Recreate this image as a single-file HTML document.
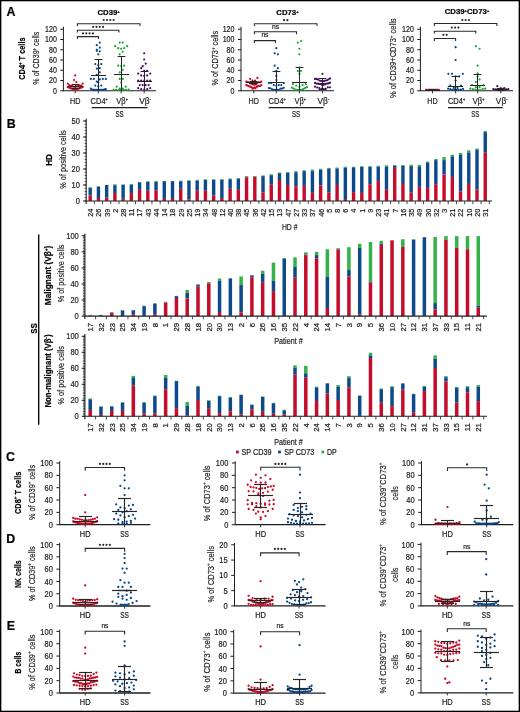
<!DOCTYPE html><html><head><meta charset="utf-8"><style>html,body{margin:0;padding:0;background:#fff;overflow:hidden;width:520px;height:712px;}svg{display:block;font-family:"Liberation Sans",sans-serif;will-change:transform;}</style></head><body><svg width="520" height="712" viewBox="0 0 520 712" font-family="Liberation Sans, sans-serif"><rect x="0" y="0" width="520" height="1.3" fill="#000"/>
<rect x="0" y="710.7" width="520" height="1.3" fill="#000"/>
<rect x="0" y="0" width="1.35" height="712" fill="#000"/>
<rect x="518.65" y="0" width="1.35" height="712" fill="#000"/>
<text transform="translate(6.6,15.5)" font-size="12.4" text-anchor="start" font-weight="bold" fill="#000" stroke="#000" stroke-width="0.2">A</text>
<text transform="translate(6.7,127.5)" font-size="12.4" text-anchor="start" font-weight="bold" fill="#000" stroke="#000" stroke-width="0.2">B</text>
<text transform="translate(6,460.9)" font-size="12.4" text-anchor="start" font-weight="bold" fill="#000" stroke="#000" stroke-width="0.2">C</text>
<text transform="translate(6.3,542.6)" font-size="12.4" text-anchor="start" font-weight="bold" fill="#000" stroke="#000" stroke-width="0.2">D</text>
<text transform="translate(6.8,629.5)" font-size="12.4" text-anchor="start" font-weight="bold" fill="#000" stroke="#000" stroke-width="0.2">E</text>
<text transform="translate(108.6,15) scale(0.970,1)" font-size="8" text-anchor="middle" font-weight="bold" fill="#000" stroke="#000" stroke-width="0.2">CD39<tspan font-size="4.4" baseline-shift="2.24">+</tspan></text>
<line x1="63.4" y1="26.65" x2="63.4" y2="91.25" stroke="#1e1e1e" stroke-width="1"/>
<line x1="60.3" y1="90.75" x2="63.4" y2="90.75" stroke="#1e1e1e" stroke-width="1"/>
<text transform="translate(56.8,93.7) scale(0.860,1)" font-size="8.2" text-anchor="end" fill="#1e1e1e" stroke="#1e1e1e" stroke-width="0.22">0</text>
<line x1="60.3" y1="80.5" x2="63.4" y2="80.5" stroke="#1e1e1e" stroke-width="1"/>
<text transform="translate(56.8,83.45) scale(0.860,1)" font-size="8.2" text-anchor="end" fill="#1e1e1e" stroke="#1e1e1e" stroke-width="0.22">20</text>
<line x1="60.3" y1="70.25" x2="63.4" y2="70.25" stroke="#1e1e1e" stroke-width="1"/>
<text transform="translate(56.8,73.2) scale(0.860,1)" font-size="8.2" text-anchor="end" fill="#1e1e1e" stroke="#1e1e1e" stroke-width="0.22">40</text>
<line x1="60.3" y1="60" x2="63.4" y2="60" stroke="#1e1e1e" stroke-width="1"/>
<text transform="translate(56.8,62.95) scale(0.860,1)" font-size="8.2" text-anchor="end" fill="#1e1e1e" stroke="#1e1e1e" stroke-width="0.22">60</text>
<line x1="60.3" y1="49.75" x2="63.4" y2="49.75" stroke="#1e1e1e" stroke-width="1"/>
<text transform="translate(56.8,52.7) scale(0.860,1)" font-size="8.2" text-anchor="end" fill="#1e1e1e" stroke="#1e1e1e" stroke-width="0.22">80</text>
<line x1="60.3" y1="39.5" x2="63.4" y2="39.5" stroke="#1e1e1e" stroke-width="1"/>
<text transform="translate(56.8,42.45) scale(0.860,1)" font-size="8.2" text-anchor="end" fill="#1e1e1e" stroke="#1e1e1e" stroke-width="0.22">100</text>
<line x1="60.3" y1="29.25" x2="63.4" y2="29.25" stroke="#1e1e1e" stroke-width="1"/>
<text transform="translate(56.8,32.2) scale(0.860,1)" font-size="8.2" text-anchor="end" fill="#1e1e1e" stroke="#1e1e1e" stroke-width="0.22">120</text>
<line x1="63.4" y1="90.75" x2="156" y2="90.75" stroke="#1e1e1e" stroke-width="1.1"/>
<line x1="75.2" y1="90.75" x2="75.2" y2="93.35" stroke="#1e1e1e" stroke-width="0.9"/>
<line x1="98.3" y1="90.75" x2="98.3" y2="93.35" stroke="#1e1e1e" stroke-width="0.9"/>
<line x1="121.2" y1="90.75" x2="121.2" y2="93.35" stroke="#1e1e1e" stroke-width="0.9"/>
<line x1="144.2" y1="90.75" x2="144.2" y2="93.35" stroke="#1e1e1e" stroke-width="0.9"/>
<path d="M75.2 75.38m-1.1 0a1.1 1.1 0 1 0 2.2 0a1.1 1.1 0 1 0 -2.2 0M76.3 82.04m-1.1 0a1.1 1.1 0 1 0 2.2 0a1.1 1.1 0 1 0 -2.2 0M74.1 79.99m-1.1 0a1.1 1.1 0 1 0 2.2 0a1.1 1.1 0 1 0 -2.2 0M75.2 86.65m-1.1 0a1.1 1.1 0 1 0 2.2 0a1.1 1.1 0 1 0 -2.2 0M73.7 86.65m-1.1 0a1.1 1.1 0 1 0 2.2 0a1.1 1.1 0 1 0 -2.2 0M76.7 86.39m-1.1 0a1.1 1.1 0 1 0 2.2 0a1.1 1.1 0 1 0 -2.2 0M72.2 86.14m-1.1 0a1.1 1.1 0 1 0 2.2 0a1.1 1.1 0 1 0 -2.2 0M78.2 86.14m-1.1 0a1.1 1.1 0 1 0 2.2 0a1.1 1.1 0 1 0 -2.2 0M70.7 85.88m-1.1 0a1.1 1.1 0 1 0 2.2 0a1.1 1.1 0 1 0 -2.2 0M79.7 85.62m-1.1 0a1.1 1.1 0 1 0 2.2 0a1.1 1.1 0 1 0 -2.2 0M81.2 85.62m-1.1 0a1.1 1.1 0 1 0 2.2 0a1.1 1.1 0 1 0 -2.2 0M69.2 85.11m-1.1 0a1.1 1.1 0 1 0 2.2 0a1.1 1.1 0 1 0 -2.2 0M67.7 83.58m-1.1 0a1.1 1.1 0 1 0 2.2 0a1.1 1.1 0 1 0 -2.2 0M82.7 83.58m-1.1 0a1.1 1.1 0 1 0 2.2 0a1.1 1.1 0 1 0 -2.2 0M75.2 89.75m-1.1 0a1.1 1.1 0 1 0 2.2 0a1.1 1.1 0 1 0 -2.2 0M76.03 89.75m-1.1 0a1.1 1.1 0 1 0 2.2 0a1.1 1.1 0 1 0 -2.2 0M74.37 89.72m-1.1 0a1.1 1.1 0 1 0 2.2 0a1.1 1.1 0 1 0 -2.2 0M73.53 89.47m-1.1 0a1.1 1.1 0 1 0 2.2 0a1.1 1.1 0 1 0 -2.2 0M76.87 89.21m-1.1 0a1.1 1.1 0 1 0 2.2 0a1.1 1.1 0 1 0 -2.2 0M72.7 89.21m-1.1 0a1.1 1.1 0 1 0 2.2 0a1.1 1.1 0 1 0 -2.2 0M77.7 88.96m-1.1 0a1.1 1.1 0 1 0 2.2 0a1.1 1.1 0 1 0 -2.2 0M71.87 88.7m-1.1 0a1.1 1.1 0 1 0 2.2 0a1.1 1.1 0 1 0 -2.2 0M78.53 88.7m-1.1 0a1.1 1.1 0 1 0 2.2 0a1.1 1.1 0 1 0 -2.2 0M71.03 88.44m-1.1 0a1.1 1.1 0 1 0 2.2 0a1.1 1.1 0 1 0 -2.2 0M79.37 88.19m-1.1 0a1.1 1.1 0 1 0 2.2 0a1.1 1.1 0 1 0 -2.2 0M70.2 88.19m-1.1 0a1.1 1.1 0 1 0 2.2 0a1.1 1.1 0 1 0 -2.2 0M80.2 87.93m-1.1 0a1.1 1.1 0 1 0 2.2 0a1.1 1.1 0 1 0 -2.2 0M81.03 87.67m-1.1 0a1.1 1.1 0 1 0 2.2 0a1.1 1.1 0 1 0 -2.2 0M69.37 87.67m-1.1 0a1.1 1.1 0 1 0 2.2 0a1.1 1.1 0 1 0 -2.2 0M81.87 87.42m-1.1 0a1.1 1.1 0 1 0 2.2 0a1.1 1.1 0 1 0 -2.2 0M68.53 87.16m-1.1 0a1.1 1.1 0 1 0 2.2 0a1.1 1.1 0 1 0 -2.2 0M67.7 87.16m-1.1 0a1.1 1.1 0 1 0 2.2 0a1.1 1.1 0 1 0 -2.2 0M82.7 86.91m-1.1 0a1.1 1.1 0 1 0 2.2 0a1.1 1.1 0 1 0 -2.2 0" fill="#cc0a26"/>
<path d="M96.8 45.14m-1.1 0a1.1 1.1 0 1 0 2.2 0a1.1 1.1 0 1 0 -2.2 0M99.8 42.58m-1.1 0a1.1 1.1 0 1 0 2.2 0a1.1 1.1 0 1 0 -2.2 0M96.8 49.75m-1.1 0a1.1 1.1 0 1 0 2.2 0a1.1 1.1 0 1 0 -2.2 0M99.8 47.7m-1.1 0a1.1 1.1 0 1 0 2.2 0a1.1 1.1 0 1 0 -2.2 0M99.8 51.29m-1.1 0a1.1 1.1 0 1 0 2.2 0a1.1 1.1 0 1 0 -2.2 0M96.8 50.78m-1.1 0a1.1 1.1 0 1 0 2.2 0a1.1 1.1 0 1 0 -2.2 0M98.3 54.36m-1.1 0a1.1 1.1 0 1 0 2.2 0a1.1 1.1 0 1 0 -2.2 0M98.3 65.12m-1.1 0a1.1 1.1 0 1 0 2.2 0a1.1 1.1 0 1 0 -2.2 0M101.3 64.1m-1.1 0a1.1 1.1 0 1 0 2.2 0a1.1 1.1 0 1 0 -2.2 0M95.3 64.1m-1.1 0a1.1 1.1 0 1 0 2.2 0a1.1 1.1 0 1 0 -2.2 0M96.8 68.71m-1.1 0a1.1 1.1 0 1 0 2.2 0a1.1 1.1 0 1 0 -2.2 0M99.8 68.2m-1.1 0a1.1 1.1 0 1 0 2.2 0a1.1 1.1 0 1 0 -2.2 0M96.8 74.86m-1.1 0a1.1 1.1 0 1 0 2.2 0a1.1 1.1 0 1 0 -2.2 0M99.8 72.3m-1.1 0a1.1 1.1 0 1 0 2.2 0a1.1 1.1 0 1 0 -2.2 0M96.8 81.53m-1.1 0a1.1 1.1 0 1 0 2.2 0a1.1 1.1 0 1 0 -2.2 0M99.8 79.47m-1.1 0a1.1 1.1 0 1 0 2.2 0a1.1 1.1 0 1 0 -2.2 0M93.8 78.96m-1.1 0a1.1 1.1 0 1 0 2.2 0a1.1 1.1 0 1 0 -2.2 0M102.8 78.96m-1.1 0a1.1 1.1 0 1 0 2.2 0a1.1 1.1 0 1 0 -2.2 0M105.8 78.96m-1.1 0a1.1 1.1 0 1 0 2.2 0a1.1 1.1 0 1 0 -2.2 0M90.8 78.96m-1.1 0a1.1 1.1 0 1 0 2.2 0a1.1 1.1 0 1 0 -2.2 0M98.3 82.55m-1.1 0a1.1 1.1 0 1 0 2.2 0a1.1 1.1 0 1 0 -2.2 0M98.3 86.39m-1.1 0a1.1 1.1 0 1 0 2.2 0a1.1 1.1 0 1 0 -2.2 0M95.3 85.62m-1.1 0a1.1 1.1 0 1 0 2.2 0a1.1 1.1 0 1 0 -2.2 0M101.3 85.62m-1.1 0a1.1 1.1 0 1 0 2.2 0a1.1 1.1 0 1 0 -2.2 0M98.98 89.75m-1.1 0a1.1 1.1 0 1 0 2.2 0a1.1 1.1 0 1 0 -2.2 0M97.62 89.75m-1.1 0a1.1 1.1 0 1 0 2.2 0a1.1 1.1 0 1 0 -2.2 0M100.35 89.75m-1.1 0a1.1 1.1 0 1 0 2.2 0a1.1 1.1 0 1 0 -2.2 0M96.25 89.75m-1.1 0a1.1 1.1 0 1 0 2.2 0a1.1 1.1 0 1 0 -2.2 0M101.71 89.75m-1.1 0a1.1 1.1 0 1 0 2.2 0a1.1 1.1 0 1 0 -2.2 0M94.89 89.75m-1.1 0a1.1 1.1 0 1 0 2.2 0a1.1 1.1 0 1 0 -2.2 0M103.07 89.75m-1.1 0a1.1 1.1 0 1 0 2.2 0a1.1 1.1 0 1 0 -2.2 0M93.53 89.75m-1.1 0a1.1 1.1 0 1 0 2.2 0a1.1 1.1 0 1 0 -2.2 0M92.16 89.72m-1.1 0a1.1 1.1 0 1 0 2.2 0a1.1 1.1 0 1 0 -2.2 0M104.44 89.47m-1.1 0a1.1 1.1 0 1 0 2.2 0a1.1 1.1 0 1 0 -2.2 0M105.8 89.21m-1.1 0a1.1 1.1 0 1 0 2.2 0a1.1 1.1 0 1 0 -2.2 0M90.8 88.7m-1.1 0a1.1 1.1 0 1 0 2.2 0a1.1 1.1 0 1 0 -2.2 0" fill="#08478a"/>
<path d="M119.7 42.58m-1.1 0a1.1 1.1 0 1 0 2.2 0a1.1 1.1 0 1 0 -2.2 0M122.7 42.58m-1.1 0a1.1 1.1 0 1 0 2.2 0a1.1 1.1 0 1 0 -2.2 0M121.2 48.73m-1.1 0a1.1 1.1 0 1 0 2.2 0a1.1 1.1 0 1 0 -2.2 0M124.2 48.21m-1.1 0a1.1 1.1 0 1 0 2.2 0a1.1 1.1 0 1 0 -2.2 0M118.2 48.21m-1.1 0a1.1 1.1 0 1 0 2.2 0a1.1 1.1 0 1 0 -2.2 0M127.2 46.16m-1.1 0a1.1 1.1 0 1 0 2.2 0a1.1 1.1 0 1 0 -2.2 0M115.2 46.16m-1.1 0a1.1 1.1 0 1 0 2.2 0a1.1 1.1 0 1 0 -2.2 0M119.7 54.36m-1.1 0a1.1 1.1 0 1 0 2.2 0a1.1 1.1 0 1 0 -2.2 0M122.7 51.8m-1.1 0a1.1 1.1 0 1 0 2.2 0a1.1 1.1 0 1 0 -2.2 0M121.2 66.15m-1.1 0a1.1 1.1 0 1 0 2.2 0a1.1 1.1 0 1 0 -2.2 0M124.2 65.64m-1.1 0a1.1 1.1 0 1 0 2.2 0a1.1 1.1 0 1 0 -2.2 0M118.2 65.64m-1.1 0a1.1 1.1 0 1 0 2.2 0a1.1 1.1 0 1 0 -2.2 0M119.7 72.3m-1.1 0a1.1 1.1 0 1 0 2.2 0a1.1 1.1 0 1 0 -2.2 0M122.7 69.74m-1.1 0a1.1 1.1 0 1 0 2.2 0a1.1 1.1 0 1 0 -2.2 0M119.7 78.96m-1.1 0a1.1 1.1 0 1 0 2.2 0a1.1 1.1 0 1 0 -2.2 0M122.7 78.96m-1.1 0a1.1 1.1 0 1 0 2.2 0a1.1 1.1 0 1 0 -2.2 0M121.2 82.55m-1.1 0a1.1 1.1 0 1 0 2.2 0a1.1 1.1 0 1 0 -2.2 0M119.7 88.7m-1.1 0a1.1 1.1 0 1 0 2.2 0a1.1 1.1 0 1 0 -2.2 0M122.7 88.7m-1.1 0a1.1 1.1 0 1 0 2.2 0a1.1 1.1 0 1 0 -2.2 0M125.7 86.65m-1.1 0a1.1 1.1 0 1 0 2.2 0a1.1 1.1 0 1 0 -2.2 0M116.7 86.65m-1.1 0a1.1 1.1 0 1 0 2.2 0a1.1 1.1 0 1 0 -2.2 0M121.2 89.75m-1.1 0a1.1 1.1 0 1 0 2.2 0a1.1 1.1 0 1 0 -2.2 0M118.7 89.75m-1.1 0a1.1 1.1 0 1 0 2.2 0a1.1 1.1 0 1 0 -2.2 0M123.7 89.75m-1.1 0a1.1 1.1 0 1 0 2.2 0a1.1 1.1 0 1 0 -2.2 0M116.2 89.75m-1.1 0a1.1 1.1 0 1 0 2.2 0a1.1 1.1 0 1 0 -2.2 0M126.2 89.75m-1.1 0a1.1 1.1 0 1 0 2.2 0a1.1 1.1 0 1 0 -2.2 0M113.7 89.75m-1.1 0a1.1 1.1 0 1 0 2.2 0a1.1 1.1 0 1 0 -2.2 0M128.7 89.72m-1.1 0a1.1 1.1 0 1 0 2.2 0a1.1 1.1 0 1 0 -2.2 0" fill="#17a636"/>
<path d="M144.2 53.34m-1.1 0a1.1 1.1 0 1 0 2.2 0a1.1 1.1 0 1 0 -2.2 0M144.2 59.49m-1.1 0a1.1 1.1 0 1 0 2.2 0a1.1 1.1 0 1 0 -2.2 0M142.7 66.15m-1.1 0a1.1 1.1 0 1 0 2.2 0a1.1 1.1 0 1 0 -2.2 0M145.7 63.59m-1.1 0a1.1 1.1 0 1 0 2.2 0a1.1 1.1 0 1 0 -2.2 0M144.2 70.76m-1.1 0a1.1 1.1 0 1 0 2.2 0a1.1 1.1 0 1 0 -2.2 0M147.2 70.76m-1.1 0a1.1 1.1 0 1 0 2.2 0a1.1 1.1 0 1 0 -2.2 0M141.2 68.2m-1.1 0a1.1 1.1 0 1 0 2.2 0a1.1 1.1 0 1 0 -2.2 0M144.2 75.89m-1.1 0a1.1 1.1 0 1 0 2.2 0a1.1 1.1 0 1 0 -2.2 0M147.2 75.38m-1.1 0a1.1 1.1 0 1 0 2.2 0a1.1 1.1 0 1 0 -2.2 0M141.2 75.38m-1.1 0a1.1 1.1 0 1 0 2.2 0a1.1 1.1 0 1 0 -2.2 0M138.2 73.58m-1.1 0a1.1 1.1 0 1 0 2.2 0a1.1 1.1 0 1 0 -2.2 0M150.2 73.58m-1.1 0a1.1 1.1 0 1 0 2.2 0a1.1 1.1 0 1 0 -2.2 0M144.2 80.5m-1.1 0a1.1 1.1 0 1 0 2.2 0a1.1 1.1 0 1 0 -2.2 0M141.2 80.5m-1.1 0a1.1 1.1 0 1 0 2.2 0a1.1 1.1 0 1 0 -2.2 0M147.2 80.5m-1.1 0a1.1 1.1 0 1 0 2.2 0a1.1 1.1 0 1 0 -2.2 0M138.2 80.5m-1.1 0a1.1 1.1 0 1 0 2.2 0a1.1 1.1 0 1 0 -2.2 0M150.2 80.5m-1.1 0a1.1 1.1 0 1 0 2.2 0a1.1 1.1 0 1 0 -2.2 0M145.7 85.11m-1.1 0a1.1 1.1 0 1 0 2.2 0a1.1 1.1 0 1 0 -2.2 0M142.7 85.11m-1.1 0a1.1 1.1 0 1 0 2.2 0a1.1 1.1 0 1 0 -2.2 0M148.7 85.11m-1.1 0a1.1 1.1 0 1 0 2.2 0a1.1 1.1 0 1 0 -2.2 0M139.7 85.11m-1.1 0a1.1 1.1 0 1 0 2.2 0a1.1 1.1 0 1 0 -2.2 0M144.2 89.72m-1.1 0a1.1 1.1 0 1 0 2.2 0a1.1 1.1 0 1 0 -2.2 0M141.2 89.21m-1.1 0a1.1 1.1 0 1 0 2.2 0a1.1 1.1 0 1 0 -2.2 0M147.2 89.21m-1.1 0a1.1 1.1 0 1 0 2.2 0a1.1 1.1 0 1 0 -2.2 0M138.2 88.19m-1.1 0a1.1 1.1 0 1 0 2.2 0a1.1 1.1 0 1 0 -2.2 0M150.2 88.19m-1.1 0a1.1 1.1 0 1 0 2.2 0a1.1 1.1 0 1 0 -2.2 0" fill="#4b0b6b"/>
<line x1="68" y1="86.5" x2="83" y2="86.5" stroke="#262626" stroke-width="1.05"/>
<line x1="75.5" y1="84.5" x2="75.5" y2="88.5" stroke="#262626" stroke-width="1.05"/>
<line x1="71.6" y1="84.5" x2="79.4" y2="84.5" stroke="#262626" stroke-width="1.05"/>
<line x1="71.6" y1="88.5" x2="79.4" y2="88.5" stroke="#262626" stroke-width="1.05"/>
<line x1="91" y1="75.5" x2="106" y2="75.5" stroke="#262626" stroke-width="1.05"/>
<line x1="98.5" y1="59.5" x2="98.5" y2="90.75" stroke="#262626" stroke-width="1.05"/>
<line x1="94.6" y1="59.5" x2="102.4" y2="59.5" stroke="#262626" stroke-width="1.05"/>
<line x1="114" y1="74.5" x2="129" y2="74.5" stroke="#262626" stroke-width="1.05"/>
<line x1="121.5" y1="56.5" x2="121.5" y2="90.75" stroke="#262626" stroke-width="1.05"/>
<line x1="117.6" y1="56.5" x2="125.4" y2="56.5" stroke="#262626" stroke-width="1.05"/>
<line x1="137" y1="81.5" x2="152" y2="81.5" stroke="#262626" stroke-width="1.05"/>
<line x1="144.5" y1="71.5" x2="144.5" y2="90.75" stroke="#262626" stroke-width="1.05"/>
<line x1="140.6" y1="71.5" x2="148.4" y2="71.5" stroke="#262626" stroke-width="1.05"/>
<path d="M77.4 39V36.6H98.5V39" fill="none" stroke="#2a2a2a" stroke-width="1.1"/>
<path d="M83 33.3m-1.1 0a1.1 1.1 0 1 0 2.2 0a1.1 1.1 0 1 0 -2.2 0M86.3 33.3m-1.1 0a1.1 1.1 0 1 0 2.2 0a1.1 1.1 0 1 0 -2.2 0M89.6 33.3m-1.1 0a1.1 1.1 0 1 0 2.2 0a1.1 1.1 0 1 0 -2.2 0M92.9 33.3m-1.1 0a1.1 1.1 0 1 0 2.2 0a1.1 1.1 0 1 0 -2.2 0" fill="#2a2a2a"/>
<path d="M77.4 32.6V30.2H118.9V32.6" fill="none" stroke="#2a2a2a" stroke-width="1.1"/>
<path d="M93.2 26.8m-1.1 0a1.1 1.1 0 1 0 2.2 0a1.1 1.1 0 1 0 -2.2 0M96.5 26.8m-1.1 0a1.1 1.1 0 1 0 2.2 0a1.1 1.1 0 1 0 -2.2 0M99.8 26.8m-1.1 0a1.1 1.1 0 1 0 2.2 0a1.1 1.1 0 1 0 -2.2 0M103.1 26.8m-1.1 0a1.1 1.1 0 1 0 2.2 0a1.1 1.1 0 1 0 -2.2 0" fill="#2a2a2a"/>
<path d="M77.4 26.1V23.7H140V26.1" fill="none" stroke="#2a2a2a" stroke-width="1.1"/>
<path d="M103.75 20m-1.1 0a1.1 1.1 0 1 0 2.2 0a1.1 1.1 0 1 0 -2.2 0M107.05 20m-1.1 0a1.1 1.1 0 1 0 2.2 0a1.1 1.1 0 1 0 -2.2 0M110.35 20m-1.1 0a1.1 1.1 0 1 0 2.2 0a1.1 1.1 0 1 0 -2.2 0M113.65 20m-1.1 0a1.1 1.1 0 1 0 2.2 0a1.1 1.1 0 1 0 -2.2 0" fill="#2a2a2a"/>
<text transform="translate(75.2,103.5) scale(0.800,1)" font-size="9" text-anchor="middle" fill="#1e1e1e" stroke="#1e1e1e" stroke-width="0.22">HD</text>
<text transform="translate(99.2,103.5) scale(0.832,1)" font-size="9" text-anchor="middle" fill="#1e1e1e" stroke="#1e1e1e" stroke-width="0.22">CD4<tspan font-size="4.5" baseline-shift="1.98">+</tspan></text>
<text transform="translate(122.1,103.5) scale(0.837,1)" font-size="9" text-anchor="middle" fill="#1e1e1e" stroke="#1e1e1e" stroke-width="0.22">V&#946;<tspan font-size="4.5" baseline-shift="1.98">+</tspan></text>
<text transform="translate(145.1,103.5) scale(0.925,1)" font-size="9" text-anchor="middle" fill="#1e1e1e" stroke="#1e1e1e" stroke-width="0.22">V&#946;<tspan font-size="4.5" baseline-shift="1.98">-</tspan></text>
<line x1="91.7" y1="107.6" x2="147.5" y2="107.6" stroke="#1e1e1e" stroke-width="1.2"/>
<text transform="translate(119.6,117.4) scale(0.640,1)" font-size="9.6" text-anchor="middle" fill="#1e1e1e" stroke="#1e1e1e" stroke-width="0.22">SS</text>
<text transform="translate(39.2,58.2) rotate(-90) scale(0.723,1)" font-size="9.8" text-anchor="middle" fill="#1e1e1e" stroke="#1e1e1e" stroke-width="0.17">% of CD39<tspan font-size="5.88" baseline-shift="3.53">+</tspan> cells</text>
<text transform="translate(25.3,58.6) rotate(-90) scale(0.819,1)" font-size="9" text-anchor="middle" font-weight="bold" fill="#000" stroke="#000" stroke-width="0.2">CD4<tspan font-size="5.4" baseline-shift="3.24">+</tspan> T cells</text>
<text transform="translate(287.5,15) scale(0.970,1)" font-size="8" text-anchor="middle" font-weight="bold" fill="#000" stroke="#000" stroke-width="0.2">CD73<tspan font-size="4.4" baseline-shift="2.24">+</tspan></text>
<line x1="241" y1="26.65" x2="241" y2="91.25" stroke="#1e1e1e" stroke-width="1"/>
<line x1="237.9" y1="90.75" x2="241" y2="90.75" stroke="#1e1e1e" stroke-width="1"/>
<text transform="translate(234.4,93.7) scale(0.860,1)" font-size="8.2" text-anchor="end" fill="#1e1e1e" stroke="#1e1e1e" stroke-width="0.22">0</text>
<line x1="237.9" y1="80.5" x2="241" y2="80.5" stroke="#1e1e1e" stroke-width="1"/>
<text transform="translate(234.4,83.45) scale(0.860,1)" font-size="8.2" text-anchor="end" fill="#1e1e1e" stroke="#1e1e1e" stroke-width="0.22">20</text>
<line x1="237.9" y1="70.25" x2="241" y2="70.25" stroke="#1e1e1e" stroke-width="1"/>
<text transform="translate(234.4,73.2) scale(0.860,1)" font-size="8.2" text-anchor="end" fill="#1e1e1e" stroke="#1e1e1e" stroke-width="0.22">40</text>
<line x1="237.9" y1="60" x2="241" y2="60" stroke="#1e1e1e" stroke-width="1"/>
<text transform="translate(234.4,62.95) scale(0.860,1)" font-size="8.2" text-anchor="end" fill="#1e1e1e" stroke="#1e1e1e" stroke-width="0.22">60</text>
<line x1="237.9" y1="49.75" x2="241" y2="49.75" stroke="#1e1e1e" stroke-width="1"/>
<text transform="translate(234.4,52.7) scale(0.860,1)" font-size="8.2" text-anchor="end" fill="#1e1e1e" stroke="#1e1e1e" stroke-width="0.22">80</text>
<line x1="237.9" y1="39.5" x2="241" y2="39.5" stroke="#1e1e1e" stroke-width="1"/>
<text transform="translate(234.4,42.45) scale(0.860,1)" font-size="8.2" text-anchor="end" fill="#1e1e1e" stroke="#1e1e1e" stroke-width="0.22">100</text>
<line x1="237.9" y1="29.25" x2="241" y2="29.25" stroke="#1e1e1e" stroke-width="1"/>
<text transform="translate(234.4,32.2) scale(0.860,1)" font-size="8.2" text-anchor="end" fill="#1e1e1e" stroke="#1e1e1e" stroke-width="0.22">120</text>
<line x1="241" y1="90.75" x2="334" y2="90.75" stroke="#1e1e1e" stroke-width="1.1"/>
<line x1="253.8" y1="90.75" x2="253.8" y2="93.35" stroke="#1e1e1e" stroke-width="0.9"/>
<line x1="276.3" y1="90.75" x2="276.3" y2="93.35" stroke="#1e1e1e" stroke-width="0.9"/>
<line x1="299.4" y1="90.75" x2="299.4" y2="93.35" stroke="#1e1e1e" stroke-width="0.9"/>
<line x1="322.5" y1="90.75" x2="322.5" y2="93.35" stroke="#1e1e1e" stroke-width="0.9"/>
<path d="M252.6 80.5m-1.1 0a1.1 1.1 0 1 0 2.2 0a1.1 1.1 0 1 0 -2.2 0M255 80.5m-1.1 0a1.1 1.1 0 1 0 2.2 0a1.1 1.1 0 1 0 -2.2 0M250.2 78.96m-1.1 0a1.1 1.1 0 1 0 2.2 0a1.1 1.1 0 1 0 -2.2 0M257.4 77.94m-1.1 0a1.1 1.1 0 1 0 2.2 0a1.1 1.1 0 1 0 -2.2 0M253.8 84.76m-1.1 0a1.1 1.1 0 1 0 2.2 0a1.1 1.1 0 1 0 -2.2 0M255.05 84.74m-1.1 0a1.1 1.1 0 1 0 2.2 0a1.1 1.1 0 1 0 -2.2 0M252.55 84.21m-1.1 0a1.1 1.1 0 1 0 2.2 0a1.1 1.1 0 1 0 -2.2 0M256.3 84.14m-1.1 0a1.1 1.1 0 1 0 2.2 0a1.1 1.1 0 1 0 -2.2 0M251.3 83.63m-1.1 0a1.1 1.1 0 1 0 2.2 0a1.1 1.1 0 1 0 -2.2 0M250.05 83.47m-1.1 0a1.1 1.1 0 1 0 2.2 0a1.1 1.1 0 1 0 -2.2 0M257.55 82.42m-1.1 0a1.1 1.1 0 1 0 2.2 0a1.1 1.1 0 1 0 -2.2 0M258.8 82.29m-1.1 0a1.1 1.1 0 1 0 2.2 0a1.1 1.1 0 1 0 -2.2 0M248.8 82.26m-1.1 0a1.1 1.1 0 1 0 2.2 0a1.1 1.1 0 1 0 -2.2 0M260.05 82.24m-1.1 0a1.1 1.1 0 1 0 2.2 0a1.1 1.1 0 1 0 -2.2 0M247.55 82.17m-1.1 0a1.1 1.1 0 1 0 2.2 0a1.1 1.1 0 1 0 -2.2 0M261.3 81.67m-1.1 0a1.1 1.1 0 1 0 2.2 0a1.1 1.1 0 1 0 -2.2 0M246.3 81.65m-1.1 0a1.1 1.1 0 1 0 2.2 0a1.1 1.1 0 1 0 -2.2 0M253.8 88.17m-1.1 0a1.1 1.1 0 1 0 2.2 0a1.1 1.1 0 1 0 -2.2 0M252.73 88.06m-1.1 0a1.1 1.1 0 1 0 2.2 0a1.1 1.1 0 1 0 -2.2 0M254.87 87.65m-1.1 0a1.1 1.1 0 1 0 2.2 0a1.1 1.1 0 1 0 -2.2 0M255.94 87.63m-1.1 0a1.1 1.1 0 1 0 2.2 0a1.1 1.1 0 1 0 -2.2 0M251.66 87.34m-1.1 0a1.1 1.1 0 1 0 2.2 0a1.1 1.1 0 1 0 -2.2 0M250.59 86.94m-1.1 0a1.1 1.1 0 1 0 2.2 0a1.1 1.1 0 1 0 -2.2 0M257.01 86.65m-1.1 0a1.1 1.1 0 1 0 2.2 0a1.1 1.1 0 1 0 -2.2 0M249.51 86.49m-1.1 0a1.1 1.1 0 1 0 2.2 0a1.1 1.1 0 1 0 -2.2 0M258.09 86.1m-1.1 0a1.1 1.1 0 1 0 2.2 0a1.1 1.1 0 1 0 -2.2 0M259.16 86.02m-1.1 0a1.1 1.1 0 1 0 2.2 0a1.1 1.1 0 1 0 -2.2 0M248.44 86.02m-1.1 0a1.1 1.1 0 1 0 2.2 0a1.1 1.1 0 1 0 -2.2 0M260.23 86.01m-1.1 0a1.1 1.1 0 1 0 2.2 0a1.1 1.1 0 1 0 -2.2 0M247.37 85.55m-1.1 0a1.1 1.1 0 1 0 2.2 0a1.1 1.1 0 1 0 -2.2 0M261.3 85.1m-1.1 0a1.1 1.1 0 1 0 2.2 0a1.1 1.1 0 1 0 -2.2 0M246.3 85.07m-1.1 0a1.1 1.1 0 1 0 2.2 0a1.1 1.1 0 1 0 -2.2 0M252.6 88.64m-1.1 0a1.1 1.1 0 1 0 2.2 0a1.1 1.1 0 1 0 -2.2 0M255 88.3m-1.1 0a1.1 1.1 0 1 0 2.2 0a1.1 1.1 0 1 0 -2.2 0" fill="#cc0a26"/>
<path d="M276.3 48.21m-1.1 0a1.1 1.1 0 1 0 2.2 0a1.1 1.1 0 1 0 -2.2 0M277.9 54.36m-1.1 0a1.1 1.1 0 1 0 2.2 0a1.1 1.1 0 1 0 -2.2 0M274.7 53.34m-1.1 0a1.1 1.1 0 1 0 2.2 0a1.1 1.1 0 1 0 -2.2 0M277.9 68.2m-1.1 0a1.1 1.1 0 1 0 2.2 0a1.1 1.1 0 1 0 -2.2 0M274.7 65.64m-1.1 0a1.1 1.1 0 1 0 2.2 0a1.1 1.1 0 1 0 -2.2 0M276.3 70.76m-1.1 0a1.1 1.1 0 1 0 2.2 0a1.1 1.1 0 1 0 -2.2 0M276.3 75.89m-1.1 0a1.1 1.1 0 1 0 2.2 0a1.1 1.1 0 1 0 -2.2 0M276.3 79.99m-1.1 0a1.1 1.1 0 1 0 2.2 0a1.1 1.1 0 1 0 -2.2 0M276.3 85.62m-1.1 0a1.1 1.1 0 1 0 2.2 0a1.1 1.1 0 1 0 -2.2 0M278.8 85.11m-1.1 0a1.1 1.1 0 1 0 2.2 0a1.1 1.1 0 1 0 -2.2 0M273.8 85.11m-1.1 0a1.1 1.1 0 1 0 2.2 0a1.1 1.1 0 1 0 -2.2 0M281.3 85.11m-1.1 0a1.1 1.1 0 1 0 2.2 0a1.1 1.1 0 1 0 -2.2 0M271.3 83.06m-1.1 0a1.1 1.1 0 1 0 2.2 0a1.1 1.1 0 1 0 -2.2 0M283.8 83.06m-1.1 0a1.1 1.1 0 1 0 2.2 0a1.1 1.1 0 1 0 -2.2 0M268.8 83.06m-1.1 0a1.1 1.1 0 1 0 2.2 0a1.1 1.1 0 1 0 -2.2 0M275.47 89.75m-1.1 0a1.1 1.1 0 1 0 2.2 0a1.1 1.1 0 1 0 -2.2 0M277.13 89.75m-1.1 0a1.1 1.1 0 1 0 2.2 0a1.1 1.1 0 1 0 -2.2 0M278.8 89.75m-1.1 0a1.1 1.1 0 1 0 2.2 0a1.1 1.1 0 1 0 -2.2 0M273.8 89.75m-1.1 0a1.1 1.1 0 1 0 2.2 0a1.1 1.1 0 1 0 -2.2 0M272.13 89.29m-1.1 0a1.1 1.1 0 1 0 2.2 0a1.1 1.1 0 1 0 -2.2 0M280.47 88.71m-1.1 0a1.1 1.1 0 1 0 2.2 0a1.1 1.1 0 1 0 -2.2 0M282.13 88.55m-1.1 0a1.1 1.1 0 1 0 2.2 0a1.1 1.1 0 1 0 -2.2 0M270.47 88.23m-1.1 0a1.1 1.1 0 1 0 2.2 0a1.1 1.1 0 1 0 -2.2 0M268.8 88.08m-1.1 0a1.1 1.1 0 1 0 2.2 0a1.1 1.1 0 1 0 -2.2 0M283.8 87.85m-1.1 0a1.1 1.1 0 1 0 2.2 0a1.1 1.1 0 1 0 -2.2 0" fill="#08478a"/>
<path d="M297.8 42.58m-1.1 0a1.1 1.1 0 1 0 2.2 0a1.1 1.1 0 1 0 -2.2 0M301 41.04m-1.1 0a1.1 1.1 0 1 0 2.2 0a1.1 1.1 0 1 0 -2.2 0M299.4 48.73m-1.1 0a1.1 1.1 0 1 0 2.2 0a1.1 1.1 0 1 0 -2.2 0M299.4 54.36m-1.1 0a1.1 1.1 0 1 0 2.2 0a1.1 1.1 0 1 0 -2.2 0M299.4 67.69m-1.1 0a1.1 1.1 0 1 0 2.2 0a1.1 1.1 0 1 0 -2.2 0M297.8 71.02m-1.1 0a1.1 1.1 0 1 0 2.2 0a1.1 1.1 0 1 0 -2.2 0M301 71.02m-1.1 0a1.1 1.1 0 1 0 2.2 0a1.1 1.1 0 1 0 -2.2 0M299.4 73.84m-1.1 0a1.1 1.1 0 1 0 2.2 0a1.1 1.1 0 1 0 -2.2 0M299.4 86.65m-1.1 0a1.1 1.1 0 1 0 2.2 0a1.1 1.1 0 1 0 -2.2 0M296.2 85.62m-1.1 0a1.1 1.1 0 1 0 2.2 0a1.1 1.1 0 1 0 -2.2 0M302.6 85.11m-1.1 0a1.1 1.1 0 1 0 2.2 0a1.1 1.1 0 1 0 -2.2 0M293 84.09m-1.1 0a1.1 1.1 0 1 0 2.2 0a1.1 1.1 0 1 0 -2.2 0M305.8 84.09m-1.1 0a1.1 1.1 0 1 0 2.2 0a1.1 1.1 0 1 0 -2.2 0M299.4 89.75m-1.1 0a1.1 1.1 0 1 0 2.2 0a1.1 1.1 0 1 0 -2.2 0M297.52 89.75m-1.1 0a1.1 1.1 0 1 0 2.2 0a1.1 1.1 0 1 0 -2.2 0M301.27 89.75m-1.1 0a1.1 1.1 0 1 0 2.2 0a1.1 1.1 0 1 0 -2.2 0M295.65 89.72m-1.1 0a1.1 1.1 0 1 0 2.2 0a1.1 1.1 0 1 0 -2.2 0M303.15 89.21m-1.1 0a1.1 1.1 0 1 0 2.2 0a1.1 1.1 0 1 0 -2.2 0M293.77 88.7m-1.1 0a1.1 1.1 0 1 0 2.2 0a1.1 1.1 0 1 0 -2.2 0M305.02 88.19m-1.1 0a1.1 1.1 0 1 0 2.2 0a1.1 1.1 0 1 0 -2.2 0M291.9 87.67m-1.1 0a1.1 1.1 0 1 0 2.2 0a1.1 1.1 0 1 0 -2.2 0M306.9 87.16m-1.1 0a1.1 1.1 0 1 0 2.2 0a1.1 1.1 0 1 0 -2.2 0" fill="#17a636"/>
<path d="M322.5 73.84m-1.1 0a1.1 1.1 0 1 0 2.2 0a1.1 1.1 0 1 0 -2.2 0M322.5 81.45m-1.1 0a1.1 1.1 0 1 0 2.2 0a1.1 1.1 0 1 0 -2.2 0M324 81.13m-1.1 0a1.1 1.1 0 1 0 2.2 0a1.1 1.1 0 1 0 -2.2 0M321 80.81m-1.1 0a1.1 1.1 0 1 0 2.2 0a1.1 1.1 0 1 0 -2.2 0M319.5 80.56m-1.1 0a1.1 1.1 0 1 0 2.2 0a1.1 1.1 0 1 0 -2.2 0M325.5 80.49m-1.1 0a1.1 1.1 0 1 0 2.2 0a1.1 1.1 0 1 0 -2.2 0M327 80.32m-1.1 0a1.1 1.1 0 1 0 2.2 0a1.1 1.1 0 1 0 -2.2 0M318 79.47m-1.1 0a1.1 1.1 0 1 0 2.2 0a1.1 1.1 0 1 0 -2.2 0M328.5 79.47m-1.1 0a1.1 1.1 0 1 0 2.2 0a1.1 1.1 0 1 0 -2.2 0M316.5 78.96m-1.1 0a1.1 1.1 0 1 0 2.2 0a1.1 1.1 0 1 0 -2.2 0M315 78.96m-1.1 0a1.1 1.1 0 1 0 2.2 0a1.1 1.1 0 1 0 -2.2 0M330 78.45m-1.1 0a1.1 1.1 0 1 0 2.2 0a1.1 1.1 0 1 0 -2.2 0M322.5 85.43m-1.1 0a1.1 1.1 0 1 0 2.2 0a1.1 1.1 0 1 0 -2.2 0M324 84.59m-1.1 0a1.1 1.1 0 1 0 2.2 0a1.1 1.1 0 1 0 -2.2 0M321 84.34m-1.1 0a1.1 1.1 0 1 0 2.2 0a1.1 1.1 0 1 0 -2.2 0M325.5 84.04m-1.1 0a1.1 1.1 0 1 0 2.2 0a1.1 1.1 0 1 0 -2.2 0M319.5 84.01m-1.1 0a1.1 1.1 0 1 0 2.2 0a1.1 1.1 0 1 0 -2.2 0M318 83.66m-1.1 0a1.1 1.1 0 1 0 2.2 0a1.1 1.1 0 1 0 -2.2 0M327 83.6m-1.1 0a1.1 1.1 0 1 0 2.2 0a1.1 1.1 0 1 0 -2.2 0M316.5 83.57m-1.1 0a1.1 1.1 0 1 0 2.2 0a1.1 1.1 0 1 0 -2.2 0M328.5 83.39m-1.1 0a1.1 1.1 0 1 0 2.2 0a1.1 1.1 0 1 0 -2.2 0M315 82.93m-1.1 0a1.1 1.1 0 1 0 2.2 0a1.1 1.1 0 1 0 -2.2 0M330 82.63m-1.1 0a1.1 1.1 0 1 0 2.2 0a1.1 1.1 0 1 0 -2.2 0M323.57 89.12m-1.1 0a1.1 1.1 0 1 0 2.2 0a1.1 1.1 0 1 0 -2.2 0M321.43 88.89m-1.1 0a1.1 1.1 0 1 0 2.2 0a1.1 1.1 0 1 0 -2.2 0M325.71 88.8m-1.1 0a1.1 1.1 0 1 0 2.2 0a1.1 1.1 0 1 0 -2.2 0M319.29 88.1m-1.1 0a1.1 1.1 0 1 0 2.2 0a1.1 1.1 0 1 0 -2.2 0M317.14 87.5m-1.1 0a1.1 1.1 0 1 0 2.2 0a1.1 1.1 0 1 0 -2.2 0M327.86 87.29m-1.1 0a1.1 1.1 0 1 0 2.2 0a1.1 1.1 0 1 0 -2.2 0M330 87.28m-1.1 0a1.1 1.1 0 1 0 2.2 0a1.1 1.1 0 1 0 -2.2 0M315 86.64m-1.1 0a1.1 1.1 0 1 0 2.2 0a1.1 1.1 0 1 0 -2.2 0" fill="#4b0b6b"/>
<line x1="246" y1="82.5" x2="261" y2="82.5" stroke="#262626" stroke-width="1.05"/>
<line x1="253.5" y1="81.5" x2="253.5" y2="83.5" stroke="#262626" stroke-width="1.05"/>
<line x1="249.6" y1="81.5" x2="257.4" y2="81.5" stroke="#262626" stroke-width="1.05"/>
<line x1="249.6" y1="83.5" x2="257.4" y2="83.5" stroke="#262626" stroke-width="1.05"/>
<line x1="269" y1="82.5" x2="284" y2="82.5" stroke="#262626" stroke-width="1.05"/>
<line x1="276.5" y1="71.5" x2="276.5" y2="90.75" stroke="#262626" stroke-width="1.05"/>
<line x1="272.6" y1="71.5" x2="280.4" y2="71.5" stroke="#262626" stroke-width="1.05"/>
<line x1="292" y1="82.5" x2="307" y2="82.5" stroke="#262626" stroke-width="1.05"/>
<line x1="299.5" y1="67.5" x2="299.5" y2="90.75" stroke="#262626" stroke-width="1.05"/>
<line x1="295.6" y1="67.5" x2="303.4" y2="67.5" stroke="#262626" stroke-width="1.05"/>
<line x1="315" y1="83.5" x2="330" y2="83.5" stroke="#262626" stroke-width="1.05"/>
<line x1="322.5" y1="78.5" x2="322.5" y2="89.5" stroke="#262626" stroke-width="1.05"/>
<line x1="318.6" y1="78.5" x2="326.4" y2="78.5" stroke="#262626" stroke-width="1.05"/>
<line x1="318.6" y1="89.5" x2="326.4" y2="89.5" stroke="#262626" stroke-width="1.05"/>
<path d="M254.4 43V40.6H275.4V43" fill="none" stroke="#2a2a2a" stroke-width="1.1"/>
<text transform="translate(264.9,37.1) scale(0.930,1)" font-size="7.2" text-anchor="middle" fill="#1e1e1e" stroke="#1e1e1e" stroke-width="0.22">ns</text>
<path d="M254.4 34.2V31.8H296.5V34.2" fill="none" stroke="#2a2a2a" stroke-width="1.1"/>
<text transform="translate(275.45,29) scale(0.930,1)" font-size="7.2" text-anchor="middle" fill="#1e1e1e" stroke="#1e1e1e" stroke-width="0.22">ns</text>
<path d="M254.4 26.1V23.7H317V26.1" fill="none" stroke="#2a2a2a" stroke-width="1.1"/>
<path d="M284.05 20.2m-1.1 0a1.1 1.1 0 1 0 2.2 0a1.1 1.1 0 1 0 -2.2 0M287.35 20.2m-1.1 0a1.1 1.1 0 1 0 2.2 0a1.1 1.1 0 1 0 -2.2 0" fill="#2a2a2a"/>
<text transform="translate(253.8,103.5) scale(0.800,1)" font-size="9" text-anchor="middle" fill="#1e1e1e" stroke="#1e1e1e" stroke-width="0.22">HD</text>
<text transform="translate(277.2,103.5) scale(0.832,1)" font-size="9" text-anchor="middle" fill="#1e1e1e" stroke="#1e1e1e" stroke-width="0.22">CD4<tspan font-size="4.5" baseline-shift="1.98">+</tspan></text>
<text transform="translate(300.3,103.5) scale(0.837,1)" font-size="9" text-anchor="middle" fill="#1e1e1e" stroke="#1e1e1e" stroke-width="0.22">V&#946;<tspan font-size="4.5" baseline-shift="1.98">+</tspan></text>
<text transform="translate(323.4,103.5) scale(0.925,1)" font-size="9" text-anchor="middle" fill="#1e1e1e" stroke="#1e1e1e" stroke-width="0.22">V&#946;<tspan font-size="4.5" baseline-shift="1.98">-</tspan></text>
<line x1="268.7" y1="107.6" x2="323.5" y2="107.6" stroke="#1e1e1e" stroke-width="1.2"/>
<text transform="translate(296.1,117.4) scale(0.640,1)" font-size="9.6" text-anchor="middle" fill="#1e1e1e" stroke="#1e1e1e" stroke-width="0.22">SS</text>
<text transform="translate(218,58.2) rotate(-90) scale(0.749,1)" font-size="9.8" text-anchor="middle" fill="#1e1e1e" stroke="#1e1e1e" stroke-width="0.17">% of CD73<tspan font-size="5.88" baseline-shift="3.53">+</tspan> cells</text>
<text transform="translate(467,13.9) scale(0.970,1)" font-size="8" text-anchor="middle" font-weight="bold" fill="#000" stroke="#000" stroke-width="0.2">CD39<tspan font-size="4.4" baseline-shift="2.24">+</tspan>CD73<tspan font-size="4.4" baseline-shift="2.24">+</tspan></text>
<line x1="420.4" y1="26.65" x2="420.4" y2="91.25" stroke="#1e1e1e" stroke-width="1"/>
<line x1="417.3" y1="90.75" x2="420.4" y2="90.75" stroke="#1e1e1e" stroke-width="1"/>
<text transform="translate(413.8,93.7) scale(0.860,1)" font-size="8.2" text-anchor="end" fill="#1e1e1e" stroke="#1e1e1e" stroke-width="0.22">0</text>
<line x1="417.3" y1="80.5" x2="420.4" y2="80.5" stroke="#1e1e1e" stroke-width="1"/>
<text transform="translate(413.8,83.45) scale(0.860,1)" font-size="8.2" text-anchor="end" fill="#1e1e1e" stroke="#1e1e1e" stroke-width="0.22">20</text>
<line x1="417.3" y1="70.25" x2="420.4" y2="70.25" stroke="#1e1e1e" stroke-width="1"/>
<text transform="translate(413.8,73.2) scale(0.860,1)" font-size="8.2" text-anchor="end" fill="#1e1e1e" stroke="#1e1e1e" stroke-width="0.22">40</text>
<line x1="417.3" y1="60" x2="420.4" y2="60" stroke="#1e1e1e" stroke-width="1"/>
<text transform="translate(413.8,62.95) scale(0.860,1)" font-size="8.2" text-anchor="end" fill="#1e1e1e" stroke="#1e1e1e" stroke-width="0.22">60</text>
<line x1="417.3" y1="49.75" x2="420.4" y2="49.75" stroke="#1e1e1e" stroke-width="1"/>
<text transform="translate(413.8,52.7) scale(0.860,1)" font-size="8.2" text-anchor="end" fill="#1e1e1e" stroke="#1e1e1e" stroke-width="0.22">80</text>
<line x1="417.3" y1="39.5" x2="420.4" y2="39.5" stroke="#1e1e1e" stroke-width="1"/>
<text transform="translate(413.8,42.45) scale(0.860,1)" font-size="8.2" text-anchor="end" fill="#1e1e1e" stroke="#1e1e1e" stroke-width="0.22">100</text>
<line x1="417.3" y1="29.25" x2="420.4" y2="29.25" stroke="#1e1e1e" stroke-width="1"/>
<text transform="translate(413.8,32.2) scale(0.860,1)" font-size="8.2" text-anchor="end" fill="#1e1e1e" stroke="#1e1e1e" stroke-width="0.22">120</text>
<line x1="420.4" y1="90.75" x2="513" y2="90.75" stroke="#1e1e1e" stroke-width="1.1"/>
<line x1="432.5" y1="90.75" x2="432.5" y2="93.35" stroke="#1e1e1e" stroke-width="0.9"/>
<line x1="455.6" y1="90.75" x2="455.6" y2="93.35" stroke="#1e1e1e" stroke-width="0.9"/>
<line x1="477.7" y1="90.75" x2="477.7" y2="93.35" stroke="#1e1e1e" stroke-width="0.9"/>
<line x1="500.8" y1="90.75" x2="500.8" y2="93.35" stroke="#1e1e1e" stroke-width="0.9"/>
<path d="M432.93 89.75m-1.1 0a1.1 1.1 0 1 0 2.2 0a1.1 1.1 0 1 0 -2.2 0M432.07 89.75m-1.1 0a1.1 1.1 0 1 0 2.2 0a1.1 1.1 0 1 0 -2.2 0M433.8 89.75m-1.1 0a1.1 1.1 0 1 0 2.2 0a1.1 1.1 0 1 0 -2.2 0M431.2 89.75m-1.1 0a1.1 1.1 0 1 0 2.2 0a1.1 1.1 0 1 0 -2.2 0M430.33 89.75m-1.1 0a1.1 1.1 0 1 0 2.2 0a1.1 1.1 0 1 0 -2.2 0M434.67 89.75m-1.1 0a1.1 1.1 0 1 0 2.2 0a1.1 1.1 0 1 0 -2.2 0M435.53 89.75m-1.1 0a1.1 1.1 0 1 0 2.2 0a1.1 1.1 0 1 0 -2.2 0M429.47 89.75m-1.1 0a1.1 1.1 0 1 0 2.2 0a1.1 1.1 0 1 0 -2.2 0M436.4 89.75m-1.1 0a1.1 1.1 0 1 0 2.2 0a1.1 1.1 0 1 0 -2.2 0M428.6 89.75m-1.1 0a1.1 1.1 0 1 0 2.2 0a1.1 1.1 0 1 0 -2.2 0M437.27 89.75m-1.1 0a1.1 1.1 0 1 0 2.2 0a1.1 1.1 0 1 0 -2.2 0M427.73 89.75m-1.1 0a1.1 1.1 0 1 0 2.2 0a1.1 1.1 0 1 0 -2.2 0M438.13 89.75m-1.1 0a1.1 1.1 0 1 0 2.2 0a1.1 1.1 0 1 0 -2.2 0M426.87 89.75m-1.1 0a1.1 1.1 0 1 0 2.2 0a1.1 1.1 0 1 0 -2.2 0M426 89.75m-1.1 0a1.1 1.1 0 1 0 2.2 0a1.1 1.1 0 1 0 -2.2 0M439 89.75m-1.1 0a1.1 1.1 0 1 0 2.2 0a1.1 1.1 0 1 0 -2.2 0" fill="#cc0a26"/>
<path d="M455.6 47.19m-1.1 0a1.1 1.1 0 1 0 2.2 0a1.1 1.1 0 1 0 -2.2 0M455.6 60m-1.1 0a1.1 1.1 0 1 0 2.2 0a1.1 1.1 0 1 0 -2.2 0M455.6 76.4m-1.1 0a1.1 1.1 0 1 0 2.2 0a1.1 1.1 0 1 0 -2.2 0M459.2 76.4m-1.1 0a1.1 1.1 0 1 0 2.2 0a1.1 1.1 0 1 0 -2.2 0M452 73.84m-1.1 0a1.1 1.1 0 1 0 2.2 0a1.1 1.1 0 1 0 -2.2 0M448.4 73.84m-1.1 0a1.1 1.1 0 1 0 2.2 0a1.1 1.1 0 1 0 -2.2 0M462.8 73.84m-1.1 0a1.1 1.1 0 1 0 2.2 0a1.1 1.1 0 1 0 -2.2 0M455.6 80.5m-1.1 0a1.1 1.1 0 1 0 2.2 0a1.1 1.1 0 1 0 -2.2 0M457.4 87.93m-1.1 0a1.1 1.1 0 1 0 2.2 0a1.1 1.1 0 1 0 -2.2 0M453.8 87.93m-1.1 0a1.1 1.1 0 1 0 2.2 0a1.1 1.1 0 1 0 -2.2 0M461 85.62m-1.1 0a1.1 1.1 0 1 0 2.2 0a1.1 1.1 0 1 0 -2.2 0M450.2 85.62m-1.1 0a1.1 1.1 0 1 0 2.2 0a1.1 1.1 0 1 0 -2.2 0M456.67 89.75m-1.1 0a1.1 1.1 0 1 0 2.2 0a1.1 1.1 0 1 0 -2.2 0M454.53 89.75m-1.1 0a1.1 1.1 0 1 0 2.2 0a1.1 1.1 0 1 0 -2.2 0M452.39 89.75m-1.1 0a1.1 1.1 0 1 0 2.2 0a1.1 1.1 0 1 0 -2.2 0M458.81 89.75m-1.1 0a1.1 1.1 0 1 0 2.2 0a1.1 1.1 0 1 0 -2.2 0M460.96 89.72m-1.1 0a1.1 1.1 0 1 0 2.2 0a1.1 1.1 0 1 0 -2.2 0M450.24 89.21m-1.1 0a1.1 1.1 0 1 0 2.2 0a1.1 1.1 0 1 0 -2.2 0M463.1 88.96m-1.1 0a1.1 1.1 0 1 0 2.2 0a1.1 1.1 0 1 0 -2.2 0M448.1 88.7m-1.1 0a1.1 1.1 0 1 0 2.2 0a1.1 1.1 0 1 0 -2.2 0" fill="#08478a"/>
<path d="M479.6 48.73m-1.1 0a1.1 1.1 0 1 0 2.2 0a1.1 1.1 0 1 0 -2.2 0M475.8 46.16m-1.1 0a1.1 1.1 0 1 0 2.2 0a1.1 1.1 0 1 0 -2.2 0M477.7 65.64m-1.1 0a1.1 1.1 0 1 0 2.2 0a1.1 1.1 0 1 0 -2.2 0M477.7 73.33m-1.1 0a1.1 1.1 0 1 0 2.2 0a1.1 1.1 0 1 0 -2.2 0M477.7 76.4m-1.1 0a1.1 1.1 0 1 0 2.2 0a1.1 1.1 0 1 0 -2.2 0M475.8 82.04m-1.1 0a1.1 1.1 0 1 0 2.2 0a1.1 1.1 0 1 0 -2.2 0M479.6 79.47m-1.1 0a1.1 1.1 0 1 0 2.2 0a1.1 1.1 0 1 0 -2.2 0M479.6 87.16m-1.1 0a1.1 1.1 0 1 0 2.2 0a1.1 1.1 0 1 0 -2.2 0M475.8 87.16m-1.1 0a1.1 1.1 0 1 0 2.2 0a1.1 1.1 0 1 0 -2.2 0M483.4 85.11m-1.1 0a1.1 1.1 0 1 0 2.2 0a1.1 1.1 0 1 0 -2.2 0M472 85.11m-1.1 0a1.1 1.1 0 1 0 2.2 0a1.1 1.1 0 1 0 -2.2 0M477.7 89.75m-1.1 0a1.1 1.1 0 1 0 2.2 0a1.1 1.1 0 1 0 -2.2 0M480.2 89.75m-1.1 0a1.1 1.1 0 1 0 2.2 0a1.1 1.1 0 1 0 -2.2 0M475.2 89.72m-1.1 0a1.1 1.1 0 1 0 2.2 0a1.1 1.1 0 1 0 -2.2 0M472.7 89.21m-1.1 0a1.1 1.1 0 1 0 2.2 0a1.1 1.1 0 1 0 -2.2 0M482.7 88.96m-1.1 0a1.1 1.1 0 1 0 2.2 0a1.1 1.1 0 1 0 -2.2 0M470.2 88.7m-1.1 0a1.1 1.1 0 1 0 2.2 0a1.1 1.1 0 1 0 -2.2 0M485.2 88.7m-1.1 0a1.1 1.1 0 1 0 2.2 0a1.1 1.1 0 1 0 -2.2 0" fill="#17a636"/>
<path d="M500.8 87.98m-1.1 0a1.1 1.1 0 1 0 2.2 0a1.1 1.1 0 1 0 -2.2 0M504.3 87.98m-1.1 0a1.1 1.1 0 1 0 2.2 0a1.1 1.1 0 1 0 -2.2 0M497.3 86.14m-1.1 0a1.1 1.1 0 1 0 2.2 0a1.1 1.1 0 1 0 -2.2 0M499.73 89.75m-1.1 0a1.1 1.1 0 1 0 2.2 0a1.1 1.1 0 1 0 -2.2 0M501.87 89.75m-1.1 0a1.1 1.1 0 1 0 2.2 0a1.1 1.1 0 1 0 -2.2 0M497.59 89.75m-1.1 0a1.1 1.1 0 1 0 2.2 0a1.1 1.1 0 1 0 -2.2 0M504.01 89.75m-1.1 0a1.1 1.1 0 1 0 2.2 0a1.1 1.1 0 1 0 -2.2 0M495.44 89.42m-1.1 0a1.1 1.1 0 1 0 2.2 0a1.1 1.1 0 1 0 -2.2 0M506.16 89.42m-1.1 0a1.1 1.1 0 1 0 2.2 0a1.1 1.1 0 1 0 -2.2 0M508.3 89.21m-1.1 0a1.1 1.1 0 1 0 2.2 0a1.1 1.1 0 1 0 -2.2 0M493.3 89.21m-1.1 0a1.1 1.1 0 1 0 2.2 0a1.1 1.1 0 1 0 -2.2 0" fill="#4b0b6b"/>
<line x1="425" y1="90.5" x2="440" y2="90.5" stroke="#262626" stroke-width="1.05"/>
<line x1="432.5" y1="89.5" x2="432.5" y2="90.5" stroke="#262626" stroke-width="1.05"/>
<line x1="428.6" y1="89.5" x2="436.4" y2="89.5" stroke="#262626" stroke-width="1.05"/>
<line x1="428.6" y1="90.5" x2="436.4" y2="90.5" stroke="#262626" stroke-width="1.05"/>
<line x1="448" y1="86.5" x2="463" y2="86.5" stroke="#262626" stroke-width="1.05"/>
<line x1="455.5" y1="76.5" x2="455.5" y2="90.75" stroke="#262626" stroke-width="1.05"/>
<line x1="451.6" y1="76.5" x2="459.4" y2="76.5" stroke="#262626" stroke-width="1.05"/>
<line x1="470" y1="85.5" x2="485" y2="85.5" stroke="#262626" stroke-width="1.05"/>
<line x1="477.5" y1="74.5" x2="477.5" y2="90.75" stroke="#262626" stroke-width="1.05"/>
<line x1="473.6" y1="74.5" x2="481.4" y2="74.5" stroke="#262626" stroke-width="1.05"/>
<line x1="493" y1="89.5" x2="508" y2="89.5" stroke="#262626" stroke-width="1.05"/>
<line x1="500.5" y1="88.5" x2="500.5" y2="90.5" stroke="#262626" stroke-width="1.05"/>
<line x1="496.6" y1="88.5" x2="504.4" y2="88.5" stroke="#262626" stroke-width="1.05"/>
<line x1="496.6" y1="90.5" x2="504.4" y2="90.5" stroke="#262626" stroke-width="1.05"/>
<path d="M434.4 40.9V38.5H455.6V40.9" fill="none" stroke="#2a2a2a" stroke-width="1.1"/>
<path d="M443.35 34.8m-1.1 0a1.1 1.1 0 1 0 2.2 0a1.1 1.1 0 1 0 -2.2 0M446.65 34.8m-1.1 0a1.1 1.1 0 1 0 2.2 0a1.1 1.1 0 1 0 -2.2 0" fill="#2a2a2a"/>
<path d="M434.4 33.6V31.2H475.8V33.6" fill="none" stroke="#2a2a2a" stroke-width="1.1"/>
<path d="M451.8 27.6m-1.1 0a1.1 1.1 0 1 0 2.2 0a1.1 1.1 0 1 0 -2.2 0M455.1 27.6m-1.1 0a1.1 1.1 0 1 0 2.2 0a1.1 1.1 0 1 0 -2.2 0M458.4 27.6m-1.1 0a1.1 1.1 0 1 0 2.2 0a1.1 1.1 0 1 0 -2.2 0" fill="#2a2a2a"/>
<path d="M434.4 25.9V23.5H496.9V25.9" fill="none" stroke="#2a2a2a" stroke-width="1.1"/>
<path d="M462.35 20m-1.1 0a1.1 1.1 0 1 0 2.2 0a1.1 1.1 0 1 0 -2.2 0M465.65 20m-1.1 0a1.1 1.1 0 1 0 2.2 0a1.1 1.1 0 1 0 -2.2 0M468.95 20m-1.1 0a1.1 1.1 0 1 0 2.2 0a1.1 1.1 0 1 0 -2.2 0" fill="#2a2a2a"/>
<text transform="translate(432.5,103.5) scale(0.800,1)" font-size="9" text-anchor="middle" fill="#1e1e1e" stroke="#1e1e1e" stroke-width="0.22">HD</text>
<text transform="translate(456.5,103.5) scale(0.832,1)" font-size="9" text-anchor="middle" fill="#1e1e1e" stroke="#1e1e1e" stroke-width="0.22">CD4<tspan font-size="4.5" baseline-shift="1.98">+</tspan></text>
<text transform="translate(478.6,103.5) scale(0.837,1)" font-size="9" text-anchor="middle" fill="#1e1e1e" stroke="#1e1e1e" stroke-width="0.22">V&#946;<tspan font-size="4.5" baseline-shift="1.98">+</tspan></text>
<text transform="translate(501.7,103.5) scale(0.925,1)" font-size="9" text-anchor="middle" fill="#1e1e1e" stroke="#1e1e1e" stroke-width="0.22">V&#946;<tspan font-size="4.5" baseline-shift="1.98">-</tspan></text>
<line x1="447.9" y1="107.6" x2="502.7" y2="107.6" stroke="#1e1e1e" stroke-width="1.2"/>
<text transform="translate(475.3,117.4) scale(0.640,1)" font-size="9.6" text-anchor="middle" fill="#1e1e1e" stroke="#1e1e1e" stroke-width="0.22">SS</text>
<text transform="translate(396.1,58.2) rotate(-90) scale(0.767,1)" font-size="9.8" text-anchor="middle" fill="#1e1e1e" stroke="#1e1e1e" stroke-width="0.17">% of CD39+CD73<tspan font-size="5.88" baseline-shift="3.53">+</tspan> cells</text>
<rect x="88.5" y="187.31" width="3.4" height="0.58" fill="#34b24a"/>
<rect x="88.5" y="187.88" width="3.4" height="7.73" fill="#0d4a8c"/>
<rect x="88.5" y="195.61" width="3.4" height="5.39" fill="#c40d2b"/>
<rect x="96.73" y="186.15" width="3.4" height="0.58" fill="#34b24a"/>
<rect x="96.73" y="186.73" width="3.4" height="11.31" fill="#0d4a8c"/>
<rect x="96.73" y="198.04" width="3.4" height="2.96" fill="#c40d2b"/>
<rect x="104.96" y="185" width="3.4" height="12.69" fill="#0d4a8c"/>
<rect x="104.96" y="197.69" width="3.4" height="3.31" fill="#c40d2b"/>
<rect x="113.19" y="184.31" width="3.4" height="0.92" fill="#34b24a"/>
<rect x="113.19" y="185.23" width="3.4" height="7.85" fill="#0d4a8c"/>
<rect x="113.19" y="193.08" width="3.4" height="7.92" fill="#c40d2b"/>
<rect x="121.42" y="184.42" width="3.4" height="0.35" fill="#34b24a"/>
<rect x="121.42" y="184.77" width="3.4" height="14.08" fill="#0d4a8c"/>
<rect x="121.42" y="198.85" width="3.4" height="2.15" fill="#c40d2b"/>
<rect x="129.65" y="184.08" width="3.4" height="0.69" fill="#34b24a"/>
<rect x="129.65" y="184.77" width="3.4" height="8.31" fill="#0d4a8c"/>
<rect x="129.65" y="193.08" width="3.4" height="7.92" fill="#c40d2b"/>
<rect x="137.88" y="181.88" width="3.4" height="0.46" fill="#34b24a"/>
<rect x="137.88" y="182.35" width="3.4" height="7.5" fill="#0d4a8c"/>
<rect x="137.88" y="189.85" width="3.4" height="11.15" fill="#c40d2b"/>
<rect x="146.11" y="181.19" width="3.4" height="0.58" fill="#34b24a"/>
<rect x="146.11" y="181.77" width="3.4" height="9" fill="#0d4a8c"/>
<rect x="146.11" y="190.77" width="3.4" height="10.23" fill="#c40d2b"/>
<rect x="154.34" y="180.96" width="3.4" height="0.92" fill="#34b24a"/>
<rect x="154.34" y="181.88" width="3.4" height="8.31" fill="#0d4a8c"/>
<rect x="154.34" y="190.19" width="3.4" height="10.81" fill="#c40d2b"/>
<rect x="162.57" y="181.08" width="3.4" height="0.12" fill="#34b24a"/>
<rect x="162.57" y="181.19" width="3.4" height="17.65" fill="#0d4a8c"/>
<rect x="162.57" y="198.85" width="3.4" height="2.15" fill="#c40d2b"/>
<rect x="170.8" y="181.08" width="3.4" height="0.12" fill="#34b24a"/>
<rect x="170.8" y="181.19" width="3.4" height="16.85" fill="#0d4a8c"/>
<rect x="170.8" y="198.04" width="3.4" height="2.96" fill="#c40d2b"/>
<rect x="179.03" y="180.61" width="3.4" height="0.69" fill="#34b24a"/>
<rect x="179.03" y="181.31" width="3.4" height="7.5" fill="#0d4a8c"/>
<rect x="179.03" y="188.81" width="3.4" height="12.19" fill="#c40d2b"/>
<rect x="187.26" y="180.15" width="3.4" height="0.58" fill="#34b24a"/>
<rect x="187.26" y="180.73" width="3.4" height="18.69" fill="#0d4a8c"/>
<rect x="187.26" y="199.42" width="3.4" height="1.58" fill="#c40d2b"/>
<rect x="195.49" y="179.81" width="3.4" height="0.81" fill="#34b24a"/>
<rect x="195.49" y="180.61" width="3.4" height="10.15" fill="#0d4a8c"/>
<rect x="195.49" y="190.77" width="3.4" height="10.23" fill="#c40d2b"/>
<rect x="203.72" y="179.23" width="3.4" height="0.81" fill="#34b24a"/>
<rect x="203.72" y="180.04" width="3.4" height="10.73" fill="#0d4a8c"/>
<rect x="203.72" y="190.77" width="3.4" height="10.23" fill="#c40d2b"/>
<rect x="211.95" y="179.23" width="3.4" height="0.81" fill="#34b24a"/>
<rect x="211.95" y="180.04" width="3.4" height="15.58" fill="#0d4a8c"/>
<rect x="211.95" y="195.61" width="3.4" height="5.39" fill="#c40d2b"/>
<rect x="220.18" y="179.12" width="3.4" height="0.81" fill="#34b24a"/>
<rect x="220.18" y="179.92" width="3.4" height="18.11" fill="#0d4a8c"/>
<rect x="220.18" y="198.04" width="3.4" height="2.96" fill="#c40d2b"/>
<rect x="228.41" y="178.54" width="3.4" height="0.69" fill="#34b24a"/>
<rect x="228.41" y="179.23" width="3.4" height="9.58" fill="#0d4a8c"/>
<rect x="228.41" y="188.81" width="3.4" height="12.19" fill="#c40d2b"/>
<rect x="236.64" y="178.08" width="3.4" height="0.69" fill="#34b24a"/>
<rect x="236.64" y="178.77" width="3.4" height="11.08" fill="#0d4a8c"/>
<rect x="236.64" y="189.85" width="3.4" height="11.15" fill="#c40d2b"/>
<rect x="244.87" y="176" width="3.4" height="0.92" fill="#34b24a"/>
<rect x="244.87" y="176.92" width="3.4" height="0.58" fill="#0d4a8c"/>
<rect x="244.87" y="177.5" width="3.4" height="23.5" fill="#c40d2b"/>
<rect x="253.1" y="176" width="3.4" height="0.69" fill="#34b24a"/>
<rect x="253.1" y="176.69" width="3.4" height="0.23" fill="#0d4a8c"/>
<rect x="253.1" y="176.92" width="3.4" height="24.08" fill="#c40d2b"/>
<rect x="261.33" y="175.42" width="3.4" height="0.69" fill="#34b24a"/>
<rect x="261.33" y="176.12" width="3.4" height="16.15" fill="#0d4a8c"/>
<rect x="261.33" y="192.27" width="3.4" height="8.73" fill="#c40d2b"/>
<rect x="269.56" y="174.27" width="3.4" height="0.92" fill="#34b24a"/>
<rect x="269.56" y="175.19" width="3.4" height="9.58" fill="#0d4a8c"/>
<rect x="269.56" y="184.77" width="3.4" height="16.23" fill="#c40d2b"/>
<rect x="277.79" y="172.54" width="3.4" height="0.69" fill="#34b24a"/>
<rect x="277.79" y="173.23" width="3.4" height="6.81" fill="#0d4a8c"/>
<rect x="277.79" y="180.04" width="3.4" height="20.96" fill="#c40d2b"/>
<rect x="286.02" y="172.08" width="3.4" height="0.69" fill="#34b24a"/>
<rect x="286.02" y="172.77" width="3.4" height="12.23" fill="#0d4a8c"/>
<rect x="286.02" y="185" width="3.4" height="16" fill="#c40d2b"/>
<rect x="294.25" y="171.15" width="3.4" height="1.15" fill="#34b24a"/>
<rect x="294.25" y="172.31" width="3.4" height="13.85" fill="#0d4a8c"/>
<rect x="294.25" y="186.15" width="3.4" height="14.85" fill="#c40d2b"/>
<rect x="302.48" y="170.23" width="3.4" height="0.92" fill="#34b24a"/>
<rect x="302.48" y="171.15" width="3.4" height="14.77" fill="#0d4a8c"/>
<rect x="302.48" y="185.92" width="3.4" height="15.08" fill="#c40d2b"/>
<rect x="310.71" y="169.54" width="3.4" height="1.62" fill="#34b24a"/>
<rect x="310.71" y="171.15" width="3.4" height="21.69" fill="#0d4a8c"/>
<rect x="310.71" y="192.85" width="3.4" height="8.15" fill="#c40d2b"/>
<rect x="318.94" y="168.69" width="3.4" height="1.15" fill="#34b24a"/>
<rect x="318.94" y="169.85" width="3.4" height="15.69" fill="#0d4a8c"/>
<rect x="318.94" y="185.54" width="3.4" height="15.46" fill="#c40d2b"/>
<rect x="327.17" y="167.88" width="3.4" height="0.58" fill="#34b24a"/>
<rect x="327.17" y="168.46" width="3.4" height="24.23" fill="#0d4a8c"/>
<rect x="327.17" y="192.69" width="3.4" height="8.31" fill="#c40d2b"/>
<rect x="335.4" y="167.54" width="3.4" height="0.92" fill="#34b24a"/>
<rect x="335.4" y="168.46" width="3.4" height="16.5" fill="#0d4a8c"/>
<rect x="335.4" y="184.96" width="3.4" height="16.04" fill="#c40d2b"/>
<rect x="343.63" y="166.73" width="3.4" height="0.81" fill="#34b24a"/>
<rect x="343.63" y="167.54" width="3.4" height="31.5" fill="#0d4a8c"/>
<rect x="343.63" y="199.04" width="3.4" height="1.96" fill="#c40d2b"/>
<rect x="351.86" y="166.73" width="3.4" height="0.58" fill="#34b24a"/>
<rect x="351.86" y="167.31" width="3.4" height="24.81" fill="#0d4a8c"/>
<rect x="351.86" y="192.11" width="3.4" height="8.89" fill="#c40d2b"/>
<rect x="360.09" y="166.15" width="3.4" height="0.81" fill="#34b24a"/>
<rect x="360.09" y="166.96" width="3.4" height="25.96" fill="#0d4a8c"/>
<rect x="360.09" y="192.92" width="3.4" height="8.08" fill="#c40d2b"/>
<rect x="368.32" y="166.15" width="3.4" height="0.58" fill="#34b24a"/>
<rect x="368.32" y="166.73" width="3.4" height="17.54" fill="#0d4a8c"/>
<rect x="368.32" y="184.27" width="3.4" height="16.73" fill="#c40d2b"/>
<rect x="376.55" y="165.81" width="3.4" height="0.92" fill="#34b24a"/>
<rect x="376.55" y="166.73" width="3.4" height="14.19" fill="#0d4a8c"/>
<rect x="376.55" y="180.92" width="3.4" height="20.08" fill="#c40d2b"/>
<rect x="384.78" y="165.23" width="3.4" height="1.5" fill="#34b24a"/>
<rect x="384.78" y="166.73" width="3.4" height="23.08" fill="#0d4a8c"/>
<rect x="384.78" y="189.81" width="3.4" height="11.19" fill="#c40d2b"/>
<rect x="393.01" y="165" width="3.4" height="0.58" fill="#34b24a"/>
<rect x="393.01" y="165.58" width="3.4" height="2.31" fill="#0d4a8c"/>
<rect x="393.01" y="167.88" width="3.4" height="33.12" fill="#c40d2b"/>
<rect x="401.24" y="165" width="3.4" height="0.92" fill="#34b24a"/>
<rect x="401.24" y="165.92" width="3.4" height="18.11" fill="#0d4a8c"/>
<rect x="401.24" y="184.04" width="3.4" height="16.96" fill="#c40d2b"/>
<rect x="409.47" y="164.77" width="3.4" height="1.38" fill="#34b24a"/>
<rect x="409.47" y="166.15" width="3.4" height="26.54" fill="#0d4a8c"/>
<rect x="409.47" y="192.69" width="3.4" height="8.31" fill="#c40d2b"/>
<rect x="417.7" y="164.77" width="3.4" height="1.62" fill="#34b24a"/>
<rect x="417.7" y="166.38" width="3.4" height="20.54" fill="#0d4a8c"/>
<rect x="417.7" y="186.92" width="3.4" height="14.08" fill="#c40d2b"/>
<rect x="425.93" y="161.54" width="3.4" height="0.92" fill="#34b24a"/>
<rect x="425.93" y="162.46" width="3.4" height="25.61" fill="#0d4a8c"/>
<rect x="425.93" y="188.08" width="3.4" height="12.92" fill="#c40d2b"/>
<rect x="434.16" y="159.03" width="3.4" height="1.08" fill="#34b24a"/>
<rect x="434.16" y="160.11" width="3.4" height="24.09" fill="#0d4a8c"/>
<rect x="434.16" y="184.2" width="3.4" height="16.8" fill="#c40d2b"/>
<rect x="442.39" y="157.01" width="3.4" height="3.1" fill="#34b24a"/>
<rect x="442.39" y="160.11" width="3.4" height="14.4" fill="#0d4a8c"/>
<rect x="442.39" y="174.51" width="3.4" height="26.49" fill="#c40d2b"/>
<rect x="450.62" y="154.72" width="3.4" height="1.62" fill="#34b24a"/>
<rect x="450.62" y="156.34" width="3.4" height="20.59" fill="#0d4a8c"/>
<rect x="450.62" y="176.93" width="3.4" height="24.07" fill="#c40d2b"/>
<rect x="458.85" y="152.97" width="3.4" height="2.02" fill="#34b24a"/>
<rect x="458.85" y="154.99" width="3.4" height="36.34" fill="#0d4a8c"/>
<rect x="458.85" y="191.33" width="3.4" height="9.67" fill="#c40d2b"/>
<rect x="467.08" y="150.28" width="3.4" height="2.29" fill="#34b24a"/>
<rect x="467.08" y="152.57" width="3.4" height="31.36" fill="#0d4a8c"/>
<rect x="467.08" y="183.93" width="3.4" height="17.07" fill="#c40d2b"/>
<rect x="475.31" y="148.53" width="3.4" height="1.08" fill="#34b24a"/>
<rect x="475.31" y="149.61" width="3.4" height="39.97" fill="#0d4a8c"/>
<rect x="475.31" y="189.58" width="3.4" height="11.42" fill="#c40d2b"/>
<rect x="483.54" y="131.04" width="3.4" height="1.08" fill="#34b24a"/>
<rect x="483.54" y="132.11" width="3.4" height="20.59" fill="#0d4a8c"/>
<rect x="483.54" y="152.71" width="3.4" height="48.29" fill="#c40d2b"/>
<line x1="86.2" y1="118.8" x2="86.2" y2="204" stroke="#1e1e1e" stroke-width="1.1"/>
<line x1="84.6" y1="201" x2="86.2" y2="201" stroke="#1e1e1e" stroke-width="0.75"/>
<line x1="84.6" y1="197.8" x2="86.2" y2="197.8" stroke="#1e1e1e" stroke-width="0.75"/>
<line x1="84.6" y1="194.6" x2="86.2" y2="194.6" stroke="#1e1e1e" stroke-width="0.75"/>
<line x1="84.6" y1="191.4" x2="86.2" y2="191.4" stroke="#1e1e1e" stroke-width="0.75"/>
<line x1="84.6" y1="188.2" x2="86.2" y2="188.2" stroke="#1e1e1e" stroke-width="0.75"/>
<line x1="84.6" y1="185" x2="86.2" y2="185" stroke="#1e1e1e" stroke-width="0.75"/>
<line x1="84.6" y1="181.8" x2="86.2" y2="181.8" stroke="#1e1e1e" stroke-width="0.75"/>
<line x1="84.6" y1="178.6" x2="86.2" y2="178.6" stroke="#1e1e1e" stroke-width="0.75"/>
<line x1="84.6" y1="175.4" x2="86.2" y2="175.4" stroke="#1e1e1e" stroke-width="0.75"/>
<line x1="84.6" y1="172.2" x2="86.2" y2="172.2" stroke="#1e1e1e" stroke-width="0.75"/>
<line x1="84.6" y1="169" x2="86.2" y2="169" stroke="#1e1e1e" stroke-width="0.75"/>
<line x1="84.6" y1="165.8" x2="86.2" y2="165.8" stroke="#1e1e1e" stroke-width="0.75"/>
<line x1="84.6" y1="162.6" x2="86.2" y2="162.6" stroke="#1e1e1e" stroke-width="0.75"/>
<line x1="84.6" y1="159.4" x2="86.2" y2="159.4" stroke="#1e1e1e" stroke-width="0.75"/>
<line x1="84.6" y1="156.2" x2="86.2" y2="156.2" stroke="#1e1e1e" stroke-width="0.75"/>
<line x1="84.6" y1="153" x2="86.2" y2="153" stroke="#1e1e1e" stroke-width="0.75"/>
<line x1="84.6" y1="149.8" x2="86.2" y2="149.8" stroke="#1e1e1e" stroke-width="0.75"/>
<line x1="84.6" y1="146.6" x2="86.2" y2="146.6" stroke="#1e1e1e" stroke-width="0.75"/>
<line x1="84.6" y1="143.4" x2="86.2" y2="143.4" stroke="#1e1e1e" stroke-width="0.75"/>
<line x1="84.6" y1="140.2" x2="86.2" y2="140.2" stroke="#1e1e1e" stroke-width="0.75"/>
<line x1="84.6" y1="137" x2="86.2" y2="137" stroke="#1e1e1e" stroke-width="0.75"/>
<line x1="84.6" y1="133.8" x2="86.2" y2="133.8" stroke="#1e1e1e" stroke-width="0.75"/>
<line x1="84.6" y1="130.6" x2="86.2" y2="130.6" stroke="#1e1e1e" stroke-width="0.75"/>
<line x1="84.6" y1="127.4" x2="86.2" y2="127.4" stroke="#1e1e1e" stroke-width="0.75"/>
<line x1="84.6" y1="124.2" x2="86.2" y2="124.2" stroke="#1e1e1e" stroke-width="0.75"/>
<line x1="84.6" y1="121" x2="86.2" y2="121" stroke="#1e1e1e" stroke-width="0.75"/>
<line x1="83" y1="201" x2="86.2" y2="201" stroke="#1e1e1e" stroke-width="1"/>
<text transform="translate(79.9,203.54) scale(0.920,1)" font-size="8.2" text-anchor="end" fill="#1e1e1e" stroke="#1e1e1e" stroke-width="0.22">0</text>
<line x1="83" y1="185" x2="86.2" y2="185" stroke="#1e1e1e" stroke-width="1"/>
<text transform="translate(79.9,187.54) scale(0.920,1)" font-size="8.2" text-anchor="end" fill="#1e1e1e" stroke="#1e1e1e" stroke-width="0.22">10</text>
<line x1="83" y1="169" x2="86.2" y2="169" stroke="#1e1e1e" stroke-width="1"/>
<text transform="translate(79.9,171.54) scale(0.920,1)" font-size="8.2" text-anchor="end" fill="#1e1e1e" stroke="#1e1e1e" stroke-width="0.22">20</text>
<line x1="83" y1="153" x2="86.2" y2="153" stroke="#1e1e1e" stroke-width="1"/>
<text transform="translate(79.9,155.54) scale(0.920,1)" font-size="8.2" text-anchor="end" fill="#1e1e1e" stroke="#1e1e1e" stroke-width="0.22">30</text>
<line x1="83" y1="137" x2="86.2" y2="137" stroke="#1e1e1e" stroke-width="1"/>
<text transform="translate(79.9,139.54) scale(0.920,1)" font-size="8.2" text-anchor="end" fill="#1e1e1e" stroke="#1e1e1e" stroke-width="0.22">40</text>
<line x1="83" y1="121" x2="86.2" y2="121" stroke="#1e1e1e" stroke-width="1"/>
<text transform="translate(79.9,123.54) scale(0.920,1)" font-size="8.2" text-anchor="end" fill="#1e1e1e" stroke="#1e1e1e" stroke-width="0.22">50</text>
<line x1="86.2" y1="201" x2="492" y2="201" stroke="#1e1e1e" stroke-width="1.1"/>
<line x1="94.31" y1="201" x2="94.31" y2="204.2" stroke="#1e1e1e" stroke-width="0.8"/>
<line x1="102.55" y1="201" x2="102.55" y2="204.2" stroke="#1e1e1e" stroke-width="0.8"/>
<line x1="110.77" y1="201" x2="110.77" y2="204.2" stroke="#1e1e1e" stroke-width="0.8"/>
<line x1="119" y1="201" x2="119" y2="204.2" stroke="#1e1e1e" stroke-width="0.8"/>
<line x1="127.23" y1="201" x2="127.23" y2="204.2" stroke="#1e1e1e" stroke-width="0.8"/>
<line x1="135.47" y1="201" x2="135.47" y2="204.2" stroke="#1e1e1e" stroke-width="0.8"/>
<line x1="143.7" y1="201" x2="143.7" y2="204.2" stroke="#1e1e1e" stroke-width="0.8"/>
<line x1="151.93" y1="201" x2="151.93" y2="204.2" stroke="#1e1e1e" stroke-width="0.8"/>
<line x1="160.16" y1="201" x2="160.16" y2="204.2" stroke="#1e1e1e" stroke-width="0.8"/>
<line x1="168.39" y1="201" x2="168.39" y2="204.2" stroke="#1e1e1e" stroke-width="0.8"/>
<line x1="176.62" y1="201" x2="176.62" y2="204.2" stroke="#1e1e1e" stroke-width="0.8"/>
<line x1="184.85" y1="201" x2="184.85" y2="204.2" stroke="#1e1e1e" stroke-width="0.8"/>
<line x1="193.08" y1="201" x2="193.08" y2="204.2" stroke="#1e1e1e" stroke-width="0.8"/>
<line x1="201.31" y1="201" x2="201.31" y2="204.2" stroke="#1e1e1e" stroke-width="0.8"/>
<line x1="209.54" y1="201" x2="209.54" y2="204.2" stroke="#1e1e1e" stroke-width="0.8"/>
<line x1="217.77" y1="201" x2="217.77" y2="204.2" stroke="#1e1e1e" stroke-width="0.8"/>
<line x1="226" y1="201" x2="226" y2="204.2" stroke="#1e1e1e" stroke-width="0.8"/>
<line x1="234.23" y1="201" x2="234.23" y2="204.2" stroke="#1e1e1e" stroke-width="0.8"/>
<line x1="242.46" y1="201" x2="242.46" y2="204.2" stroke="#1e1e1e" stroke-width="0.8"/>
<line x1="250.69" y1="201" x2="250.69" y2="204.2" stroke="#1e1e1e" stroke-width="0.8"/>
<line x1="258.92" y1="201" x2="258.92" y2="204.2" stroke="#1e1e1e" stroke-width="0.8"/>
<line x1="267.15" y1="201" x2="267.15" y2="204.2" stroke="#1e1e1e" stroke-width="0.8"/>
<line x1="275.38" y1="201" x2="275.38" y2="204.2" stroke="#1e1e1e" stroke-width="0.8"/>
<line x1="283.61" y1="201" x2="283.61" y2="204.2" stroke="#1e1e1e" stroke-width="0.8"/>
<line x1="291.84" y1="201" x2="291.84" y2="204.2" stroke="#1e1e1e" stroke-width="0.8"/>
<line x1="300.06" y1="201" x2="300.06" y2="204.2" stroke="#1e1e1e" stroke-width="0.8"/>
<line x1="308.3" y1="201" x2="308.3" y2="204.2" stroke="#1e1e1e" stroke-width="0.8"/>
<line x1="316.53" y1="201" x2="316.53" y2="204.2" stroke="#1e1e1e" stroke-width="0.8"/>
<line x1="324.75" y1="201" x2="324.75" y2="204.2" stroke="#1e1e1e" stroke-width="0.8"/>
<line x1="332.99" y1="201" x2="332.99" y2="204.2" stroke="#1e1e1e" stroke-width="0.8"/>
<line x1="341.22" y1="201" x2="341.22" y2="204.2" stroke="#1e1e1e" stroke-width="0.8"/>
<line x1="349.45" y1="201" x2="349.45" y2="204.2" stroke="#1e1e1e" stroke-width="0.8"/>
<line x1="357.68" y1="201" x2="357.68" y2="204.2" stroke="#1e1e1e" stroke-width="0.8"/>
<line x1="365.91" y1="201" x2="365.91" y2="204.2" stroke="#1e1e1e" stroke-width="0.8"/>
<line x1="374.13" y1="201" x2="374.13" y2="204.2" stroke="#1e1e1e" stroke-width="0.8"/>
<line x1="382.37" y1="201" x2="382.37" y2="204.2" stroke="#1e1e1e" stroke-width="0.8"/>
<line x1="390.6" y1="201" x2="390.6" y2="204.2" stroke="#1e1e1e" stroke-width="0.8"/>
<line x1="398.82" y1="201" x2="398.82" y2="204.2" stroke="#1e1e1e" stroke-width="0.8"/>
<line x1="407.06" y1="201" x2="407.06" y2="204.2" stroke="#1e1e1e" stroke-width="0.8"/>
<line x1="415.29" y1="201" x2="415.29" y2="204.2" stroke="#1e1e1e" stroke-width="0.8"/>
<line x1="423.52" y1="201" x2="423.52" y2="204.2" stroke="#1e1e1e" stroke-width="0.8"/>
<line x1="431.75" y1="201" x2="431.75" y2="204.2" stroke="#1e1e1e" stroke-width="0.8"/>
<line x1="439.98" y1="201" x2="439.98" y2="204.2" stroke="#1e1e1e" stroke-width="0.8"/>
<line x1="448.21" y1="201" x2="448.21" y2="204.2" stroke="#1e1e1e" stroke-width="0.8"/>
<line x1="456.44" y1="201" x2="456.44" y2="204.2" stroke="#1e1e1e" stroke-width="0.8"/>
<line x1="464.67" y1="201" x2="464.67" y2="204.2" stroke="#1e1e1e" stroke-width="0.8"/>
<line x1="472.9" y1="201" x2="472.9" y2="204.2" stroke="#1e1e1e" stroke-width="0.8"/>
<line x1="481.12" y1="201" x2="481.12" y2="204.2" stroke="#1e1e1e" stroke-width="0.8"/>
<line x1="489.36" y1="201" x2="489.36" y2="204.2" stroke="#1e1e1e" stroke-width="0.8"/>
<text transform="translate(93.08,208.7) rotate(-90) scale(0.910,1)" font-size="8" text-anchor="end" fill="#1e1e1e" stroke="#1e1e1e" stroke-width="0.22">24</text>
<text transform="translate(101.31,208.7) rotate(-90) scale(0.910,1)" font-size="8" text-anchor="end" fill="#1e1e1e" stroke="#1e1e1e" stroke-width="0.22">26</text>
<text transform="translate(109.54,208.7) rotate(-90) scale(0.910,1)" font-size="8" text-anchor="end" fill="#1e1e1e" stroke="#1e1e1e" stroke-width="0.22">39</text>
<text transform="translate(117.77,208.7) rotate(-90) scale(0.910,1)" font-size="8" text-anchor="end" fill="#1e1e1e" stroke="#1e1e1e" stroke-width="0.22">2</text>
<text transform="translate(126,208.7) rotate(-90) scale(0.910,1)" font-size="8" text-anchor="end" fill="#1e1e1e" stroke="#1e1e1e" stroke-width="0.22">28</text>
<text transform="translate(134.23,208.7) rotate(-90) scale(0.910,1)" font-size="8" text-anchor="end" fill="#1e1e1e" stroke="#1e1e1e" stroke-width="0.22">11</text>
<text transform="translate(142.46,208.7) rotate(-90) scale(0.910,1)" font-size="8" text-anchor="end" fill="#1e1e1e" stroke="#1e1e1e" stroke-width="0.22">17</text>
<text transform="translate(150.69,208.7) rotate(-90) scale(0.910,1)" font-size="8" text-anchor="end" fill="#1e1e1e" stroke="#1e1e1e" stroke-width="0.22">43</text>
<text transform="translate(158.92,208.7) rotate(-90) scale(0.910,1)" font-size="8" text-anchor="end" fill="#1e1e1e" stroke="#1e1e1e" stroke-width="0.22">44</text>
<text transform="translate(167.15,208.7) rotate(-90) scale(0.910,1)" font-size="8" text-anchor="end" fill="#1e1e1e" stroke="#1e1e1e" stroke-width="0.22">14</text>
<text transform="translate(175.38,208.7) rotate(-90) scale(0.910,1)" font-size="8" text-anchor="end" fill="#1e1e1e" stroke="#1e1e1e" stroke-width="0.22">18</text>
<text transform="translate(183.61,208.7) rotate(-90) scale(0.910,1)" font-size="8" text-anchor="end" fill="#1e1e1e" stroke="#1e1e1e" stroke-width="0.22">29</text>
<text transform="translate(191.84,208.7) rotate(-90) scale(0.910,1)" font-size="8" text-anchor="end" fill="#1e1e1e" stroke="#1e1e1e" stroke-width="0.22">25</text>
<text transform="translate(200.07,208.7) rotate(-90) scale(0.910,1)" font-size="8" text-anchor="end" fill="#1e1e1e" stroke="#1e1e1e" stroke-width="0.22">19</text>
<text transform="translate(208.3,208.7) rotate(-90) scale(0.910,1)" font-size="8" text-anchor="end" fill="#1e1e1e" stroke="#1e1e1e" stroke-width="0.22">34</text>
<text transform="translate(216.53,208.7) rotate(-90) scale(0.910,1)" font-size="8" text-anchor="end" fill="#1e1e1e" stroke="#1e1e1e" stroke-width="0.22">48</text>
<text transform="translate(224.76,208.7) rotate(-90) scale(0.910,1)" font-size="8" text-anchor="end" fill="#1e1e1e" stroke="#1e1e1e" stroke-width="0.22">12</text>
<text transform="translate(232.99,208.7) rotate(-90) scale(0.910,1)" font-size="8" text-anchor="end" fill="#1e1e1e" stroke="#1e1e1e" stroke-width="0.22">40</text>
<text transform="translate(241.22,208.7) rotate(-90) scale(0.910,1)" font-size="8" text-anchor="end" fill="#1e1e1e" stroke="#1e1e1e" stroke-width="0.22">38</text>
<text transform="translate(249.45,208.7) rotate(-90) scale(0.910,1)" font-size="8" text-anchor="end" fill="#1e1e1e" stroke="#1e1e1e" stroke-width="0.22">45</text>
<text transform="translate(257.68,208.7) rotate(-90) scale(0.910,1)" font-size="8" text-anchor="end" fill="#1e1e1e" stroke="#1e1e1e" stroke-width="0.22">36</text>
<text transform="translate(265.91,208.7) rotate(-90) scale(0.910,1)" font-size="8" text-anchor="end" fill="#1e1e1e" stroke="#1e1e1e" stroke-width="0.22">42</text>
<text transform="translate(274.14,208.7) rotate(-90) scale(0.910,1)" font-size="8" text-anchor="end" fill="#1e1e1e" stroke="#1e1e1e" stroke-width="0.22">15</text>
<text transform="translate(282.37,208.7) rotate(-90) scale(0.910,1)" font-size="8" text-anchor="end" fill="#1e1e1e" stroke="#1e1e1e" stroke-width="0.22">13</text>
<text transform="translate(290.6,208.7) rotate(-90) scale(0.910,1)" font-size="8" text-anchor="end" fill="#1e1e1e" stroke="#1e1e1e" stroke-width="0.22">47</text>
<text transform="translate(298.83,208.7) rotate(-90) scale(0.910,1)" font-size="8" text-anchor="end" fill="#1e1e1e" stroke="#1e1e1e" stroke-width="0.22">27</text>
<text transform="translate(307.06,208.7) rotate(-90) scale(0.910,1)" font-size="8" text-anchor="end" fill="#1e1e1e" stroke="#1e1e1e" stroke-width="0.22">33</text>
<text transform="translate(315.29,208.7) rotate(-90) scale(0.910,1)" font-size="8" text-anchor="end" fill="#1e1e1e" stroke="#1e1e1e" stroke-width="0.22">37</text>
<text transform="translate(323.52,208.7) rotate(-90) scale(0.910,1)" font-size="8" text-anchor="end" fill="#1e1e1e" stroke="#1e1e1e" stroke-width="0.22">46</text>
<text transform="translate(331.75,208.7) rotate(-90) scale(0.910,1)" font-size="8" text-anchor="end" fill="#1e1e1e" stroke="#1e1e1e" stroke-width="0.22">5</text>
<text transform="translate(339.98,208.7) rotate(-90) scale(0.910,1)" font-size="8" text-anchor="end" fill="#1e1e1e" stroke="#1e1e1e" stroke-width="0.22">8</text>
<text transform="translate(348.21,208.7) rotate(-90) scale(0.910,1)" font-size="8" text-anchor="end" fill="#1e1e1e" stroke="#1e1e1e" stroke-width="0.22">6</text>
<text transform="translate(356.44,208.7) rotate(-90) scale(0.910,1)" font-size="8" text-anchor="end" fill="#1e1e1e" stroke="#1e1e1e" stroke-width="0.22">4</text>
<text transform="translate(364.67,208.7) rotate(-90) scale(0.910,1)" font-size="8" text-anchor="end" fill="#1e1e1e" stroke="#1e1e1e" stroke-width="0.22">1</text>
<text transform="translate(372.9,208.7) rotate(-90) scale(0.910,1)" font-size="8" text-anchor="end" fill="#1e1e1e" stroke="#1e1e1e" stroke-width="0.22">9</text>
<text transform="translate(381.13,208.7) rotate(-90) scale(0.910,1)" font-size="8" text-anchor="end" fill="#1e1e1e" stroke="#1e1e1e" stroke-width="0.22">23</text>
<text transform="translate(389.36,208.7) rotate(-90) scale(0.910,1)" font-size="8" text-anchor="end" fill="#1e1e1e" stroke="#1e1e1e" stroke-width="0.22">41</text>
<text transform="translate(397.59,208.7) rotate(-90) scale(0.910,1)" font-size="8" text-anchor="end" fill="#1e1e1e" stroke="#1e1e1e" stroke-width="0.22">7</text>
<text transform="translate(405.82,208.7) rotate(-90) scale(0.910,1)" font-size="8" text-anchor="end" fill="#1e1e1e" stroke="#1e1e1e" stroke-width="0.22">16</text>
<text transform="translate(414.05,208.7) rotate(-90) scale(0.910,1)" font-size="8" text-anchor="end" fill="#1e1e1e" stroke="#1e1e1e" stroke-width="0.22">35</text>
<text transform="translate(422.28,208.7) rotate(-90) scale(0.910,1)" font-size="8" text-anchor="end" fill="#1e1e1e" stroke="#1e1e1e" stroke-width="0.22">49</text>
<text transform="translate(430.51,208.7) rotate(-90) scale(0.910,1)" font-size="8" text-anchor="end" fill="#1e1e1e" stroke="#1e1e1e" stroke-width="0.22">30</text>
<text transform="translate(438.74,208.7) rotate(-90) scale(0.910,1)" font-size="8" text-anchor="end" fill="#1e1e1e" stroke="#1e1e1e" stroke-width="0.22">32</text>
<text transform="translate(446.97,208.7) rotate(-90) scale(0.910,1)" font-size="8" text-anchor="end" fill="#1e1e1e" stroke="#1e1e1e" stroke-width="0.22">3</text>
<text transform="translate(455.2,208.7) rotate(-90) scale(0.910,1)" font-size="8" text-anchor="end" fill="#1e1e1e" stroke="#1e1e1e" stroke-width="0.22">21</text>
<text transform="translate(463.43,208.7) rotate(-90) scale(0.910,1)" font-size="8" text-anchor="end" fill="#1e1e1e" stroke="#1e1e1e" stroke-width="0.22">22</text>
<text transform="translate(471.66,208.7) rotate(-90) scale(0.910,1)" font-size="8" text-anchor="end" fill="#1e1e1e" stroke="#1e1e1e" stroke-width="0.22">10</text>
<text transform="translate(479.89,208.7) rotate(-90) scale(0.910,1)" font-size="8" text-anchor="end" fill="#1e1e1e" stroke="#1e1e1e" stroke-width="0.22">20</text>
<text transform="translate(488.12,208.7) rotate(-90) scale(0.910,1)" font-size="8" text-anchor="end" fill="#1e1e1e" stroke="#1e1e1e" stroke-width="0.22">31</text>
<rect x="88.45" y="315.08" width="3.5" height="0.46" fill="#34b24a"/>
<rect x="88.45" y="315.54" width="3.5" height="0.31" fill="#0d4a8c"/>
<rect x="88.45" y="315.85" width="3.5" height="0.25" fill="#c40d2b"/>
<rect x="99.23" y="314.92" width="3.5" height="0.15" fill="#34b24a"/>
<rect x="99.23" y="315.08" width="3.5" height="0.77" fill="#0d4a8c"/>
<rect x="99.23" y="315.85" width="3.5" height="0.25" fill="#c40d2b"/>
<rect x="110.01" y="312" width="3.5" height="0.77" fill="#34b24a"/>
<rect x="110.01" y="312.77" width="3.5" height="0.31" fill="#0d4a8c"/>
<rect x="110.01" y="313.08" width="3.5" height="3.02" fill="#c40d2b"/>
<rect x="120.79" y="310" width="3.5" height="0.62" fill="#34b24a"/>
<rect x="120.79" y="310.62" width="3.5" height="5.23" fill="#0d4a8c"/>
<rect x="120.79" y="315.85" width="3.5" height="0.25" fill="#c40d2b"/>
<rect x="131.57" y="310" width="3.5" height="0.31" fill="#34b24a"/>
<rect x="131.57" y="310.31" width="3.5" height="4" fill="#0d4a8c"/>
<rect x="131.57" y="314.31" width="3.5" height="1.79" fill="#c40d2b"/>
<rect x="142.35" y="305.69" width="3.5" height="0.46" fill="#34b24a"/>
<rect x="142.35" y="306.15" width="3.5" height="9.69" fill="#0d4a8c"/>
<rect x="142.35" y="315.85" width="3.5" height="0.25" fill="#c40d2b"/>
<rect x="153.13" y="303.08" width="3.5" height="0.77" fill="#34b24a"/>
<rect x="153.13" y="303.85" width="3.5" height="10.46" fill="#0d4a8c"/>
<rect x="153.13" y="314.31" width="3.5" height="1.79" fill="#c40d2b"/>
<rect x="163.91" y="301.85" width="3.5" height="0.46" fill="#34b24a"/>
<rect x="163.91" y="302.31" width="3.5" height="0.31" fill="#0d4a8c"/>
<rect x="163.91" y="302.62" width="3.5" height="13.48" fill="#c40d2b"/>
<rect x="174.69" y="295.85" width="3.5" height="0.31" fill="#34b24a"/>
<rect x="174.69" y="296.15" width="3.5" height="1.85" fill="#0d4a8c"/>
<rect x="174.69" y="298" width="3.5" height="18.1" fill="#c40d2b"/>
<rect x="185.47" y="290" width="3.5" height="2.77" fill="#34b24a"/>
<rect x="185.47" y="292.77" width="3.5" height="5.69" fill="#0d4a8c"/>
<rect x="185.47" y="298.46" width="3.5" height="17.64" fill="#c40d2b"/>
<rect x="196.25" y="284.31" width="3.5" height="0.31" fill="#34b24a"/>
<rect x="196.25" y="284.62" width="3.5" height="2" fill="#0d4a8c"/>
<rect x="196.25" y="286.62" width="3.5" height="29.48" fill="#c40d2b"/>
<rect x="207.03" y="282" width="3.5" height="0.77" fill="#34b24a"/>
<rect x="207.03" y="282.77" width="3.5" height="0.62" fill="#0d4a8c"/>
<rect x="207.03" y="283.38" width="3.5" height="32.72" fill="#c40d2b"/>
<rect x="217.81" y="278.46" width="3.5" height="2.31" fill="#34b24a"/>
<rect x="217.81" y="280.77" width="3.5" height="31.23" fill="#0d4a8c"/>
<rect x="217.81" y="312" width="3.5" height="4.1" fill="#c40d2b"/>
<rect x="228.59" y="278" width="3.5" height="0.62" fill="#34b24a"/>
<rect x="228.59" y="278.62" width="3.5" height="36.77" fill="#0d4a8c"/>
<rect x="228.59" y="315.38" width="3.5" height="0.72" fill="#c40d2b"/>
<rect x="239.37" y="276.46" width="3.5" height="8.62" fill="#34b24a"/>
<rect x="239.37" y="285.08" width="3.5" height="27.23" fill="#0d4a8c"/>
<rect x="239.37" y="312.31" width="3.5" height="3.79" fill="#c40d2b"/>
<rect x="250.15" y="275.08" width="3.5" height="0.31" fill="#34b24a"/>
<rect x="250.15" y="275.38" width="3.5" height="2" fill="#0d4a8c"/>
<rect x="250.15" y="277.38" width="3.5" height="38.72" fill="#c40d2b"/>
<rect x="260.93" y="270.77" width="3.5" height="3.08" fill="#34b24a"/>
<rect x="260.93" y="273.85" width="3.5" height="8.92" fill="#0d4a8c"/>
<rect x="260.93" y="282.77" width="3.5" height="33.33" fill="#c40d2b"/>
<rect x="271.71" y="262.62" width="3.5" height="18.15" fill="#34b24a"/>
<rect x="271.71" y="280.77" width="3.5" height="10.31" fill="#0d4a8c"/>
<rect x="271.71" y="291.08" width="3.5" height="25.02" fill="#c40d2b"/>
<rect x="282.49" y="258.15" width="3.5" height="0.31" fill="#34b24a"/>
<rect x="282.49" y="258.46" width="3.5" height="57.38" fill="#0d4a8c"/>
<rect x="282.49" y="315.85" width="3.5" height="0.25" fill="#c40d2b"/>
<rect x="293.27" y="257.38" width="3.5" height="9.54" fill="#34b24a"/>
<rect x="293.27" y="266.92" width="3.5" height="10.77" fill="#0d4a8c"/>
<rect x="293.27" y="277.69" width="3.5" height="38.41" fill="#c40d2b"/>
<rect x="304.05" y="252.31" width="3.5" height="2.31" fill="#34b24a"/>
<rect x="304.05" y="254.62" width="3.5" height="0.46" fill="#0d4a8c"/>
<rect x="304.05" y="255.08" width="3.5" height="61.02" fill="#c40d2b"/>
<rect x="314.83" y="251.85" width="3.5" height="3.23" fill="#34b24a"/>
<rect x="314.83" y="255.08" width="3.5" height="3.38" fill="#0d4a8c"/>
<rect x="314.83" y="258.46" width="3.5" height="57.64" fill="#c40d2b"/>
<rect x="325.61" y="249.23" width="3.5" height="27.69" fill="#34b24a"/>
<rect x="325.61" y="276.92" width="3.5" height="31.08" fill="#0d4a8c"/>
<rect x="325.61" y="308" width="3.5" height="8.1" fill="#c40d2b"/>
<rect x="336.39" y="248.15" width="3.5" height="0.92" fill="#34b24a"/>
<rect x="336.39" y="249.08" width="3.5" height="0.62" fill="#0d4a8c"/>
<rect x="336.39" y="249.69" width="3.5" height="66.41" fill="#c40d2b"/>
<rect x="347.17" y="247.23" width="3.5" height="22.77" fill="#34b24a"/>
<rect x="347.17" y="270" width="3.5" height="6.62" fill="#0d4a8c"/>
<rect x="347.17" y="276.62" width="3.5" height="39.48" fill="#c40d2b"/>
<rect x="357.95" y="243.85" width="3.5" height="4.15" fill="#34b24a"/>
<rect x="357.95" y="248" width="3.5" height="66.62" fill="#0d4a8c"/>
<rect x="357.95" y="314.62" width="3.5" height="1.48" fill="#c40d2b"/>
<rect x="368.73" y="242" width="3.5" height="39.54" fill="#34b24a"/>
<rect x="368.73" y="281.54" width="3.5" height="1.08" fill="#0d4a8c"/>
<rect x="368.73" y="282.62" width="3.5" height="33.48" fill="#c40d2b"/>
<rect x="379.51" y="240.77" width="3.5" height="3.08" fill="#34b24a"/>
<rect x="379.51" y="243.85" width="3.5" height="1.08" fill="#0d4a8c"/>
<rect x="379.51" y="244.92" width="3.5" height="71.18" fill="#c40d2b"/>
<rect x="390.29" y="240.31" width="3.5" height="75.79" fill="#c40d2b"/>
<rect x="401.07" y="239.23" width="3.5" height="7.69" fill="#34b24a"/>
<rect x="401.07" y="246.92" width="3.5" height="69.18" fill="#c40d2b"/>
<rect x="411.85" y="239.23" width="3.5" height="0.77" fill="#34b24a"/>
<rect x="411.85" y="240" width="3.5" height="75.85" fill="#0d4a8c"/>
<rect x="411.85" y="315.85" width="3.5" height="0.25" fill="#c40d2b"/>
<rect x="422.63" y="237.23" width="3.5" height="78.62" fill="#0d4a8c"/>
<rect x="422.63" y="315.85" width="3.5" height="0.25" fill="#c40d2b"/>
<rect x="433.41" y="236.92" width="3.5" height="66.15" fill="#34b24a"/>
<rect x="433.41" y="303.08" width="3.5" height="6.46" fill="#0d4a8c"/>
<rect x="433.41" y="309.54" width="3.5" height="6.56" fill="#c40d2b"/>
<rect x="444.19" y="236.15" width="3.5" height="3.79" fill="#34b24a"/>
<rect x="444.19" y="239.94" width="3.5" height="76.16" fill="#c40d2b"/>
<rect x="454.97" y="236.15" width="3.5" height="11.66" fill="#34b24a"/>
<rect x="454.97" y="247.81" width="3.5" height="68.29" fill="#c40d2b"/>
<rect x="465.75" y="236.15" width="3.5" height="13.06" fill="#34b24a"/>
<rect x="465.75" y="249.21" width="3.5" height="66.89" fill="#c40d2b"/>
<rect x="476.53" y="236.15" width="3.5" height="69.52" fill="#34b24a"/>
<rect x="476.53" y="305.67" width="3.5" height="2.11" fill="#0d4a8c"/>
<rect x="476.53" y="307.78" width="3.5" height="8.32" fill="#c40d2b"/>
<line x1="84.9" y1="233.6" x2="84.9" y2="319.1" stroke="#1e1e1e" stroke-width="1.1"/>
<line x1="82.9" y1="316.1" x2="84.9" y2="316.1" stroke="#1e1e1e" stroke-width="0.75"/>
<line x1="82.9" y1="314.49" x2="84.9" y2="314.49" stroke="#1e1e1e" stroke-width="0.75"/>
<line x1="82.9" y1="312.89" x2="84.9" y2="312.89" stroke="#1e1e1e" stroke-width="0.75"/>
<line x1="82.9" y1="311.28" x2="84.9" y2="311.28" stroke="#1e1e1e" stroke-width="0.75"/>
<line x1="82.9" y1="309.68" x2="84.9" y2="309.68" stroke="#1e1e1e" stroke-width="0.75"/>
<line x1="82.9" y1="308.07" x2="84.9" y2="308.07" stroke="#1e1e1e" stroke-width="0.75"/>
<line x1="82.9" y1="306.46" x2="84.9" y2="306.46" stroke="#1e1e1e" stroke-width="0.75"/>
<line x1="82.9" y1="304.86" x2="84.9" y2="304.86" stroke="#1e1e1e" stroke-width="0.75"/>
<line x1="82.9" y1="303.25" x2="84.9" y2="303.25" stroke="#1e1e1e" stroke-width="0.75"/>
<line x1="82.9" y1="301.65" x2="84.9" y2="301.65" stroke="#1e1e1e" stroke-width="0.75"/>
<line x1="82.9" y1="300.04" x2="84.9" y2="300.04" stroke="#1e1e1e" stroke-width="0.75"/>
<line x1="82.9" y1="298.43" x2="84.9" y2="298.43" stroke="#1e1e1e" stroke-width="0.75"/>
<line x1="82.9" y1="296.83" x2="84.9" y2="296.83" stroke="#1e1e1e" stroke-width="0.75"/>
<line x1="82.9" y1="295.22" x2="84.9" y2="295.22" stroke="#1e1e1e" stroke-width="0.75"/>
<line x1="82.9" y1="293.62" x2="84.9" y2="293.62" stroke="#1e1e1e" stroke-width="0.75"/>
<line x1="82.9" y1="292.01" x2="84.9" y2="292.01" stroke="#1e1e1e" stroke-width="0.75"/>
<line x1="82.9" y1="290.4" x2="84.9" y2="290.4" stroke="#1e1e1e" stroke-width="0.75"/>
<line x1="82.9" y1="288.8" x2="84.9" y2="288.8" stroke="#1e1e1e" stroke-width="0.75"/>
<line x1="82.9" y1="287.19" x2="84.9" y2="287.19" stroke="#1e1e1e" stroke-width="0.75"/>
<line x1="82.9" y1="285.59" x2="84.9" y2="285.59" stroke="#1e1e1e" stroke-width="0.75"/>
<line x1="82.9" y1="283.98" x2="84.9" y2="283.98" stroke="#1e1e1e" stroke-width="0.75"/>
<line x1="82.9" y1="282.37" x2="84.9" y2="282.37" stroke="#1e1e1e" stroke-width="0.75"/>
<line x1="82.9" y1="280.77" x2="84.9" y2="280.77" stroke="#1e1e1e" stroke-width="0.75"/>
<line x1="82.9" y1="279.16" x2="84.9" y2="279.16" stroke="#1e1e1e" stroke-width="0.75"/>
<line x1="82.9" y1="277.56" x2="84.9" y2="277.56" stroke="#1e1e1e" stroke-width="0.75"/>
<line x1="82.9" y1="275.95" x2="84.9" y2="275.95" stroke="#1e1e1e" stroke-width="0.75"/>
<line x1="82.9" y1="274.34" x2="84.9" y2="274.34" stroke="#1e1e1e" stroke-width="0.75"/>
<line x1="82.9" y1="272.74" x2="84.9" y2="272.74" stroke="#1e1e1e" stroke-width="0.75"/>
<line x1="82.9" y1="271.13" x2="84.9" y2="271.13" stroke="#1e1e1e" stroke-width="0.75"/>
<line x1="82.9" y1="269.53" x2="84.9" y2="269.53" stroke="#1e1e1e" stroke-width="0.75"/>
<line x1="82.9" y1="267.92" x2="84.9" y2="267.92" stroke="#1e1e1e" stroke-width="0.75"/>
<line x1="82.9" y1="266.31" x2="84.9" y2="266.31" stroke="#1e1e1e" stroke-width="0.75"/>
<line x1="82.9" y1="264.71" x2="84.9" y2="264.71" stroke="#1e1e1e" stroke-width="0.75"/>
<line x1="82.9" y1="263.1" x2="84.9" y2="263.1" stroke="#1e1e1e" stroke-width="0.75"/>
<line x1="82.9" y1="261.5" x2="84.9" y2="261.5" stroke="#1e1e1e" stroke-width="0.75"/>
<line x1="82.9" y1="259.89" x2="84.9" y2="259.89" stroke="#1e1e1e" stroke-width="0.75"/>
<line x1="82.9" y1="258.28" x2="84.9" y2="258.28" stroke="#1e1e1e" stroke-width="0.75"/>
<line x1="82.9" y1="256.68" x2="84.9" y2="256.68" stroke="#1e1e1e" stroke-width="0.75"/>
<line x1="82.9" y1="255.07" x2="84.9" y2="255.07" stroke="#1e1e1e" stroke-width="0.75"/>
<line x1="82.9" y1="253.47" x2="84.9" y2="253.47" stroke="#1e1e1e" stroke-width="0.75"/>
<line x1="82.9" y1="251.86" x2="84.9" y2="251.86" stroke="#1e1e1e" stroke-width="0.75"/>
<line x1="82.9" y1="250.25" x2="84.9" y2="250.25" stroke="#1e1e1e" stroke-width="0.75"/>
<line x1="82.9" y1="248.65" x2="84.9" y2="248.65" stroke="#1e1e1e" stroke-width="0.75"/>
<line x1="82.9" y1="247.04" x2="84.9" y2="247.04" stroke="#1e1e1e" stroke-width="0.75"/>
<line x1="82.9" y1="245.44" x2="84.9" y2="245.44" stroke="#1e1e1e" stroke-width="0.75"/>
<line x1="82.9" y1="243.83" x2="84.9" y2="243.83" stroke="#1e1e1e" stroke-width="0.75"/>
<line x1="82.9" y1="242.22" x2="84.9" y2="242.22" stroke="#1e1e1e" stroke-width="0.75"/>
<line x1="82.9" y1="240.62" x2="84.9" y2="240.62" stroke="#1e1e1e" stroke-width="0.75"/>
<line x1="82.9" y1="239.01" x2="84.9" y2="239.01" stroke="#1e1e1e" stroke-width="0.75"/>
<line x1="82.9" y1="237.41" x2="84.9" y2="237.41" stroke="#1e1e1e" stroke-width="0.75"/>
<line x1="82.9" y1="235.8" x2="84.9" y2="235.8" stroke="#1e1e1e" stroke-width="0.75"/>
<line x1="81.7" y1="316.1" x2="84.9" y2="316.1" stroke="#1e1e1e" stroke-width="1"/>
<text transform="translate(78.8,319.01) scale(0.800,1)" font-size="9.4" text-anchor="end" fill="#1e1e1e" stroke="#1e1e1e" stroke-width="0.22">0</text>
<line x1="81.7" y1="300.04" x2="84.9" y2="300.04" stroke="#1e1e1e" stroke-width="1"/>
<text transform="translate(78.8,302.95) scale(0.800,1)" font-size="9.4" text-anchor="end" fill="#1e1e1e" stroke="#1e1e1e" stroke-width="0.22">20</text>
<line x1="81.7" y1="283.98" x2="84.9" y2="283.98" stroke="#1e1e1e" stroke-width="1"/>
<text transform="translate(78.8,286.89) scale(0.800,1)" font-size="9.4" text-anchor="end" fill="#1e1e1e" stroke="#1e1e1e" stroke-width="0.22">40</text>
<line x1="81.7" y1="267.92" x2="84.9" y2="267.92" stroke="#1e1e1e" stroke-width="1"/>
<text transform="translate(78.8,270.83) scale(0.800,1)" font-size="9.4" text-anchor="end" fill="#1e1e1e" stroke="#1e1e1e" stroke-width="0.22">60</text>
<line x1="81.7" y1="251.86" x2="84.9" y2="251.86" stroke="#1e1e1e" stroke-width="1"/>
<text transform="translate(78.8,254.77) scale(0.800,1)" font-size="9.4" text-anchor="end" fill="#1e1e1e" stroke="#1e1e1e" stroke-width="0.22">80</text>
<line x1="81.7" y1="235.8" x2="84.9" y2="235.8" stroke="#1e1e1e" stroke-width="1"/>
<text transform="translate(78.8,238.71) scale(0.800,1)" font-size="9.4" text-anchor="end" fill="#1e1e1e" stroke="#1e1e1e" stroke-width="0.22">100</text>
<line x1="84.9" y1="316.1" x2="487" y2="316.1" stroke="#1e1e1e" stroke-width="1.1"/>
<line x1="95.59" y1="316.1" x2="95.59" y2="319.3" stroke="#1e1e1e" stroke-width="0.8"/>
<line x1="106.37" y1="316.1" x2="106.37" y2="319.3" stroke="#1e1e1e" stroke-width="0.8"/>
<line x1="117.15" y1="316.1" x2="117.15" y2="319.3" stroke="#1e1e1e" stroke-width="0.8"/>
<line x1="127.93" y1="316.1" x2="127.93" y2="319.3" stroke="#1e1e1e" stroke-width="0.8"/>
<line x1="138.71" y1="316.1" x2="138.71" y2="319.3" stroke="#1e1e1e" stroke-width="0.8"/>
<line x1="149.49" y1="316.1" x2="149.49" y2="319.3" stroke="#1e1e1e" stroke-width="0.8"/>
<line x1="160.27" y1="316.1" x2="160.27" y2="319.3" stroke="#1e1e1e" stroke-width="0.8"/>
<line x1="171.05" y1="316.1" x2="171.05" y2="319.3" stroke="#1e1e1e" stroke-width="0.8"/>
<line x1="181.83" y1="316.1" x2="181.83" y2="319.3" stroke="#1e1e1e" stroke-width="0.8"/>
<line x1="192.61" y1="316.1" x2="192.61" y2="319.3" stroke="#1e1e1e" stroke-width="0.8"/>
<line x1="203.39" y1="316.1" x2="203.39" y2="319.3" stroke="#1e1e1e" stroke-width="0.8"/>
<line x1="214.17" y1="316.1" x2="214.17" y2="319.3" stroke="#1e1e1e" stroke-width="0.8"/>
<line x1="224.95" y1="316.1" x2="224.95" y2="319.3" stroke="#1e1e1e" stroke-width="0.8"/>
<line x1="235.73" y1="316.1" x2="235.73" y2="319.3" stroke="#1e1e1e" stroke-width="0.8"/>
<line x1="246.51" y1="316.1" x2="246.51" y2="319.3" stroke="#1e1e1e" stroke-width="0.8"/>
<line x1="257.29" y1="316.1" x2="257.29" y2="319.3" stroke="#1e1e1e" stroke-width="0.8"/>
<line x1="268.07" y1="316.1" x2="268.07" y2="319.3" stroke="#1e1e1e" stroke-width="0.8"/>
<line x1="278.85" y1="316.1" x2="278.85" y2="319.3" stroke="#1e1e1e" stroke-width="0.8"/>
<line x1="289.63" y1="316.1" x2="289.63" y2="319.3" stroke="#1e1e1e" stroke-width="0.8"/>
<line x1="300.41" y1="316.1" x2="300.41" y2="319.3" stroke="#1e1e1e" stroke-width="0.8"/>
<line x1="311.19" y1="316.1" x2="311.19" y2="319.3" stroke="#1e1e1e" stroke-width="0.8"/>
<line x1="321.97" y1="316.1" x2="321.97" y2="319.3" stroke="#1e1e1e" stroke-width="0.8"/>
<line x1="332.75" y1="316.1" x2="332.75" y2="319.3" stroke="#1e1e1e" stroke-width="0.8"/>
<line x1="343.53" y1="316.1" x2="343.53" y2="319.3" stroke="#1e1e1e" stroke-width="0.8"/>
<line x1="354.31" y1="316.1" x2="354.31" y2="319.3" stroke="#1e1e1e" stroke-width="0.8"/>
<line x1="365.09" y1="316.1" x2="365.09" y2="319.3" stroke="#1e1e1e" stroke-width="0.8"/>
<line x1="375.87" y1="316.1" x2="375.87" y2="319.3" stroke="#1e1e1e" stroke-width="0.8"/>
<line x1="386.65" y1="316.1" x2="386.65" y2="319.3" stroke="#1e1e1e" stroke-width="0.8"/>
<line x1="397.43" y1="316.1" x2="397.43" y2="319.3" stroke="#1e1e1e" stroke-width="0.8"/>
<line x1="408.21" y1="316.1" x2="408.21" y2="319.3" stroke="#1e1e1e" stroke-width="0.8"/>
<line x1="418.99" y1="316.1" x2="418.99" y2="319.3" stroke="#1e1e1e" stroke-width="0.8"/>
<line x1="429.77" y1="316.1" x2="429.77" y2="319.3" stroke="#1e1e1e" stroke-width="0.8"/>
<line x1="440.55" y1="316.1" x2="440.55" y2="319.3" stroke="#1e1e1e" stroke-width="0.8"/>
<line x1="451.33" y1="316.1" x2="451.33" y2="319.3" stroke="#1e1e1e" stroke-width="0.8"/>
<line x1="462.11" y1="316.1" x2="462.11" y2="319.3" stroke="#1e1e1e" stroke-width="0.8"/>
<line x1="472.89" y1="316.1" x2="472.89" y2="319.3" stroke="#1e1e1e" stroke-width="0.8"/>
<line x1="483.67" y1="316.1" x2="483.67" y2="319.3" stroke="#1e1e1e" stroke-width="0.8"/>
<text transform="translate(92.97,322.9) rotate(-90)" font-size="7.7" text-anchor="end" fill="#1e1e1e" stroke="#1e1e1e" stroke-width="0.22">17</text>
<text transform="translate(103.75,322.9) rotate(-90)" font-size="7.7" text-anchor="end" fill="#1e1e1e" stroke="#1e1e1e" stroke-width="0.22">32</text>
<text transform="translate(114.53,322.9) rotate(-90)" font-size="7.7" text-anchor="end" fill="#1e1e1e" stroke="#1e1e1e" stroke-width="0.22">23</text>
<text transform="translate(125.31,322.9) rotate(-90)" font-size="7.7" text-anchor="end" fill="#1e1e1e" stroke="#1e1e1e" stroke-width="0.22">25</text>
<text transform="translate(136.09,322.9) rotate(-90)" font-size="7.7" text-anchor="end" fill="#1e1e1e" stroke="#1e1e1e" stroke-width="0.22">34</text>
<text transform="translate(146.87,322.9) rotate(-90)" font-size="7.7" text-anchor="end" fill="#1e1e1e" stroke="#1e1e1e" stroke-width="0.22">19</text>
<text transform="translate(157.65,322.9) rotate(-90)" font-size="7.7" text-anchor="end" fill="#1e1e1e" stroke="#1e1e1e" stroke-width="0.22">8</text>
<text transform="translate(168.43,322.9) rotate(-90)" font-size="7.7" text-anchor="end" fill="#1e1e1e" stroke="#1e1e1e" stroke-width="0.22">1</text>
<text transform="translate(179.21,322.9) rotate(-90)" font-size="7.7" text-anchor="end" fill="#1e1e1e" stroke="#1e1e1e" stroke-width="0.22">29</text>
<text transform="translate(189.99,322.9) rotate(-90)" font-size="7.7" text-anchor="end" fill="#1e1e1e" stroke="#1e1e1e" stroke-width="0.22">28</text>
<text transform="translate(200.77,322.9) rotate(-90)" font-size="7.7" text-anchor="end" fill="#1e1e1e" stroke="#1e1e1e" stroke-width="0.22">18</text>
<text transform="translate(211.55,322.9) rotate(-90)" font-size="7.7" text-anchor="end" fill="#1e1e1e" stroke="#1e1e1e" stroke-width="0.22">20</text>
<text transform="translate(222.33,322.9) rotate(-90)" font-size="7.7" text-anchor="end" fill="#1e1e1e" stroke="#1e1e1e" stroke-width="0.22">30</text>
<text transform="translate(233.11,322.9) rotate(-90)" font-size="7.7" text-anchor="end" fill="#1e1e1e" stroke="#1e1e1e" stroke-width="0.22">13</text>
<text transform="translate(243.89,322.9) rotate(-90)" font-size="7.7" text-anchor="end" fill="#1e1e1e" stroke="#1e1e1e" stroke-width="0.22">2</text>
<text transform="translate(254.67,322.9) rotate(-90)" font-size="7.7" text-anchor="end" fill="#1e1e1e" stroke="#1e1e1e" stroke-width="0.22">6</text>
<text transform="translate(265.45,322.9) rotate(-90)" font-size="7.7" text-anchor="end" fill="#1e1e1e" stroke="#1e1e1e" stroke-width="0.22">26</text>
<text transform="translate(276.23,322.9) rotate(-90)" font-size="7.7" text-anchor="end" fill="#1e1e1e" stroke="#1e1e1e" stroke-width="0.22">16</text>
<text transform="translate(287.01,322.9) rotate(-90)" font-size="7.7" text-anchor="end" fill="#1e1e1e" stroke="#1e1e1e" stroke-width="0.22">35</text>
<text transform="translate(297.79,322.9) rotate(-90)" font-size="7.7" text-anchor="end" fill="#1e1e1e" stroke="#1e1e1e" stroke-width="0.22">22</text>
<text transform="translate(308.57,322.9) rotate(-90)" font-size="7.7" text-anchor="end" fill="#1e1e1e" stroke="#1e1e1e" stroke-width="0.22">4</text>
<text transform="translate(319.35,322.9) rotate(-90)" font-size="7.7" text-anchor="end" fill="#1e1e1e" stroke="#1e1e1e" stroke-width="0.22">24</text>
<text transform="translate(330.13,322.9) rotate(-90)" font-size="7.7" text-anchor="end" fill="#1e1e1e" stroke="#1e1e1e" stroke-width="0.22">14</text>
<text transform="translate(340.91,322.9) rotate(-90)" font-size="7.7" text-anchor="end" fill="#1e1e1e" stroke="#1e1e1e" stroke-width="0.22">7</text>
<text transform="translate(351.69,322.9) rotate(-90)" font-size="7.7" text-anchor="end" fill="#1e1e1e" stroke="#1e1e1e" stroke-width="0.22">3</text>
<text transform="translate(362.47,322.9) rotate(-90)" font-size="7.7" text-anchor="end" fill="#1e1e1e" stroke="#1e1e1e" stroke-width="0.22">9</text>
<text transform="translate(373.25,322.9) rotate(-90)" font-size="7.7" text-anchor="end" fill="#1e1e1e" stroke="#1e1e1e" stroke-width="0.22">5</text>
<text transform="translate(384.03,322.9) rotate(-90)" font-size="7.7" text-anchor="end" fill="#1e1e1e" stroke="#1e1e1e" stroke-width="0.22">36</text>
<text transform="translate(394.81,322.9) rotate(-90)" font-size="7.7" text-anchor="end" fill="#1e1e1e" stroke="#1e1e1e" stroke-width="0.22">10</text>
<text transform="translate(405.59,322.9) rotate(-90)" font-size="7.7" text-anchor="end" fill="#1e1e1e" stroke="#1e1e1e" stroke-width="0.22">27</text>
<text transform="translate(416.37,322.9) rotate(-90)" font-size="7.7" text-anchor="end" fill="#1e1e1e" stroke="#1e1e1e" stroke-width="0.22">12</text>
<text transform="translate(427.15,322.9) rotate(-90)" font-size="7.7" text-anchor="end" fill="#1e1e1e" stroke="#1e1e1e" stroke-width="0.22">31</text>
<text transform="translate(437.93,322.9) rotate(-90)" font-size="7.7" text-anchor="end" fill="#1e1e1e" stroke="#1e1e1e" stroke-width="0.22">37</text>
<text transform="translate(448.71,322.9) rotate(-90)" font-size="7.7" text-anchor="end" fill="#1e1e1e" stroke="#1e1e1e" stroke-width="0.22">33</text>
<text transform="translate(459.49,322.9) rotate(-90)" font-size="7.7" text-anchor="end" fill="#1e1e1e" stroke="#1e1e1e" stroke-width="0.22">15</text>
<text transform="translate(470.27,322.9) rotate(-90)" font-size="7.7" text-anchor="end" fill="#1e1e1e" stroke="#1e1e1e" stroke-width="0.22">11</text>
<text transform="translate(481.05,322.9) rotate(-90)" font-size="7.7" text-anchor="end" fill="#1e1e1e" stroke="#1e1e1e" stroke-width="0.22">21</text>
<rect x="88.45" y="398.46" width="3.5" height="0.77" fill="#34b24a"/>
<rect x="88.45" y="399.23" width="3.5" height="10.77" fill="#0d4a8c"/>
<rect x="88.45" y="410" width="3.5" height="6.3" fill="#c40d2b"/>
<rect x="99.23" y="406.31" width="3.5" height="0.62" fill="#34b24a"/>
<rect x="99.23" y="406.92" width="3.5" height="8" fill="#0d4a8c"/>
<rect x="99.23" y="414.92" width="3.5" height="1.38" fill="#c40d2b"/>
<rect x="110.01" y="406" width="3.5" height="0.62" fill="#34b24a"/>
<rect x="110.01" y="406.62" width="3.5" height="4.31" fill="#0d4a8c"/>
<rect x="110.01" y="410.92" width="3.5" height="5.38" fill="#c40d2b"/>
<rect x="120.79" y="402.15" width="3.5" height="0.62" fill="#34b24a"/>
<rect x="120.79" y="402.77" width="3.5" height="8.15" fill="#0d4a8c"/>
<rect x="120.79" y="410.92" width="3.5" height="5.38" fill="#c40d2b"/>
<rect x="131.57" y="375.85" width="3.5" height="2.15" fill="#34b24a"/>
<rect x="131.57" y="378" width="3.5" height="7.38" fill="#0d4a8c"/>
<rect x="131.57" y="385.38" width="3.5" height="30.92" fill="#c40d2b"/>
<rect x="142.35" y="402" width="3.5" height="1.08" fill="#34b24a"/>
<rect x="142.35" y="403.08" width="3.5" height="10.62" fill="#0d4a8c"/>
<rect x="142.35" y="413.69" width="3.5" height="2.61" fill="#c40d2b"/>
<rect x="153.13" y="395.54" width="3.5" height="0.62" fill="#34b24a"/>
<rect x="153.13" y="396.15" width="3.5" height="17.54" fill="#0d4a8c"/>
<rect x="153.13" y="413.69" width="3.5" height="2.61" fill="#c40d2b"/>
<rect x="163.91" y="374.92" width="3.5" height="3.08" fill="#34b24a"/>
<rect x="163.91" y="378" width="3.5" height="11.23" fill="#0d4a8c"/>
<rect x="163.91" y="389.23" width="3.5" height="27.07" fill="#c40d2b"/>
<rect x="174.69" y="380.77" width="3.5" height="0.31" fill="#34b24a"/>
<rect x="174.69" y="381.08" width="3.5" height="27.08" fill="#0d4a8c"/>
<rect x="174.69" y="408.15" width="3.5" height="8.15" fill="#c40d2b"/>
<rect x="185.47" y="402" width="3.5" height="3.85" fill="#34b24a"/>
<rect x="185.47" y="405.85" width="3.5" height="9.54" fill="#0d4a8c"/>
<rect x="185.47" y="415.38" width="3.5" height="0.92" fill="#c40d2b"/>
<rect x="196.25" y="385.85" width="3.5" height="0.77" fill="#34b24a"/>
<rect x="196.25" y="386.62" width="3.5" height="13.38" fill="#0d4a8c"/>
<rect x="196.25" y="400" width="3.5" height="16.3" fill="#c40d2b"/>
<rect x="207.03" y="400.31" width="3.5" height="0.46" fill="#34b24a"/>
<rect x="207.03" y="400.77" width="3.5" height="8" fill="#0d4a8c"/>
<rect x="207.03" y="408.77" width="3.5" height="7.53" fill="#c40d2b"/>
<rect x="217.81" y="395.69" width="3.5" height="0.46" fill="#34b24a"/>
<rect x="217.81" y="396.15" width="3.5" height="16.92" fill="#0d4a8c"/>
<rect x="217.81" y="413.08" width="3.5" height="3.22" fill="#c40d2b"/>
<rect x="228.59" y="396.92" width="3.5" height="0.77" fill="#34b24a"/>
<rect x="228.59" y="397.69" width="3.5" height="13.54" fill="#0d4a8c"/>
<rect x="228.59" y="411.23" width="3.5" height="5.07" fill="#c40d2b"/>
<rect x="239.37" y="394.62" width="3.5" height="0.31" fill="#34b24a"/>
<rect x="239.37" y="394.92" width="3.5" height="19.69" fill="#0d4a8c"/>
<rect x="239.37" y="414.62" width="3.5" height="1.68" fill="#c40d2b"/>
<rect x="250.15" y="404.46" width="3.5" height="0.46" fill="#34b24a"/>
<rect x="250.15" y="404.92" width="3.5" height="4.31" fill="#0d4a8c"/>
<rect x="250.15" y="409.23" width="3.5" height="7.07" fill="#c40d2b"/>
<rect x="260.93" y="396.46" width="3.5" height="0.46" fill="#34b24a"/>
<rect x="260.93" y="396.92" width="3.5" height="14.92" fill="#0d4a8c"/>
<rect x="260.93" y="411.85" width="3.5" height="4.45" fill="#c40d2b"/>
<rect x="271.71" y="402.77" width="3.5" height="0.46" fill="#34b24a"/>
<rect x="271.71" y="403.23" width="3.5" height="10.62" fill="#0d4a8c"/>
<rect x="271.71" y="413.85" width="3.5" height="2.45" fill="#c40d2b"/>
<rect x="282.49" y="409.69" width="3.5" height="0.62" fill="#34b24a"/>
<rect x="282.49" y="410.31" width="3.5" height="4.31" fill="#0d4a8c"/>
<rect x="282.49" y="414.62" width="3.5" height="1.68" fill="#c40d2b"/>
<rect x="293.27" y="365.38" width="3.5" height="2.62" fill="#34b24a"/>
<rect x="293.27" y="368" width="3.5" height="6.62" fill="#0d4a8c"/>
<rect x="293.27" y="374.62" width="3.5" height="41.68" fill="#c40d2b"/>
<rect x="304.05" y="365.85" width="3.5" height="7.54" fill="#34b24a"/>
<rect x="304.05" y="373.38" width="3.5" height="4.31" fill="#0d4a8c"/>
<rect x="304.05" y="377.69" width="3.5" height="38.61" fill="#c40d2b"/>
<rect x="314.83" y="386.62" width="3.5" height="0.77" fill="#34b24a"/>
<rect x="314.83" y="387.38" width="3.5" height="13.69" fill="#0d4a8c"/>
<rect x="314.83" y="401.08" width="3.5" height="15.22" fill="#c40d2b"/>
<rect x="325.61" y="383.08" width="3.5" height="0.31" fill="#34b24a"/>
<rect x="325.61" y="383.38" width="3.5" height="10.15" fill="#0d4a8c"/>
<rect x="325.61" y="393.54" width="3.5" height="22.76" fill="#c40d2b"/>
<rect x="336.39" y="385.08" width="3.5" height="1.85" fill="#34b24a"/>
<rect x="336.39" y="386.92" width="3.5" height="13.08" fill="#0d4a8c"/>
<rect x="336.39" y="400" width="3.5" height="16.3" fill="#c40d2b"/>
<rect x="347.17" y="376.15" width="3.5" height="1.54" fill="#34b24a"/>
<rect x="347.17" y="377.69" width="3.5" height="9.54" fill="#0d4a8c"/>
<rect x="347.17" y="387.23" width="3.5" height="29.07" fill="#c40d2b"/>
<rect x="357.95" y="395.38" width="3.5" height="0.46" fill="#34b24a"/>
<rect x="357.95" y="395.85" width="3.5" height="20" fill="#0d4a8c"/>
<rect x="357.95" y="415.85" width="3.5" height="0.45" fill="#c40d2b"/>
<rect x="368.73" y="352.77" width="3.5" height="2.62" fill="#34b24a"/>
<rect x="368.73" y="355.38" width="3.5" height="2.62" fill="#0d4a8c"/>
<rect x="368.73" y="358" width="3.5" height="58.3" fill="#c40d2b"/>
<rect x="379.51" y="388.46" width="3.5" height="0.77" fill="#34b24a"/>
<rect x="379.51" y="389.23" width="3.5" height="13.54" fill="#0d4a8c"/>
<rect x="379.51" y="402.77" width="3.5" height="13.53" fill="#c40d2b"/>
<rect x="390.29" y="386.15" width="3.5" height="1.08" fill="#34b24a"/>
<rect x="390.29" y="387.23" width="3.5" height="18.92" fill="#0d4a8c"/>
<rect x="390.29" y="406.15" width="3.5" height="10.15" fill="#c40d2b"/>
<rect x="401.07" y="383.08" width="3.5" height="0.46" fill="#34b24a"/>
<rect x="401.07" y="383.54" width="3.5" height="6.15" fill="#0d4a8c"/>
<rect x="401.07" y="389.69" width="3.5" height="26.61" fill="#c40d2b"/>
<rect x="411.85" y="393.69" width="3.5" height="0.46" fill="#34b24a"/>
<rect x="411.85" y="394.15" width="3.5" height="18.62" fill="#0d4a8c"/>
<rect x="411.85" y="412.77" width="3.5" height="3.53" fill="#c40d2b"/>
<rect x="422.63" y="385.85" width="3.5" height="1.08" fill="#34b24a"/>
<rect x="422.63" y="386.92" width="3.5" height="4.15" fill="#0d4a8c"/>
<rect x="422.63" y="391.08" width="3.5" height="25.22" fill="#c40d2b"/>
<rect x="433.41" y="355.38" width="3.5" height="3.38" fill="#34b24a"/>
<rect x="433.41" y="358.77" width="3.5" height="9.23" fill="#0d4a8c"/>
<rect x="433.41" y="368" width="3.5" height="48.3" fill="#c40d2b"/>
<rect x="444.19" y="376.15" width="3.5" height="1.08" fill="#34b24a"/>
<rect x="444.19" y="377.23" width="3.5" height="4.31" fill="#0d4a8c"/>
<rect x="444.19" y="381.54" width="3.5" height="34.76" fill="#c40d2b"/>
<rect x="454.97" y="386.92" width="3.5" height="0.77" fill="#34b24a"/>
<rect x="454.97" y="387.69" width="3.5" height="14.92" fill="#0d4a8c"/>
<rect x="454.97" y="402.62" width="3.5" height="13.68" fill="#c40d2b"/>
<rect x="465.75" y="386.15" width="3.5" height="1.08" fill="#34b24a"/>
<rect x="465.75" y="387.23" width="3.5" height="5.08" fill="#0d4a8c"/>
<rect x="465.75" y="392.31" width="3.5" height="23.99" fill="#c40d2b"/>
<rect x="476.53" y="385.08" width="3.5" height="1.85" fill="#34b24a"/>
<rect x="476.53" y="386.92" width="3.5" height="14.15" fill="#0d4a8c"/>
<rect x="476.53" y="401.08" width="3.5" height="15.22" fill="#c40d2b"/>
<line x1="84.9" y1="334.1" x2="84.9" y2="419.3" stroke="#1e1e1e" stroke-width="1.1"/>
<line x1="82.9" y1="416.3" x2="84.9" y2="416.3" stroke="#1e1e1e" stroke-width="0.75"/>
<line x1="82.9" y1="414.7" x2="84.9" y2="414.7" stroke="#1e1e1e" stroke-width="0.75"/>
<line x1="82.9" y1="413.1" x2="84.9" y2="413.1" stroke="#1e1e1e" stroke-width="0.75"/>
<line x1="82.9" y1="411.5" x2="84.9" y2="411.5" stroke="#1e1e1e" stroke-width="0.75"/>
<line x1="82.9" y1="409.9" x2="84.9" y2="409.9" stroke="#1e1e1e" stroke-width="0.75"/>
<line x1="82.9" y1="408.3" x2="84.9" y2="408.3" stroke="#1e1e1e" stroke-width="0.75"/>
<line x1="82.9" y1="406.7" x2="84.9" y2="406.7" stroke="#1e1e1e" stroke-width="0.75"/>
<line x1="82.9" y1="405.1" x2="84.9" y2="405.1" stroke="#1e1e1e" stroke-width="0.75"/>
<line x1="82.9" y1="403.5" x2="84.9" y2="403.5" stroke="#1e1e1e" stroke-width="0.75"/>
<line x1="82.9" y1="401.9" x2="84.9" y2="401.9" stroke="#1e1e1e" stroke-width="0.75"/>
<line x1="82.9" y1="400.3" x2="84.9" y2="400.3" stroke="#1e1e1e" stroke-width="0.75"/>
<line x1="82.9" y1="398.7" x2="84.9" y2="398.7" stroke="#1e1e1e" stroke-width="0.75"/>
<line x1="82.9" y1="397.1" x2="84.9" y2="397.1" stroke="#1e1e1e" stroke-width="0.75"/>
<line x1="82.9" y1="395.5" x2="84.9" y2="395.5" stroke="#1e1e1e" stroke-width="0.75"/>
<line x1="82.9" y1="393.9" x2="84.9" y2="393.9" stroke="#1e1e1e" stroke-width="0.75"/>
<line x1="82.9" y1="392.3" x2="84.9" y2="392.3" stroke="#1e1e1e" stroke-width="0.75"/>
<line x1="82.9" y1="390.7" x2="84.9" y2="390.7" stroke="#1e1e1e" stroke-width="0.75"/>
<line x1="82.9" y1="389.1" x2="84.9" y2="389.1" stroke="#1e1e1e" stroke-width="0.75"/>
<line x1="82.9" y1="387.5" x2="84.9" y2="387.5" stroke="#1e1e1e" stroke-width="0.75"/>
<line x1="82.9" y1="385.9" x2="84.9" y2="385.9" stroke="#1e1e1e" stroke-width="0.75"/>
<line x1="82.9" y1="384.3" x2="84.9" y2="384.3" stroke="#1e1e1e" stroke-width="0.75"/>
<line x1="82.9" y1="382.7" x2="84.9" y2="382.7" stroke="#1e1e1e" stroke-width="0.75"/>
<line x1="82.9" y1="381.1" x2="84.9" y2="381.1" stroke="#1e1e1e" stroke-width="0.75"/>
<line x1="82.9" y1="379.5" x2="84.9" y2="379.5" stroke="#1e1e1e" stroke-width="0.75"/>
<line x1="82.9" y1="377.9" x2="84.9" y2="377.9" stroke="#1e1e1e" stroke-width="0.75"/>
<line x1="82.9" y1="376.3" x2="84.9" y2="376.3" stroke="#1e1e1e" stroke-width="0.75"/>
<line x1="82.9" y1="374.7" x2="84.9" y2="374.7" stroke="#1e1e1e" stroke-width="0.75"/>
<line x1="82.9" y1="373.1" x2="84.9" y2="373.1" stroke="#1e1e1e" stroke-width="0.75"/>
<line x1="82.9" y1="371.5" x2="84.9" y2="371.5" stroke="#1e1e1e" stroke-width="0.75"/>
<line x1="82.9" y1="369.9" x2="84.9" y2="369.9" stroke="#1e1e1e" stroke-width="0.75"/>
<line x1="82.9" y1="368.3" x2="84.9" y2="368.3" stroke="#1e1e1e" stroke-width="0.75"/>
<line x1="82.9" y1="366.7" x2="84.9" y2="366.7" stroke="#1e1e1e" stroke-width="0.75"/>
<line x1="82.9" y1="365.1" x2="84.9" y2="365.1" stroke="#1e1e1e" stroke-width="0.75"/>
<line x1="82.9" y1="363.5" x2="84.9" y2="363.5" stroke="#1e1e1e" stroke-width="0.75"/>
<line x1="82.9" y1="361.9" x2="84.9" y2="361.9" stroke="#1e1e1e" stroke-width="0.75"/>
<line x1="82.9" y1="360.3" x2="84.9" y2="360.3" stroke="#1e1e1e" stroke-width="0.75"/>
<line x1="82.9" y1="358.7" x2="84.9" y2="358.7" stroke="#1e1e1e" stroke-width="0.75"/>
<line x1="82.9" y1="357.1" x2="84.9" y2="357.1" stroke="#1e1e1e" stroke-width="0.75"/>
<line x1="82.9" y1="355.5" x2="84.9" y2="355.5" stroke="#1e1e1e" stroke-width="0.75"/>
<line x1="82.9" y1="353.9" x2="84.9" y2="353.9" stroke="#1e1e1e" stroke-width="0.75"/>
<line x1="82.9" y1="352.3" x2="84.9" y2="352.3" stroke="#1e1e1e" stroke-width="0.75"/>
<line x1="82.9" y1="350.7" x2="84.9" y2="350.7" stroke="#1e1e1e" stroke-width="0.75"/>
<line x1="82.9" y1="349.1" x2="84.9" y2="349.1" stroke="#1e1e1e" stroke-width="0.75"/>
<line x1="82.9" y1="347.5" x2="84.9" y2="347.5" stroke="#1e1e1e" stroke-width="0.75"/>
<line x1="82.9" y1="345.9" x2="84.9" y2="345.9" stroke="#1e1e1e" stroke-width="0.75"/>
<line x1="82.9" y1="344.3" x2="84.9" y2="344.3" stroke="#1e1e1e" stroke-width="0.75"/>
<line x1="82.9" y1="342.7" x2="84.9" y2="342.7" stroke="#1e1e1e" stroke-width="0.75"/>
<line x1="82.9" y1="341.1" x2="84.9" y2="341.1" stroke="#1e1e1e" stroke-width="0.75"/>
<line x1="82.9" y1="339.5" x2="84.9" y2="339.5" stroke="#1e1e1e" stroke-width="0.75"/>
<line x1="82.9" y1="337.9" x2="84.9" y2="337.9" stroke="#1e1e1e" stroke-width="0.75"/>
<line x1="82.9" y1="336.3" x2="84.9" y2="336.3" stroke="#1e1e1e" stroke-width="0.75"/>
<line x1="81.7" y1="416.3" x2="84.9" y2="416.3" stroke="#1e1e1e" stroke-width="1"/>
<text transform="translate(78.8,419.21) scale(0.800,1)" font-size="9.4" text-anchor="end" fill="#1e1e1e" stroke="#1e1e1e" stroke-width="0.22">0</text>
<line x1="81.7" y1="400.3" x2="84.9" y2="400.3" stroke="#1e1e1e" stroke-width="1"/>
<text transform="translate(78.8,403.21) scale(0.800,1)" font-size="9.4" text-anchor="end" fill="#1e1e1e" stroke="#1e1e1e" stroke-width="0.22">20</text>
<line x1="81.7" y1="384.3" x2="84.9" y2="384.3" stroke="#1e1e1e" stroke-width="1"/>
<text transform="translate(78.8,387.21) scale(0.800,1)" font-size="9.4" text-anchor="end" fill="#1e1e1e" stroke="#1e1e1e" stroke-width="0.22">40</text>
<line x1="81.7" y1="368.3" x2="84.9" y2="368.3" stroke="#1e1e1e" stroke-width="1"/>
<text transform="translate(78.8,371.21) scale(0.800,1)" font-size="9.4" text-anchor="end" fill="#1e1e1e" stroke="#1e1e1e" stroke-width="0.22">60</text>
<line x1="81.7" y1="352.3" x2="84.9" y2="352.3" stroke="#1e1e1e" stroke-width="1"/>
<text transform="translate(78.8,355.21) scale(0.800,1)" font-size="9.4" text-anchor="end" fill="#1e1e1e" stroke="#1e1e1e" stroke-width="0.22">80</text>
<line x1="81.7" y1="336.3" x2="84.9" y2="336.3" stroke="#1e1e1e" stroke-width="1"/>
<text transform="translate(78.8,339.21) scale(0.800,1)" font-size="9.4" text-anchor="end" fill="#1e1e1e" stroke="#1e1e1e" stroke-width="0.22">100</text>
<line x1="84.9" y1="416.3" x2="487" y2="416.3" stroke="#1e1e1e" stroke-width="1.1"/>
<line x1="95.59" y1="416.3" x2="95.59" y2="419.5" stroke="#1e1e1e" stroke-width="0.8"/>
<line x1="106.37" y1="416.3" x2="106.37" y2="419.5" stroke="#1e1e1e" stroke-width="0.8"/>
<line x1="117.15" y1="416.3" x2="117.15" y2="419.5" stroke="#1e1e1e" stroke-width="0.8"/>
<line x1="127.93" y1="416.3" x2="127.93" y2="419.5" stroke="#1e1e1e" stroke-width="0.8"/>
<line x1="138.71" y1="416.3" x2="138.71" y2="419.5" stroke="#1e1e1e" stroke-width="0.8"/>
<line x1="149.49" y1="416.3" x2="149.49" y2="419.5" stroke="#1e1e1e" stroke-width="0.8"/>
<line x1="160.27" y1="416.3" x2="160.27" y2="419.5" stroke="#1e1e1e" stroke-width="0.8"/>
<line x1="171.05" y1="416.3" x2="171.05" y2="419.5" stroke="#1e1e1e" stroke-width="0.8"/>
<line x1="181.83" y1="416.3" x2="181.83" y2="419.5" stroke="#1e1e1e" stroke-width="0.8"/>
<line x1="192.61" y1="416.3" x2="192.61" y2="419.5" stroke="#1e1e1e" stroke-width="0.8"/>
<line x1="203.39" y1="416.3" x2="203.39" y2="419.5" stroke="#1e1e1e" stroke-width="0.8"/>
<line x1="214.17" y1="416.3" x2="214.17" y2="419.5" stroke="#1e1e1e" stroke-width="0.8"/>
<line x1="224.95" y1="416.3" x2="224.95" y2="419.5" stroke="#1e1e1e" stroke-width="0.8"/>
<line x1="235.73" y1="416.3" x2="235.73" y2="419.5" stroke="#1e1e1e" stroke-width="0.8"/>
<line x1="246.51" y1="416.3" x2="246.51" y2="419.5" stroke="#1e1e1e" stroke-width="0.8"/>
<line x1="257.29" y1="416.3" x2="257.29" y2="419.5" stroke="#1e1e1e" stroke-width="0.8"/>
<line x1="268.07" y1="416.3" x2="268.07" y2="419.5" stroke="#1e1e1e" stroke-width="0.8"/>
<line x1="278.85" y1="416.3" x2="278.85" y2="419.5" stroke="#1e1e1e" stroke-width="0.8"/>
<line x1="289.63" y1="416.3" x2="289.63" y2="419.5" stroke="#1e1e1e" stroke-width="0.8"/>
<line x1="300.41" y1="416.3" x2="300.41" y2="419.5" stroke="#1e1e1e" stroke-width="0.8"/>
<line x1="311.19" y1="416.3" x2="311.19" y2="419.5" stroke="#1e1e1e" stroke-width="0.8"/>
<line x1="321.97" y1="416.3" x2="321.97" y2="419.5" stroke="#1e1e1e" stroke-width="0.8"/>
<line x1="332.75" y1="416.3" x2="332.75" y2="419.5" stroke="#1e1e1e" stroke-width="0.8"/>
<line x1="343.53" y1="416.3" x2="343.53" y2="419.5" stroke="#1e1e1e" stroke-width="0.8"/>
<line x1="354.31" y1="416.3" x2="354.31" y2="419.5" stroke="#1e1e1e" stroke-width="0.8"/>
<line x1="365.09" y1="416.3" x2="365.09" y2="419.5" stroke="#1e1e1e" stroke-width="0.8"/>
<line x1="375.87" y1="416.3" x2="375.87" y2="419.5" stroke="#1e1e1e" stroke-width="0.8"/>
<line x1="386.65" y1="416.3" x2="386.65" y2="419.5" stroke="#1e1e1e" stroke-width="0.8"/>
<line x1="397.43" y1="416.3" x2="397.43" y2="419.5" stroke="#1e1e1e" stroke-width="0.8"/>
<line x1="408.21" y1="416.3" x2="408.21" y2="419.5" stroke="#1e1e1e" stroke-width="0.8"/>
<line x1="418.99" y1="416.3" x2="418.99" y2="419.5" stroke="#1e1e1e" stroke-width="0.8"/>
<line x1="429.77" y1="416.3" x2="429.77" y2="419.5" stroke="#1e1e1e" stroke-width="0.8"/>
<line x1="440.55" y1="416.3" x2="440.55" y2="419.5" stroke="#1e1e1e" stroke-width="0.8"/>
<line x1="451.33" y1="416.3" x2="451.33" y2="419.5" stroke="#1e1e1e" stroke-width="0.8"/>
<line x1="462.11" y1="416.3" x2="462.11" y2="419.5" stroke="#1e1e1e" stroke-width="0.8"/>
<line x1="472.89" y1="416.3" x2="472.89" y2="419.5" stroke="#1e1e1e" stroke-width="0.8"/>
<line x1="483.67" y1="416.3" x2="483.67" y2="419.5" stroke="#1e1e1e" stroke-width="0.8"/>
<text transform="translate(92.97,423.2) rotate(-90)" font-size="7.7" text-anchor="end" fill="#1e1e1e" stroke="#1e1e1e" stroke-width="0.22">17</text>
<text transform="translate(103.75,423.2) rotate(-90)" font-size="7.7" text-anchor="end" fill="#1e1e1e" stroke="#1e1e1e" stroke-width="0.22">32</text>
<text transform="translate(114.53,423.2) rotate(-90)" font-size="7.7" text-anchor="end" fill="#1e1e1e" stroke="#1e1e1e" stroke-width="0.22">23</text>
<text transform="translate(125.31,423.2) rotate(-90)" font-size="7.7" text-anchor="end" fill="#1e1e1e" stroke="#1e1e1e" stroke-width="0.22">25</text>
<text transform="translate(136.09,423.2) rotate(-90)" font-size="7.7" text-anchor="end" fill="#1e1e1e" stroke="#1e1e1e" stroke-width="0.22">34</text>
<text transform="translate(146.87,423.2) rotate(-90)" font-size="7.7" text-anchor="end" fill="#1e1e1e" stroke="#1e1e1e" stroke-width="0.22">19</text>
<text transform="translate(157.65,423.2) rotate(-90)" font-size="7.7" text-anchor="end" fill="#1e1e1e" stroke="#1e1e1e" stroke-width="0.22">8</text>
<text transform="translate(168.43,423.2) rotate(-90)" font-size="7.7" text-anchor="end" fill="#1e1e1e" stroke="#1e1e1e" stroke-width="0.22">1</text>
<text transform="translate(179.21,423.2) rotate(-90)" font-size="7.7" text-anchor="end" fill="#1e1e1e" stroke="#1e1e1e" stroke-width="0.22">29</text>
<text transform="translate(189.99,423.2) rotate(-90)" font-size="7.7" text-anchor="end" fill="#1e1e1e" stroke="#1e1e1e" stroke-width="0.22">28</text>
<text transform="translate(200.77,423.2) rotate(-90)" font-size="7.7" text-anchor="end" fill="#1e1e1e" stroke="#1e1e1e" stroke-width="0.22">18</text>
<text transform="translate(211.55,423.2) rotate(-90)" font-size="7.7" text-anchor="end" fill="#1e1e1e" stroke="#1e1e1e" stroke-width="0.22">20</text>
<text transform="translate(222.33,423.2) rotate(-90)" font-size="7.7" text-anchor="end" fill="#1e1e1e" stroke="#1e1e1e" stroke-width="0.22">30</text>
<text transform="translate(233.11,423.2) rotate(-90)" font-size="7.7" text-anchor="end" fill="#1e1e1e" stroke="#1e1e1e" stroke-width="0.22">13</text>
<text transform="translate(243.89,423.2) rotate(-90)" font-size="7.7" text-anchor="end" fill="#1e1e1e" stroke="#1e1e1e" stroke-width="0.22">2</text>
<text transform="translate(254.67,423.2) rotate(-90)" font-size="7.7" text-anchor="end" fill="#1e1e1e" stroke="#1e1e1e" stroke-width="0.22">6</text>
<text transform="translate(265.45,423.2) rotate(-90)" font-size="7.7" text-anchor="end" fill="#1e1e1e" stroke="#1e1e1e" stroke-width="0.22">26</text>
<text transform="translate(276.23,423.2) rotate(-90)" font-size="7.7" text-anchor="end" fill="#1e1e1e" stroke="#1e1e1e" stroke-width="0.22">16</text>
<text transform="translate(287.01,423.2) rotate(-90)" font-size="7.7" text-anchor="end" fill="#1e1e1e" stroke="#1e1e1e" stroke-width="0.22">35</text>
<text transform="translate(297.79,423.2) rotate(-90)" font-size="7.7" text-anchor="end" fill="#1e1e1e" stroke="#1e1e1e" stroke-width="0.22">22</text>
<text transform="translate(308.57,423.2) rotate(-90)" font-size="7.7" text-anchor="end" fill="#1e1e1e" stroke="#1e1e1e" stroke-width="0.22">4</text>
<text transform="translate(319.35,423.2) rotate(-90)" font-size="7.7" text-anchor="end" fill="#1e1e1e" stroke="#1e1e1e" stroke-width="0.22">24</text>
<text transform="translate(330.13,423.2) rotate(-90)" font-size="7.7" text-anchor="end" fill="#1e1e1e" stroke="#1e1e1e" stroke-width="0.22">14</text>
<text transform="translate(340.91,423.2) rotate(-90)" font-size="7.7" text-anchor="end" fill="#1e1e1e" stroke="#1e1e1e" stroke-width="0.22">7</text>
<text transform="translate(351.69,423.2) rotate(-90)" font-size="7.7" text-anchor="end" fill="#1e1e1e" stroke="#1e1e1e" stroke-width="0.22">3</text>
<text transform="translate(362.47,423.2) rotate(-90)" font-size="7.7" text-anchor="end" fill="#1e1e1e" stroke="#1e1e1e" stroke-width="0.22">9</text>
<text transform="translate(373.25,423.2) rotate(-90)" font-size="7.7" text-anchor="end" fill="#1e1e1e" stroke="#1e1e1e" stroke-width="0.22">5</text>
<text transform="translate(384.03,423.2) rotate(-90)" font-size="7.7" text-anchor="end" fill="#1e1e1e" stroke="#1e1e1e" stroke-width="0.22">36</text>
<text transform="translate(394.81,423.2) rotate(-90)" font-size="7.7" text-anchor="end" fill="#1e1e1e" stroke="#1e1e1e" stroke-width="0.22">10</text>
<text transform="translate(405.59,423.2) rotate(-90)" font-size="7.7" text-anchor="end" fill="#1e1e1e" stroke="#1e1e1e" stroke-width="0.22">27</text>
<text transform="translate(416.37,423.2) rotate(-90)" font-size="7.7" text-anchor="end" fill="#1e1e1e" stroke="#1e1e1e" stroke-width="0.22">12</text>
<text transform="translate(427.15,423.2) rotate(-90)" font-size="7.7" text-anchor="end" fill="#1e1e1e" stroke="#1e1e1e" stroke-width="0.22">31</text>
<text transform="translate(437.93,423.2) rotate(-90)" font-size="7.7" text-anchor="end" fill="#1e1e1e" stroke="#1e1e1e" stroke-width="0.22">37</text>
<text transform="translate(448.71,423.2) rotate(-90)" font-size="7.7" text-anchor="end" fill="#1e1e1e" stroke="#1e1e1e" stroke-width="0.22">33</text>
<text transform="translate(459.49,423.2) rotate(-90)" font-size="7.7" text-anchor="end" fill="#1e1e1e" stroke="#1e1e1e" stroke-width="0.22">15</text>
<text transform="translate(470.27,423.2) rotate(-90)" font-size="7.7" text-anchor="end" fill="#1e1e1e" stroke="#1e1e1e" stroke-width="0.22">11</text>
<text transform="translate(481.05,423.2) rotate(-90)" font-size="7.7" text-anchor="end" fill="#1e1e1e" stroke="#1e1e1e" stroke-width="0.22">21</text>
<text transform="translate(289.7,229.8) scale(0.761,1)" font-size="9" text-anchor="middle" fill="#1e1e1e" stroke="#1e1e1e" stroke-width="0.22">HD #</text>
<text transform="translate(288.5,343.9) scale(0.802,1)" font-size="9" text-anchor="middle" fill="#1e1e1e" stroke="#1e1e1e" stroke-width="0.22">Patient #</text>
<text transform="translate(288.5,444.6) scale(0.802,1)" font-size="9" text-anchor="middle" fill="#1e1e1e" stroke="#1e1e1e" stroke-width="0.22">Patient #</text>
<text transform="translate(65.9,159.5) rotate(-90) scale(0.793,1)" font-size="9.3" text-anchor="middle" fill="#1e1e1e" stroke="#1e1e1e" stroke-width="0.17">% of positive cells</text>
<text transform="translate(64,273.4) rotate(-90) scale(0.781,1)" font-size="9.3" text-anchor="middle" fill="#1e1e1e" stroke="#1e1e1e" stroke-width="0.17">% of positive cells</text>
<text transform="translate(64,375.3) rotate(-90) scale(0.793,1)" font-size="9.3" text-anchor="middle" fill="#1e1e1e" stroke="#1e1e1e" stroke-width="0.17">% of positive cells</text>
<text transform="translate(52,159.9) rotate(-90) scale(0.908,1)" font-size="9" text-anchor="middle" font-weight="bold" fill="#000" stroke="#000" stroke-width="0.2">HD</text>
<text transform="translate(51.3,275.4) rotate(-90) scale(0.915,1)" font-size="9" text-anchor="middle" font-weight="bold" fill="#000" stroke="#000" stroke-width="0.2">Malignant (V&#946;<tspan font-size="5.4" baseline-shift="3.24">+</tspan>)</text>
<text transform="translate(51.3,371) rotate(-90) scale(0.862,1)" font-size="9" text-anchor="middle" font-weight="bold" fill="#000" stroke="#000" stroke-width="0.2">Non-malignant (V&#946;<tspan font-size="5.4" baseline-shift="3.24">-</tspan>)</text>
<line x1="38.7" y1="234.4" x2="38.7" y2="424.8" stroke="#000" stroke-width="1.35"/>
<text transform="translate(37,328.5) rotate(-90) scale(0.875,1)" font-size="9" text-anchor="middle" font-weight="bold" fill="#000" stroke="#000" stroke-width="0.2">SS</text>
<rect x="236" y="450.6" width="2.8" height="2.8" fill="#c40d2b"/>
<text transform="translate(241.5,454.9) scale(0.843,1)" font-size="8.6" text-anchor="start" fill="#1e1e1e" stroke="#1e1e1e" stroke-width="0.22">SP CD39</text>
<rect x="278.1" y="450.6" width="2.8" height="2.8" fill="#0d4a8c"/>
<text transform="translate(284.3,454.9) scale(0.841,1)" font-size="8.6" text-anchor="start" fill="#1e1e1e" stroke="#1e1e1e" stroke-width="0.22">SP CD73</text>
<rect x="321.4" y="450.6" width="2.8" height="2.8" fill="#34b24a"/>
<text transform="translate(327,454.9) scale(0.812,1)" font-size="8.6" text-anchor="start" fill="#1e1e1e" stroke="#1e1e1e" stroke-width="0.22">DP</text>
<line x1="59.7" y1="461.2" x2="59.7" y2="525.2" stroke="#1e1e1e" stroke-width="1"/>
<line x1="56.4" y1="524.7" x2="59.7" y2="524.7" stroke="#1e1e1e" stroke-width="1"/>
<text transform="translate(52.8,527.83) scale(0.860,1)" font-size="8.7" text-anchor="end" fill="#1e1e1e" stroke="#1e1e1e" stroke-width="0.22">0</text>
<line x1="56.4" y1="512.36" x2="59.7" y2="512.36" stroke="#1e1e1e" stroke-width="1"/>
<text transform="translate(52.8,515.49) scale(0.860,1)" font-size="8.7" text-anchor="end" fill="#1e1e1e" stroke="#1e1e1e" stroke-width="0.22">20</text>
<line x1="56.4" y1="500.02" x2="59.7" y2="500.02" stroke="#1e1e1e" stroke-width="1"/>
<text transform="translate(52.8,503.15) scale(0.860,1)" font-size="8.7" text-anchor="end" fill="#1e1e1e" stroke="#1e1e1e" stroke-width="0.22">40</text>
<line x1="56.4" y1="487.68" x2="59.7" y2="487.68" stroke="#1e1e1e" stroke-width="1"/>
<text transform="translate(52.8,490.81) scale(0.860,1)" font-size="8.7" text-anchor="end" fill="#1e1e1e" stroke="#1e1e1e" stroke-width="0.22">60</text>
<line x1="56.4" y1="475.34" x2="59.7" y2="475.34" stroke="#1e1e1e" stroke-width="1"/>
<text transform="translate(52.8,478.47) scale(0.860,1)" font-size="8.7" text-anchor="end" fill="#1e1e1e" stroke="#1e1e1e" stroke-width="0.22">80</text>
<line x1="56.4" y1="463" x2="59.7" y2="463" stroke="#1e1e1e" stroke-width="1"/>
<text transform="translate(52.8,466.13) scale(0.860,1)" font-size="8.7" text-anchor="end" fill="#1e1e1e" stroke="#1e1e1e" stroke-width="0.22">100</text>
<line x1="59.7" y1="524.7" x2="150.4" y2="524.7" stroke="#1e1e1e" stroke-width="1.3"/>
<line x1="85.2" y1="524.7" x2="85.2" y2="527.3" stroke="#1e1e1e" stroke-width="0.9"/>
<line x1="124.6" y1="524.7" x2="124.6" y2="527.3" stroke="#1e1e1e" stroke-width="0.9"/>
<path d="M85.2 495.08m-1.15 0a1.15 1.15 0 1 0 2.3 0a1.15 1.15 0 1 0 -2.3 0M85.2 512.36m-1.15 0a1.15 1.15 0 1 0 2.3 0a1.15 1.15 0 1 0 -2.3 0M84.11 520.42m-1.15 0a1.15 1.15 0 1 0 2.3 0a1.15 1.15 0 1 0 -2.3 0M86.29 520.39m-1.15 0a1.15 1.15 0 1 0 2.3 0a1.15 1.15 0 1 0 -2.3 0M88.47 520.24m-1.15 0a1.15 1.15 0 1 0 2.3 0a1.15 1.15 0 1 0 -2.3 0M81.93 519.86m-1.15 0a1.15 1.15 0 1 0 2.3 0a1.15 1.15 0 1 0 -2.3 0M90.65 519.82m-1.15 0a1.15 1.15 0 1 0 2.3 0a1.15 1.15 0 1 0 -2.3 0M79.75 519.41m-1.15 0a1.15 1.15 0 1 0 2.3 0a1.15 1.15 0 1 0 -2.3 0M92.84 519.26m-1.15 0a1.15 1.15 0 1 0 2.3 0a1.15 1.15 0 1 0 -2.3 0M77.56 518.82m-1.15 0a1.15 1.15 0 1 0 2.3 0a1.15 1.15 0 1 0 -2.3 0M95.02 518.63m-1.15 0a1.15 1.15 0 1 0 2.3 0a1.15 1.15 0 1 0 -2.3 0M75.38 518.63m-1.15 0a1.15 1.15 0 1 0 2.3 0a1.15 1.15 0 1 0 -2.3 0M73.2 517.91m-1.15 0a1.15 1.15 0 1 0 2.3 0a1.15 1.15 0 1 0 -2.3 0M97.2 517.3m-1.15 0a1.15 1.15 0 1 0 2.3 0a1.15 1.15 0 1 0 -2.3 0M85.72 523.7m-1.15 0a1.15 1.15 0 1 0 2.3 0a1.15 1.15 0 1 0 -2.3 0M84.68 523.7m-1.15 0a1.15 1.15 0 1 0 2.3 0a1.15 1.15 0 1 0 -2.3 0M86.77 523.7m-1.15 0a1.15 1.15 0 1 0 2.3 0a1.15 1.15 0 1 0 -2.3 0M83.63 523.7m-1.15 0a1.15 1.15 0 1 0 2.3 0a1.15 1.15 0 1 0 -2.3 0M82.59 523.7m-1.15 0a1.15 1.15 0 1 0 2.3 0a1.15 1.15 0 1 0 -2.3 0M87.81 523.7m-1.15 0a1.15 1.15 0 1 0 2.3 0a1.15 1.15 0 1 0 -2.3 0M81.55 523.7m-1.15 0a1.15 1.15 0 1 0 2.3 0a1.15 1.15 0 1 0 -2.3 0M88.85 523.7m-1.15 0a1.15 1.15 0 1 0 2.3 0a1.15 1.15 0 1 0 -2.3 0M89.9 523.69m-1.15 0a1.15 1.15 0 1 0 2.3 0a1.15 1.15 0 1 0 -2.3 0M80.5 523.5m-1.15 0a1.15 1.15 0 1 0 2.3 0a1.15 1.15 0 1 0 -2.3 0M79.46 523.41m-1.15 0a1.15 1.15 0 1 0 2.3 0a1.15 1.15 0 1 0 -2.3 0M90.94 523.38m-1.15 0a1.15 1.15 0 1 0 2.3 0a1.15 1.15 0 1 0 -2.3 0M91.98 522.98m-1.15 0a1.15 1.15 0 1 0 2.3 0a1.15 1.15 0 1 0 -2.3 0M78.42 522.91m-1.15 0a1.15 1.15 0 1 0 2.3 0a1.15 1.15 0 1 0 -2.3 0M77.37 522.83m-1.15 0a1.15 1.15 0 1 0 2.3 0a1.15 1.15 0 1 0 -2.3 0M93.03 522.63m-1.15 0a1.15 1.15 0 1 0 2.3 0a1.15 1.15 0 1 0 -2.3 0M94.07 522.43m-1.15 0a1.15 1.15 0 1 0 2.3 0a1.15 1.15 0 1 0 -2.3 0M76.33 522.43m-1.15 0a1.15 1.15 0 1 0 2.3 0a1.15 1.15 0 1 0 -2.3 0M75.29 522.24m-1.15 0a1.15 1.15 0 1 0 2.3 0a1.15 1.15 0 1 0 -2.3 0M95.11 521.82m-1.15 0a1.15 1.15 0 1 0 2.3 0a1.15 1.15 0 1 0 -2.3 0M74.24 521.8m-1.15 0a1.15 1.15 0 1 0 2.3 0a1.15 1.15 0 1 0 -2.3 0M96.16 521.78m-1.15 0a1.15 1.15 0 1 0 2.3 0a1.15 1.15 0 1 0 -2.3 0M73.2 521.5m-1.15 0a1.15 1.15 0 1 0 2.3 0a1.15 1.15 0 1 0 -2.3 0M97.2 521.18m-1.15 0a1.15 1.15 0 1 0 2.3 0a1.15 1.15 0 1 0 -2.3 0" fill="#cc0a26"/>
<path d="M124.6 475.34m-1.15 0a1.15 1.15 0 1 0 2.3 0a1.15 1.15 0 1 0 -2.3 0M124.6 480.28m-1.15 0a1.15 1.15 0 1 0 2.3 0a1.15 1.15 0 1 0 -2.3 0M124.6 488.3m-1.15 0a1.15 1.15 0 1 0 2.3 0a1.15 1.15 0 1 0 -2.3 0M128.8 488.3m-1.15 0a1.15 1.15 0 1 0 2.3 0a1.15 1.15 0 1 0 -2.3 0M120.4 485.83m-1.15 0a1.15 1.15 0 1 0 2.3 0a1.15 1.15 0 1 0 -2.3 0M124.6 495.08m-1.15 0a1.15 1.15 0 1 0 2.3 0a1.15 1.15 0 1 0 -2.3 0M124.6 508.04m-1.15 0a1.15 1.15 0 1 0 2.3 0a1.15 1.15 0 1 0 -2.3 0M120.4 507.42m-1.15 0a1.15 1.15 0 1 0 2.3 0a1.15 1.15 0 1 0 -2.3 0M128.8 505.57m-1.15 0a1.15 1.15 0 1 0 2.3 0a1.15 1.15 0 1 0 -2.3 0M133 504.96m-1.15 0a1.15 1.15 0 1 0 2.3 0a1.15 1.15 0 1 0 -2.3 0M116.2 504.34m-1.15 0a1.15 1.15 0 1 0 2.3 0a1.15 1.15 0 1 0 -2.3 0M122.5 512.36m-1.15 0a1.15 1.15 0 1 0 2.3 0a1.15 1.15 0 1 0 -2.3 0M126.7 511.13m-1.15 0a1.15 1.15 0 1 0 2.3 0a1.15 1.15 0 1 0 -2.3 0M118.3 509.89m-1.15 0a1.15 1.15 0 1 0 2.3 0a1.15 1.15 0 1 0 -2.3 0M130.9 509.28m-1.15 0a1.15 1.15 0 1 0 2.3 0a1.15 1.15 0 1 0 -2.3 0M124.6 517.3m-1.15 0a1.15 1.15 0 1 0 2.3 0a1.15 1.15 0 1 0 -2.3 0M128.8 516.06m-1.15 0a1.15 1.15 0 1 0 2.3 0a1.15 1.15 0 1 0 -2.3 0M120.4 515.45m-1.15 0a1.15 1.15 0 1 0 2.3 0a1.15 1.15 0 1 0 -2.3 0M133 514.83m-1.15 0a1.15 1.15 0 1 0 2.3 0a1.15 1.15 0 1 0 -2.3 0M116.2 513.59m-1.15 0a1.15 1.15 0 1 0 2.3 0a1.15 1.15 0 1 0 -2.3 0M122.5 522.23m-1.15 0a1.15 1.15 0 1 0 2.3 0a1.15 1.15 0 1 0 -2.3 0M126.7 521.62m-1.15 0a1.15 1.15 0 1 0 2.3 0a1.15 1.15 0 1 0 -2.3 0M130.9 521m-1.15 0a1.15 1.15 0 1 0 2.3 0a1.15 1.15 0 1 0 -2.3 0M118.3 519.76m-1.15 0a1.15 1.15 0 1 0 2.3 0a1.15 1.15 0 1 0 -2.3 0M114.1 519.15m-1.15 0a1.15 1.15 0 1 0 2.3 0a1.15 1.15 0 1 0 -2.3 0M135.1 518.53m-1.15 0a1.15 1.15 0 1 0 2.3 0a1.15 1.15 0 1 0 -2.3 0M122.5 523.7m-1.15 0a1.15 1.15 0 1 0 2.3 0a1.15 1.15 0 1 0 -2.3 0M126.7 523.7m-1.15 0a1.15 1.15 0 1 0 2.3 0a1.15 1.15 0 1 0 -2.3 0M118.3 523.47m-1.15 0a1.15 1.15 0 1 0 2.3 0a1.15 1.15 0 1 0 -2.3 0M130.9 522.85m-1.15 0a1.15 1.15 0 1 0 2.3 0a1.15 1.15 0 1 0 -2.3 0" fill="#08478a"/>
<line x1="73" y1="521.5" x2="98" y2="521.5" stroke="#262626" stroke-width="1.15"/>
<line x1="85.5" y1="516.5" x2="85.5" y2="524.7" stroke="#262626" stroke-width="1.15"/>
<line x1="79" y1="516.5" x2="92" y2="516.5" stroke="#262626" stroke-width="1.15"/>
<line x1="112" y1="511.5" x2="137" y2="511.5" stroke="#262626" stroke-width="1.15"/>
<line x1="124.5" y1="498.5" x2="124.5" y2="524.7" stroke="#262626" stroke-width="1.15"/>
<line x1="118" y1="498.5" x2="131" y2="498.5" stroke="#262626" stroke-width="1.15"/>
<path d="M85.2 470.8V467.5H124.6V470.8" fill="none" stroke="#2a2a2a" stroke-width="1.1"/>
<path d="M99.95 463.9m-1.1 0a1.1 1.1 0 1 0 2.2 0a1.1 1.1 0 1 0 -2.2 0M103.25 463.9m-1.1 0a1.1 1.1 0 1 0 2.2 0a1.1 1.1 0 1 0 -2.2 0M106.55 463.9m-1.1 0a1.1 1.1 0 1 0 2.2 0a1.1 1.1 0 1 0 -2.2 0M109.85 463.9m-1.1 0a1.1 1.1 0 1 0 2.2 0a1.1 1.1 0 1 0 -2.2 0" fill="#2a2a2a"/>
<text transform="translate(85.2,536.6) scale(0.912,1)" font-size="8.2" text-anchor="middle" fill="#1e1e1e" stroke="#1e1e1e" stroke-width="0.22">HD</text>
<text transform="translate(124.6,536.6) scale(0.804,1)" font-size="8.2" text-anchor="middle" fill="#1e1e1e" stroke="#1e1e1e" stroke-width="0.22">SS</text>
<line x1="235.2" y1="461.2" x2="235.2" y2="525.2" stroke="#1e1e1e" stroke-width="1"/>
<line x1="231.9" y1="524.7" x2="235.2" y2="524.7" stroke="#1e1e1e" stroke-width="1"/>
<text transform="translate(228.3,527.83) scale(0.860,1)" font-size="8.7" text-anchor="end" fill="#1e1e1e" stroke="#1e1e1e" stroke-width="0.22">0</text>
<line x1="231.9" y1="512.36" x2="235.2" y2="512.36" stroke="#1e1e1e" stroke-width="1"/>
<text transform="translate(228.3,515.49) scale(0.860,1)" font-size="8.7" text-anchor="end" fill="#1e1e1e" stroke="#1e1e1e" stroke-width="0.22">20</text>
<line x1="231.9" y1="500.02" x2="235.2" y2="500.02" stroke="#1e1e1e" stroke-width="1"/>
<text transform="translate(228.3,503.15) scale(0.860,1)" font-size="8.7" text-anchor="end" fill="#1e1e1e" stroke="#1e1e1e" stroke-width="0.22">40</text>
<line x1="231.9" y1="487.68" x2="235.2" y2="487.68" stroke="#1e1e1e" stroke-width="1"/>
<text transform="translate(228.3,490.81) scale(0.860,1)" font-size="8.7" text-anchor="end" fill="#1e1e1e" stroke="#1e1e1e" stroke-width="0.22">60</text>
<line x1="231.9" y1="475.34" x2="235.2" y2="475.34" stroke="#1e1e1e" stroke-width="1"/>
<text transform="translate(228.3,478.47) scale(0.860,1)" font-size="8.7" text-anchor="end" fill="#1e1e1e" stroke="#1e1e1e" stroke-width="0.22">80</text>
<line x1="231.9" y1="463" x2="235.2" y2="463" stroke="#1e1e1e" stroke-width="1"/>
<text transform="translate(228.3,466.13) scale(0.860,1)" font-size="8.7" text-anchor="end" fill="#1e1e1e" stroke="#1e1e1e" stroke-width="0.22">100</text>
<line x1="235.2" y1="524.7" x2="325.6" y2="524.7" stroke="#1e1e1e" stroke-width="1.3"/>
<line x1="260.7" y1="524.7" x2="260.7" y2="527.3" stroke="#1e1e1e" stroke-width="0.9"/>
<line x1="300" y1="524.7" x2="300" y2="527.3" stroke="#1e1e1e" stroke-width="0.9"/>
<path d="M260.7 477.81m-1.15 0a1.15 1.15 0 1 0 2.3 0a1.15 1.15 0 1 0 -2.3 0M265.5 475.34m-1.15 0a1.15 1.15 0 1 0 2.3 0a1.15 1.15 0 1 0 -2.3 0M255.9 474.72m-1.15 0a1.15 1.15 0 1 0 2.3 0a1.15 1.15 0 1 0 -2.3 0M260.7 482.63m-1.15 0a1.15 1.15 0 1 0 2.3 0a1.15 1.15 0 1 0 -2.3 0M265.5 482.49m-1.15 0a1.15 1.15 0 1 0 2.3 0a1.15 1.15 0 1 0 -2.3 0M255.9 482.04m-1.15 0a1.15 1.15 0 1 0 2.3 0a1.15 1.15 0 1 0 -2.3 0M251.1 480.28m-1.15 0a1.15 1.15 0 1 0 2.3 0a1.15 1.15 0 1 0 -2.3 0M270.3 479.04m-1.15 0a1.15 1.15 0 1 0 2.3 0a1.15 1.15 0 1 0 -2.3 0M259.26 488.92m-1.15 0a1.15 1.15 0 1 0 2.3 0a1.15 1.15 0 1 0 -2.3 0M262.14 488.33m-1.15 0a1.15 1.15 0 1 0 2.3 0a1.15 1.15 0 1 0 -2.3 0M265.03 488.18m-1.15 0a1.15 1.15 0 1 0 2.3 0a1.15 1.15 0 1 0 -2.3 0M256.37 487.93m-1.15 0a1.15 1.15 0 1 0 2.3 0a1.15 1.15 0 1 0 -2.3 0M253.48 487.43m-1.15 0a1.15 1.15 0 1 0 2.3 0a1.15 1.15 0 1 0 -2.3 0M267.92 487.05m-1.15 0a1.15 1.15 0 1 0 2.3 0a1.15 1.15 0 1 0 -2.3 0M250.59 486.94m-1.15 0a1.15 1.15 0 1 0 2.3 0a1.15 1.15 0 1 0 -2.3 0M270.81 486.51m-1.15 0a1.15 1.15 0 1 0 2.3 0a1.15 1.15 0 1 0 -2.3 0M273.7 485.87m-1.15 0a1.15 1.15 0 1 0 2.3 0a1.15 1.15 0 1 0 -2.3 0M247.7 484.75m-1.15 0a1.15 1.15 0 1 0 2.3 0a1.15 1.15 0 1 0 -2.3 0M258.3 493.49m-1.15 0a1.15 1.15 0 1 0 2.3 0a1.15 1.15 0 1 0 -2.3 0M263.1 492.78m-1.15 0a1.15 1.15 0 1 0 2.3 0a1.15 1.15 0 1 0 -2.3 0M267.9 491.54m-1.15 0a1.15 1.15 0 1 0 2.3 0a1.15 1.15 0 1 0 -2.3 0M253.5 491.42m-1.15 0a1.15 1.15 0 1 0 2.3 0a1.15 1.15 0 1 0 -2.3 0M248.7 491.2m-1.15 0a1.15 1.15 0 1 0 2.3 0a1.15 1.15 0 1 0 -2.3 0M272.7 489.74m-1.15 0a1.15 1.15 0 1 0 2.3 0a1.15 1.15 0 1 0 -2.3 0M263.1 495.96m-1.15 0a1.15 1.15 0 1 0 2.3 0a1.15 1.15 0 1 0 -2.3 0M258.3 494.53m-1.15 0a1.15 1.15 0 1 0 2.3 0a1.15 1.15 0 1 0 -2.3 0M260.7 503.83m-1.15 0a1.15 1.15 0 1 0 2.3 0a1.15 1.15 0 1 0 -2.3 0M265.03 503.3m-1.15 0a1.15 1.15 0 1 0 2.3 0a1.15 1.15 0 1 0 -2.3 0M256.37 503.16m-1.15 0a1.15 1.15 0 1 0 2.3 0a1.15 1.15 0 1 0 -2.3 0M252.03 502.78m-1.15 0a1.15 1.15 0 1 0 2.3 0a1.15 1.15 0 1 0 -2.3 0M269.37 500.64m-1.15 0a1.15 1.15 0 1 0 2.3 0a1.15 1.15 0 1 0 -2.3 0M247.7 500.16m-1.15 0a1.15 1.15 0 1 0 2.3 0a1.15 1.15 0 1 0 -2.3 0M273.7 499.91m-1.15 0a1.15 1.15 0 1 0 2.3 0a1.15 1.15 0 1 0 -2.3 0M260.7 507.45m-1.15 0a1.15 1.15 0 1 0 2.3 0a1.15 1.15 0 1 0 -2.3 0M256.37 506.08m-1.15 0a1.15 1.15 0 1 0 2.3 0a1.15 1.15 0 1 0 -2.3 0M265.03 504.88m-1.15 0a1.15 1.15 0 1 0 2.3 0a1.15 1.15 0 1 0 -2.3 0M269.37 504.48m-1.15 0a1.15 1.15 0 1 0 2.3 0a1.15 1.15 0 1 0 -2.3 0M252.03 504.31m-1.15 0a1.15 1.15 0 1 0 2.3 0a1.15 1.15 0 1 0 -2.3 0M247.7 504.3m-1.15 0a1.15 1.15 0 1 0 2.3 0a1.15 1.15 0 1 0 -2.3 0M273.7 504.18m-1.15 0a1.15 1.15 0 1 0 2.3 0a1.15 1.15 0 1 0 -2.3 0M263.1 511.97m-1.15 0a1.15 1.15 0 1 0 2.3 0a1.15 1.15 0 1 0 -2.3 0M258.3 511.73m-1.15 0a1.15 1.15 0 1 0 2.3 0a1.15 1.15 0 1 0 -2.3 0M267.9 511.1m-1.15 0a1.15 1.15 0 1 0 2.3 0a1.15 1.15 0 1 0 -2.3 0M253.5 509.92m-1.15 0a1.15 1.15 0 1 0 2.3 0a1.15 1.15 0 1 0 -2.3 0M248.7 508.98m-1.15 0a1.15 1.15 0 1 0 2.3 0a1.15 1.15 0 1 0 -2.3 0M272.7 508.97m-1.15 0a1.15 1.15 0 1 0 2.3 0a1.15 1.15 0 1 0 -2.3 0M260.7 517.3m-1.15 0a1.15 1.15 0 1 0 2.3 0a1.15 1.15 0 1 0 -2.3 0M265.5 516.06m-1.15 0a1.15 1.15 0 1 0 2.3 0a1.15 1.15 0 1 0 -2.3 0M255.9 513.59m-1.15 0a1.15 1.15 0 1 0 2.3 0a1.15 1.15 0 1 0 -2.3 0M260.7 519.15m-1.15 0a1.15 1.15 0 1 0 2.3 0a1.15 1.15 0 1 0 -2.3 0" fill="#cc0a26"/>
<path d="M300 474.72m-1.15 0a1.15 1.15 0 1 0 2.3 0a1.15 1.15 0 1 0 -2.3 0M300 492.62m-1.15 0a1.15 1.15 0 1 0 2.3 0a1.15 1.15 0 1 0 -2.3 0M300 498.17m-1.15 0a1.15 1.15 0 1 0 2.3 0a1.15 1.15 0 1 0 -2.3 0M297.9 508.04m-1.15 0a1.15 1.15 0 1 0 2.3 0a1.15 1.15 0 1 0 -2.3 0M302.1 506.81m-1.15 0a1.15 1.15 0 1 0 2.3 0a1.15 1.15 0 1 0 -2.3 0M306.3 506.19m-1.15 0a1.15 1.15 0 1 0 2.3 0a1.15 1.15 0 1 0 -2.3 0M293.7 504.96m-1.15 0a1.15 1.15 0 1 0 2.3 0a1.15 1.15 0 1 0 -2.3 0M302.1 512.36m-1.15 0a1.15 1.15 0 1 0 2.3 0a1.15 1.15 0 1 0 -2.3 0M297.9 511.13m-1.15 0a1.15 1.15 0 1 0 2.3 0a1.15 1.15 0 1 0 -2.3 0M293.7 509.89m-1.15 0a1.15 1.15 0 1 0 2.3 0a1.15 1.15 0 1 0 -2.3 0M306.3 509.28m-1.15 0a1.15 1.15 0 1 0 2.3 0a1.15 1.15 0 1 0 -2.3 0M302.1 517.3m-1.15 0a1.15 1.15 0 1 0 2.3 0a1.15 1.15 0 1 0 -2.3 0M297.9 516.06m-1.15 0a1.15 1.15 0 1 0 2.3 0a1.15 1.15 0 1 0 -2.3 0M293.7 515.45m-1.15 0a1.15 1.15 0 1 0 2.3 0a1.15 1.15 0 1 0 -2.3 0M306.3 514.83m-1.15 0a1.15 1.15 0 1 0 2.3 0a1.15 1.15 0 1 0 -2.3 0M289.5 514.21m-1.15 0a1.15 1.15 0 1 0 2.3 0a1.15 1.15 0 1 0 -2.3 0M310.5 513.59m-1.15 0a1.15 1.15 0 1 0 2.3 0a1.15 1.15 0 1 0 -2.3 0M300 521.62m-1.15 0a1.15 1.15 0 1 0 2.3 0a1.15 1.15 0 1 0 -2.3 0M296 521m-1.15 0a1.15 1.15 0 1 0 2.3 0a1.15 1.15 0 1 0 -2.3 0M304 520.38m-1.15 0a1.15 1.15 0 1 0 2.3 0a1.15 1.15 0 1 0 -2.3 0M292 519.76m-1.15 0a1.15 1.15 0 1 0 2.3 0a1.15 1.15 0 1 0 -2.3 0M308 519.15m-1.15 0a1.15 1.15 0 1 0 2.3 0a1.15 1.15 0 1 0 -2.3 0M288 518.53m-1.15 0a1.15 1.15 0 1 0 2.3 0a1.15 1.15 0 1 0 -2.3 0M312 517.91m-1.15 0a1.15 1.15 0 1 0 2.3 0a1.15 1.15 0 1 0 -2.3 0M300 523.7m-1.15 0a1.15 1.15 0 1 0 2.3 0a1.15 1.15 0 1 0 -2.3 0M297 523.7m-1.15 0a1.15 1.15 0 1 0 2.3 0a1.15 1.15 0 1 0 -2.3 0M303 523.7m-1.15 0a1.15 1.15 0 1 0 2.3 0a1.15 1.15 0 1 0 -2.3 0M294 523.7m-1.15 0a1.15 1.15 0 1 0 2.3 0a1.15 1.15 0 1 0 -2.3 0M306 523.47m-1.15 0a1.15 1.15 0 1 0 2.3 0a1.15 1.15 0 1 0 -2.3 0M309 523.47m-1.15 0a1.15 1.15 0 1 0 2.3 0a1.15 1.15 0 1 0 -2.3 0M291 522.85m-1.15 0a1.15 1.15 0 1 0 2.3 0a1.15 1.15 0 1 0 -2.3 0M312 522.85m-1.15 0a1.15 1.15 0 1 0 2.3 0a1.15 1.15 0 1 0 -2.3 0M288 522.23m-1.15 0a1.15 1.15 0 1 0 2.3 0a1.15 1.15 0 1 0 -2.3 0" fill="#08478a"/>
<line x1="248" y1="495.5" x2="273" y2="495.5" stroke="#262626" stroke-width="1.15"/>
<line x1="260.5" y1="484.5" x2="260.5" y2="507.5" stroke="#262626" stroke-width="1.15"/>
<line x1="254" y1="484.5" x2="267" y2="484.5" stroke="#262626" stroke-width="1.15"/>
<line x1="254" y1="507.5" x2="267" y2="507.5" stroke="#262626" stroke-width="1.15"/>
<line x1="288" y1="514.5" x2="313" y2="514.5" stroke="#262626" stroke-width="1.15"/>
<line x1="300.5" y1="503.5" x2="300.5" y2="524.7" stroke="#262626" stroke-width="1.15"/>
<line x1="294" y1="503.5" x2="307" y2="503.5" stroke="#262626" stroke-width="1.15"/>
<path d="M260.7 470.6V467.3H300V470.6" fill="none" stroke="#2a2a2a" stroke-width="1.1"/>
<path d="M275.4 463.9m-1.1 0a1.1 1.1 0 1 0 2.2 0a1.1 1.1 0 1 0 -2.2 0M278.7 463.9m-1.1 0a1.1 1.1 0 1 0 2.2 0a1.1 1.1 0 1 0 -2.2 0M282 463.9m-1.1 0a1.1 1.1 0 1 0 2.2 0a1.1 1.1 0 1 0 -2.2 0M285.3 463.9m-1.1 0a1.1 1.1 0 1 0 2.2 0a1.1 1.1 0 1 0 -2.2 0" fill="#2a2a2a"/>
<text transform="translate(260.7,536.6) scale(0.912,1)" font-size="8.2" text-anchor="middle" fill="#1e1e1e" stroke="#1e1e1e" stroke-width="0.22">HD</text>
<text transform="translate(300,536.6) scale(0.804,1)" font-size="8.2" text-anchor="middle" fill="#1e1e1e" stroke="#1e1e1e" stroke-width="0.22">SS</text>
<line x1="421.5" y1="461.2" x2="421.5" y2="525.2" stroke="#1e1e1e" stroke-width="1"/>
<line x1="418.2" y1="524.7" x2="421.5" y2="524.7" stroke="#1e1e1e" stroke-width="1"/>
<text transform="translate(414.6,527.83) scale(0.860,1)" font-size="8.7" text-anchor="end" fill="#1e1e1e" stroke="#1e1e1e" stroke-width="0.22">0</text>
<line x1="418.2" y1="512.36" x2="421.5" y2="512.36" stroke="#1e1e1e" stroke-width="1"/>
<text transform="translate(414.6,515.49) scale(0.860,1)" font-size="8.7" text-anchor="end" fill="#1e1e1e" stroke="#1e1e1e" stroke-width="0.22">20</text>
<line x1="418.2" y1="500.02" x2="421.5" y2="500.02" stroke="#1e1e1e" stroke-width="1"/>
<text transform="translate(414.6,503.15) scale(0.860,1)" font-size="8.7" text-anchor="end" fill="#1e1e1e" stroke="#1e1e1e" stroke-width="0.22">40</text>
<line x1="418.2" y1="487.68" x2="421.5" y2="487.68" stroke="#1e1e1e" stroke-width="1"/>
<text transform="translate(414.6,490.81) scale(0.860,1)" font-size="8.7" text-anchor="end" fill="#1e1e1e" stroke="#1e1e1e" stroke-width="0.22">60</text>
<line x1="418.2" y1="475.34" x2="421.5" y2="475.34" stroke="#1e1e1e" stroke-width="1"/>
<text transform="translate(414.6,478.47) scale(0.860,1)" font-size="8.7" text-anchor="end" fill="#1e1e1e" stroke="#1e1e1e" stroke-width="0.22">80</text>
<line x1="418.2" y1="463" x2="421.5" y2="463" stroke="#1e1e1e" stroke-width="1"/>
<text transform="translate(414.6,466.13) scale(0.860,1)" font-size="8.7" text-anchor="end" fill="#1e1e1e" stroke="#1e1e1e" stroke-width="0.22">100</text>
<line x1="421.5" y1="524.7" x2="513.3" y2="524.7" stroke="#1e1e1e" stroke-width="1.3"/>
<line x1="447.5" y1="524.7" x2="447.5" y2="527.3" stroke="#1e1e1e" stroke-width="0.9"/>
<line x1="486.7" y1="524.7" x2="486.7" y2="527.3" stroke="#1e1e1e" stroke-width="0.9"/>
<path d="M447.5 507.05m-1.15 0a1.15 1.15 0 1 0 2.3 0a1.15 1.15 0 1 0 -2.3 0M447.5 523.56m-1.15 0a1.15 1.15 0 1 0 2.3 0a1.15 1.15 0 1 0 -2.3 0M444.5 523.52m-1.15 0a1.15 1.15 0 1 0 2.3 0a1.15 1.15 0 1 0 -2.3 0M450.5 523.49m-1.15 0a1.15 1.15 0 1 0 2.3 0a1.15 1.15 0 1 0 -2.3 0M453.5 523.47m-1.15 0a1.15 1.15 0 1 0 2.3 0a1.15 1.15 0 1 0 -2.3 0M441.5 523.18m-1.15 0a1.15 1.15 0 1 0 2.3 0a1.15 1.15 0 1 0 -2.3 0M456.5 523.04m-1.15 0a1.15 1.15 0 1 0 2.3 0a1.15 1.15 0 1 0 -2.3 0M438.5 522.88m-1.15 0a1.15 1.15 0 1 0 2.3 0a1.15 1.15 0 1 0 -2.3 0M459.5 522.23m-1.15 0a1.15 1.15 0 1 0 2.3 0a1.15 1.15 0 1 0 -2.3 0M435.5 519.76m-1.15 0a1.15 1.15 0 1 0 2.3 0a1.15 1.15 0 1 0 -2.3 0M447.5 523.7m-1.15 0a1.15 1.15 0 1 0 2.3 0a1.15 1.15 0 1 0 -2.3 0M445.79 523.7m-1.15 0a1.15 1.15 0 1 0 2.3 0a1.15 1.15 0 1 0 -2.3 0M449.21 523.7m-1.15 0a1.15 1.15 0 1 0 2.3 0a1.15 1.15 0 1 0 -2.3 0M450.93 523.7m-1.15 0a1.15 1.15 0 1 0 2.3 0a1.15 1.15 0 1 0 -2.3 0M444.07 523.7m-1.15 0a1.15 1.15 0 1 0 2.3 0a1.15 1.15 0 1 0 -2.3 0M452.64 523.7m-1.15 0a1.15 1.15 0 1 0 2.3 0a1.15 1.15 0 1 0 -2.3 0M442.36 523.7m-1.15 0a1.15 1.15 0 1 0 2.3 0a1.15 1.15 0 1 0 -2.3 0M440.64 523.7m-1.15 0a1.15 1.15 0 1 0 2.3 0a1.15 1.15 0 1 0 -2.3 0M454.36 523.7m-1.15 0a1.15 1.15 0 1 0 2.3 0a1.15 1.15 0 1 0 -2.3 0M456.07 523.7m-1.15 0a1.15 1.15 0 1 0 2.3 0a1.15 1.15 0 1 0 -2.3 0M438.93 523.7m-1.15 0a1.15 1.15 0 1 0 2.3 0a1.15 1.15 0 1 0 -2.3 0M437.21 523.7m-1.15 0a1.15 1.15 0 1 0 2.3 0a1.15 1.15 0 1 0 -2.3 0M457.79 523.7m-1.15 0a1.15 1.15 0 1 0 2.3 0a1.15 1.15 0 1 0 -2.3 0M435.5 523.7m-1.15 0a1.15 1.15 0 1 0 2.3 0a1.15 1.15 0 1 0 -2.3 0M459.5 523.62m-1.15 0a1.15 1.15 0 1 0 2.3 0a1.15 1.15 0 1 0 -2.3 0" fill="#cc0a26"/>
<path d="M486.7 474.72m-1.15 0a1.15 1.15 0 1 0 2.3 0a1.15 1.15 0 1 0 -2.3 0M488.8 488.3m-1.15 0a1.15 1.15 0 1 0 2.3 0a1.15 1.15 0 1 0 -2.3 0M484.6 484.6m-1.15 0a1.15 1.15 0 1 0 2.3 0a1.15 1.15 0 1 0 -2.3 0M486.7 500.64m-1.15 0a1.15 1.15 0 1 0 2.3 0a1.15 1.15 0 1 0 -2.3 0M486.7 510.51m-1.15 0a1.15 1.15 0 1 0 2.3 0a1.15 1.15 0 1 0 -2.3 0M486.7 519.76m-1.15 0a1.15 1.15 0 1 0 2.3 0a1.15 1.15 0 1 0 -2.3 0M482.5 519.76m-1.15 0a1.15 1.15 0 1 0 2.3 0a1.15 1.15 0 1 0 -2.3 0M490.9 516.68m-1.15 0a1.15 1.15 0 1 0 2.3 0a1.15 1.15 0 1 0 -2.3 0M487.5 523.7m-1.15 0a1.15 1.15 0 1 0 2.3 0a1.15 1.15 0 1 0 -2.3 0M485.9 523.7m-1.15 0a1.15 1.15 0 1 0 2.3 0a1.15 1.15 0 1 0 -2.3 0M484.3 523.7m-1.15 0a1.15 1.15 0 1 0 2.3 0a1.15 1.15 0 1 0 -2.3 0M489.1 523.7m-1.15 0a1.15 1.15 0 1 0 2.3 0a1.15 1.15 0 1 0 -2.3 0M482.7 523.7m-1.15 0a1.15 1.15 0 1 0 2.3 0a1.15 1.15 0 1 0 -2.3 0M490.7 523.7m-1.15 0a1.15 1.15 0 1 0 2.3 0a1.15 1.15 0 1 0 -2.3 0M481.1 523.7m-1.15 0a1.15 1.15 0 1 0 2.3 0a1.15 1.15 0 1 0 -2.3 0M492.3 523.7m-1.15 0a1.15 1.15 0 1 0 2.3 0a1.15 1.15 0 1 0 -2.3 0M493.9 523.41m-1.15 0a1.15 1.15 0 1 0 2.3 0a1.15 1.15 0 1 0 -2.3 0M479.5 523.38m-1.15 0a1.15 1.15 0 1 0 2.3 0a1.15 1.15 0 1 0 -2.3 0M477.9 523.33m-1.15 0a1.15 1.15 0 1 0 2.3 0a1.15 1.15 0 1 0 -2.3 0M495.5 523.32m-1.15 0a1.15 1.15 0 1 0 2.3 0a1.15 1.15 0 1 0 -2.3 0M476.3 523.31m-1.15 0a1.15 1.15 0 1 0 2.3 0a1.15 1.15 0 1 0 -2.3 0M497.1 523.14m-1.15 0a1.15 1.15 0 1 0 2.3 0a1.15 1.15 0 1 0 -2.3 0M498.7 522.23m-1.15 0a1.15 1.15 0 1 0 2.3 0a1.15 1.15 0 1 0 -2.3 0M474.7 521.62m-1.15 0a1.15 1.15 0 1 0 2.3 0a1.15 1.15 0 1 0 -2.3 0" fill="#08478a"/>
<line x1="435" y1="523.5" x2="460" y2="523.5" stroke="#262626" stroke-width="1.15"/>
<line x1="447.5" y1="520.5" x2="447.5" y2="524.7" stroke="#262626" stroke-width="1.15"/>
<line x1="441" y1="520.5" x2="454" y2="520.5" stroke="#262626" stroke-width="1.15"/>
<line x1="474" y1="518.5" x2="499" y2="518.5" stroke="#262626" stroke-width="1.15"/>
<line x1="486.5" y1="505.5" x2="486.5" y2="524.7" stroke="#262626" stroke-width="1.15"/>
<line x1="480" y1="505.5" x2="493" y2="505.5" stroke="#262626" stroke-width="1.15"/>
<path d="M447.5 471V467.7H486.7V471" fill="none" stroke="#2a2a2a" stroke-width="1.1"/>
<path d="M467.1 464.4m-1.1 0a1.1 1.1 0 1 0 2.2 0a1.1 1.1 0 1 0 -2.2 0" fill="#2a2a2a"/>
<text transform="translate(447.5,536.6) scale(0.912,1)" font-size="8.2" text-anchor="middle" fill="#1e1e1e" stroke="#1e1e1e" stroke-width="0.22">HD</text>
<text transform="translate(486.7,536.6) scale(0.804,1)" font-size="8.2" text-anchor="middle" fill="#1e1e1e" stroke="#1e1e1e" stroke-width="0.22">SS</text>
<line x1="59.7" y1="542.8" x2="59.7" y2="606.5" stroke="#1e1e1e" stroke-width="1"/>
<line x1="56.4" y1="606" x2="59.7" y2="606" stroke="#1e1e1e" stroke-width="1"/>
<text transform="translate(52.8,609.13) scale(0.860,1)" font-size="8.7" text-anchor="end" fill="#1e1e1e" stroke="#1e1e1e" stroke-width="0.22">0</text>
<line x1="56.4" y1="593.72" x2="59.7" y2="593.72" stroke="#1e1e1e" stroke-width="1"/>
<text transform="translate(52.8,596.85) scale(0.860,1)" font-size="8.7" text-anchor="end" fill="#1e1e1e" stroke="#1e1e1e" stroke-width="0.22">20</text>
<line x1="56.4" y1="581.44" x2="59.7" y2="581.44" stroke="#1e1e1e" stroke-width="1"/>
<text transform="translate(52.8,584.57) scale(0.860,1)" font-size="8.7" text-anchor="end" fill="#1e1e1e" stroke="#1e1e1e" stroke-width="0.22">40</text>
<line x1="56.4" y1="569.16" x2="59.7" y2="569.16" stroke="#1e1e1e" stroke-width="1"/>
<text transform="translate(52.8,572.29) scale(0.860,1)" font-size="8.7" text-anchor="end" fill="#1e1e1e" stroke="#1e1e1e" stroke-width="0.22">60</text>
<line x1="56.4" y1="556.88" x2="59.7" y2="556.88" stroke="#1e1e1e" stroke-width="1"/>
<text transform="translate(52.8,560.01) scale(0.860,1)" font-size="8.7" text-anchor="end" fill="#1e1e1e" stroke="#1e1e1e" stroke-width="0.22">80</text>
<line x1="56.4" y1="544.6" x2="59.7" y2="544.6" stroke="#1e1e1e" stroke-width="1"/>
<text transform="translate(52.8,547.73) scale(0.860,1)" font-size="8.7" text-anchor="end" fill="#1e1e1e" stroke="#1e1e1e" stroke-width="0.22">100</text>
<line x1="59.7" y1="606" x2="150.4" y2="606" stroke="#1e1e1e" stroke-width="1.3"/>
<line x1="85.2" y1="606" x2="85.2" y2="608.6" stroke="#1e1e1e" stroke-width="0.9"/>
<line x1="124.6" y1="606" x2="124.6" y2="608.6" stroke="#1e1e1e" stroke-width="0.9"/>
<path d="M85.2 585.43m-1.15 0a1.15 1.15 0 1 0 2.3 0a1.15 1.15 0 1 0 -2.3 0M85.2 601.81m-1.15 0a1.15 1.15 0 1 0 2.3 0a1.15 1.15 0 1 0 -2.3 0M82.8 601.12m-1.15 0a1.15 1.15 0 1 0 2.3 0a1.15 1.15 0 1 0 -2.3 0M87.6 600.42m-1.15 0a1.15 1.15 0 1 0 2.3 0a1.15 1.15 0 1 0 -2.3 0M90 600.41m-1.15 0a1.15 1.15 0 1 0 2.3 0a1.15 1.15 0 1 0 -2.3 0M80.4 600.27m-1.15 0a1.15 1.15 0 1 0 2.3 0a1.15 1.15 0 1 0 -2.3 0M78 600.19m-1.15 0a1.15 1.15 0 1 0 2.3 0a1.15 1.15 0 1 0 -2.3 0M92.4 600.12m-1.15 0a1.15 1.15 0 1 0 2.3 0a1.15 1.15 0 1 0 -2.3 0M94.8 600.03m-1.15 0a1.15 1.15 0 1 0 2.3 0a1.15 1.15 0 1 0 -2.3 0M75.6 599.86m-1.15 0a1.15 1.15 0 1 0 2.3 0a1.15 1.15 0 1 0 -2.3 0M97.2 599.25m-1.15 0a1.15 1.15 0 1 0 2.3 0a1.15 1.15 0 1 0 -2.3 0M73.2 598.63m-1.15 0a1.15 1.15 0 1 0 2.3 0a1.15 1.15 0 1 0 -2.3 0M84.76 605m-1.15 0a1.15 1.15 0 1 0 2.3 0a1.15 1.15 0 1 0 -2.3 0M85.64 605m-1.15 0a1.15 1.15 0 1 0 2.3 0a1.15 1.15 0 1 0 -2.3 0M86.53 605m-1.15 0a1.15 1.15 0 1 0 2.3 0a1.15 1.15 0 1 0 -2.3 0M83.87 605m-1.15 0a1.15 1.15 0 1 0 2.3 0a1.15 1.15 0 1 0 -2.3 0M82.98 605m-1.15 0a1.15 1.15 0 1 0 2.3 0a1.15 1.15 0 1 0 -2.3 0M87.42 605m-1.15 0a1.15 1.15 0 1 0 2.3 0a1.15 1.15 0 1 0 -2.3 0M88.31 605m-1.15 0a1.15 1.15 0 1 0 2.3 0a1.15 1.15 0 1 0 -2.3 0M82.09 605m-1.15 0a1.15 1.15 0 1 0 2.3 0a1.15 1.15 0 1 0 -2.3 0M81.2 605m-1.15 0a1.15 1.15 0 1 0 2.3 0a1.15 1.15 0 1 0 -2.3 0M89.2 605m-1.15 0a1.15 1.15 0 1 0 2.3 0a1.15 1.15 0 1 0 -2.3 0M90.09 604.95m-1.15 0a1.15 1.15 0 1 0 2.3 0a1.15 1.15 0 1 0 -2.3 0M80.31 604.82m-1.15 0a1.15 1.15 0 1 0 2.3 0a1.15 1.15 0 1 0 -2.3 0M90.98 604.71m-1.15 0a1.15 1.15 0 1 0 2.3 0a1.15 1.15 0 1 0 -2.3 0M79.42 604.59m-1.15 0a1.15 1.15 0 1 0 2.3 0a1.15 1.15 0 1 0 -2.3 0M78.53 604.59m-1.15 0a1.15 1.15 0 1 0 2.3 0a1.15 1.15 0 1 0 -2.3 0M91.87 604.57m-1.15 0a1.15 1.15 0 1 0 2.3 0a1.15 1.15 0 1 0 -2.3 0M77.64 604.57m-1.15 0a1.15 1.15 0 1 0 2.3 0a1.15 1.15 0 1 0 -2.3 0M92.76 604.39m-1.15 0a1.15 1.15 0 1 0 2.3 0a1.15 1.15 0 1 0 -2.3 0M93.64 604.39m-1.15 0a1.15 1.15 0 1 0 2.3 0a1.15 1.15 0 1 0 -2.3 0M76.76 604.24m-1.15 0a1.15 1.15 0 1 0 2.3 0a1.15 1.15 0 1 0 -2.3 0M75.87 603.61m-1.15 0a1.15 1.15 0 1 0 2.3 0a1.15 1.15 0 1 0 -2.3 0M94.53 603.6m-1.15 0a1.15 1.15 0 1 0 2.3 0a1.15 1.15 0 1 0 -2.3 0M74.98 603.38m-1.15 0a1.15 1.15 0 1 0 2.3 0a1.15 1.15 0 1 0 -2.3 0M95.42 603.28m-1.15 0a1.15 1.15 0 1 0 2.3 0a1.15 1.15 0 1 0 -2.3 0M96.31 603.25m-1.15 0a1.15 1.15 0 1 0 2.3 0a1.15 1.15 0 1 0 -2.3 0M74.09 603.21m-1.15 0a1.15 1.15 0 1 0 2.3 0a1.15 1.15 0 1 0 -2.3 0M73.2 602.73m-1.15 0a1.15 1.15 0 1 0 2.3 0a1.15 1.15 0 1 0 -2.3 0M97.2 602.73m-1.15 0a1.15 1.15 0 1 0 2.3 0a1.15 1.15 0 1 0 -2.3 0" fill="#cc0a26"/>
<path d="M124.6 553.81m-1.15 0a1.15 1.15 0 1 0 2.3 0a1.15 1.15 0 1 0 -2.3 0M124.6 558.11m-1.15 0a1.15 1.15 0 1 0 2.3 0a1.15 1.15 0 1 0 -2.3 0M124.6 563.02m-1.15 0a1.15 1.15 0 1 0 2.3 0a1.15 1.15 0 1 0 -2.3 0M122.5 568.55m-1.15 0a1.15 1.15 0 1 0 2.3 0a1.15 1.15 0 1 0 -2.3 0M126.7 568.55m-1.15 0a1.15 1.15 0 1 0 2.3 0a1.15 1.15 0 1 0 -2.3 0M124.6 572.84m-1.15 0a1.15 1.15 0 1 0 2.3 0a1.15 1.15 0 1 0 -2.3 0M124.6 582.67m-1.15 0a1.15 1.15 0 1 0 2.3 0a1.15 1.15 0 1 0 -2.3 0M128.8 582.67m-1.15 0a1.15 1.15 0 1 0 2.3 0a1.15 1.15 0 1 0 -2.3 0M120.4 580.21m-1.15 0a1.15 1.15 0 1 0 2.3 0a1.15 1.15 0 1 0 -2.3 0M126.7 590.65m-1.15 0a1.15 1.15 0 1 0 2.3 0a1.15 1.15 0 1 0 -2.3 0M122.5 586.97m-1.15 0a1.15 1.15 0 1 0 2.3 0a1.15 1.15 0 1 0 -2.3 0M118.3 586.97m-1.15 0a1.15 1.15 0 1 0 2.3 0a1.15 1.15 0 1 0 -2.3 0M130.9 586.97m-1.15 0a1.15 1.15 0 1 0 2.3 0a1.15 1.15 0 1 0 -2.3 0M122.5 596.18m-1.15 0a1.15 1.15 0 1 0 2.3 0a1.15 1.15 0 1 0 -2.3 0M126.7 594.95m-1.15 0a1.15 1.15 0 1 0 2.3 0a1.15 1.15 0 1 0 -2.3 0M118.3 593.72m-1.15 0a1.15 1.15 0 1 0 2.3 0a1.15 1.15 0 1 0 -2.3 0M130.9 592.49m-1.15 0a1.15 1.15 0 1 0 2.3 0a1.15 1.15 0 1 0 -2.3 0M126.7 599.86m-1.15 0a1.15 1.15 0 1 0 2.3 0a1.15 1.15 0 1 0 -2.3 0M122.5 598.63m-1.15 0a1.15 1.15 0 1 0 2.3 0a1.15 1.15 0 1 0 -2.3 0M130.9 598.02m-1.15 0a1.15 1.15 0 1 0 2.3 0a1.15 1.15 0 1 0 -2.3 0M118.3 596.79m-1.15 0a1.15 1.15 0 1 0 2.3 0a1.15 1.15 0 1 0 -2.3 0M124.6 604.77m-1.15 0a1.15 1.15 0 1 0 2.3 0a1.15 1.15 0 1 0 -2.3 0M120.6 604.77m-1.15 0a1.15 1.15 0 1 0 2.3 0a1.15 1.15 0 1 0 -2.3 0M128.6 604.16m-1.15 0a1.15 1.15 0 1 0 2.3 0a1.15 1.15 0 1 0 -2.3 0M116.6 603.54m-1.15 0a1.15 1.15 0 1 0 2.3 0a1.15 1.15 0 1 0 -2.3 0M132.6 602.93m-1.15 0a1.15 1.15 0 1 0 2.3 0a1.15 1.15 0 1 0 -2.3 0M112.6 601.7m-1.15 0a1.15 1.15 0 1 0 2.3 0a1.15 1.15 0 1 0 -2.3 0M136.6 601.09m-1.15 0a1.15 1.15 0 1 0 2.3 0a1.15 1.15 0 1 0 -2.3 0M122.5 605m-1.15 0a1.15 1.15 0 1 0 2.3 0a1.15 1.15 0 1 0 -2.3 0M126.7 605m-1.15 0a1.15 1.15 0 1 0 2.3 0a1.15 1.15 0 1 0 -2.3 0" fill="#08478a"/>
<line x1="73" y1="602.5" x2="98" y2="602.5" stroke="#262626" stroke-width="1.15"/>
<line x1="85.5" y1="599.5" x2="85.5" y2="604.5" stroke="#262626" stroke-width="1.15"/>
<line x1="79" y1="599.5" x2="92" y2="599.5" stroke="#262626" stroke-width="1.15"/>
<line x1="79" y1="604.5" x2="92" y2="604.5" stroke="#262626" stroke-width="1.15"/>
<line x1="112" y1="590.5" x2="137" y2="590.5" stroke="#262626" stroke-width="1.15"/>
<line x1="124.5" y1="590.5" x2="124.5" y2="590.5" stroke="#262626" stroke-width="1.15"/>
<line x1="118" y1="590.5" x2="131" y2="590.5" stroke="#262626" stroke-width="1.15"/>
<line x1="118" y1="590.5" x2="131" y2="590.5" stroke="#262626" stroke-width="1.15"/>
<path d="M85.2 551.7V548.4H124.6V551.7" fill="none" stroke="#2a2a2a" stroke-width="1.1"/>
<path d="M99.95 544.8m-1.1 0a1.1 1.1 0 1 0 2.2 0a1.1 1.1 0 1 0 -2.2 0M103.25 544.8m-1.1 0a1.1 1.1 0 1 0 2.2 0a1.1 1.1 0 1 0 -2.2 0M106.55 544.8m-1.1 0a1.1 1.1 0 1 0 2.2 0a1.1 1.1 0 1 0 -2.2 0M109.85 544.8m-1.1 0a1.1 1.1 0 1 0 2.2 0a1.1 1.1 0 1 0 -2.2 0" fill="#2a2a2a"/>
<text transform="translate(85.2,617.6) scale(0.912,1)" font-size="8.2" text-anchor="middle" fill="#1e1e1e" stroke="#1e1e1e" stroke-width="0.22">HD</text>
<text transform="translate(124.6,617.6) scale(0.804,1)" font-size="8.2" text-anchor="middle" fill="#1e1e1e" stroke="#1e1e1e" stroke-width="0.22">SS</text>
<line x1="234.5" y1="543" x2="234.5" y2="606.4" stroke="#1e1e1e" stroke-width="1"/>
<line x1="231.2" y1="605.9" x2="234.5" y2="605.9" stroke="#1e1e1e" stroke-width="1"/>
<text transform="translate(227.6,609.03) scale(0.860,1)" font-size="8.7" text-anchor="end" fill="#1e1e1e" stroke="#1e1e1e" stroke-width="0.22">0</text>
<line x1="231.2" y1="590.62" x2="234.5" y2="590.62" stroke="#1e1e1e" stroke-width="1"/>
<text transform="translate(227.6,593.76) scale(0.860,1)" font-size="8.7" text-anchor="end" fill="#1e1e1e" stroke="#1e1e1e" stroke-width="0.22">5</text>
<line x1="231.2" y1="575.35" x2="234.5" y2="575.35" stroke="#1e1e1e" stroke-width="1"/>
<text transform="translate(227.6,578.48) scale(0.860,1)" font-size="8.7" text-anchor="end" fill="#1e1e1e" stroke="#1e1e1e" stroke-width="0.22">10</text>
<line x1="231.2" y1="560.07" x2="234.5" y2="560.07" stroke="#1e1e1e" stroke-width="1"/>
<text transform="translate(227.6,563.21) scale(0.860,1)" font-size="8.7" text-anchor="end" fill="#1e1e1e" stroke="#1e1e1e" stroke-width="0.22">15</text>
<line x1="231.2" y1="544.8" x2="234.5" y2="544.8" stroke="#1e1e1e" stroke-width="1"/>
<text transform="translate(227.6,547.93) scale(0.860,1)" font-size="8.7" text-anchor="end" fill="#1e1e1e" stroke="#1e1e1e" stroke-width="0.22">20</text>
<line x1="234.5" y1="605.9" x2="325.6" y2="605.9" stroke="#1e1e1e" stroke-width="1.3"/>
<line x1="260.6" y1="605.9" x2="260.6" y2="608.5" stroke="#1e1e1e" stroke-width="0.9"/>
<line x1="299.1" y1="605.9" x2="299.1" y2="608.5" stroke="#1e1e1e" stroke-width="0.9"/>
<path d="M260.6 581.15m-1.15 0a1.15 1.15 0 1 0 2.3 0a1.15 1.15 0 1 0 -2.3 0M260.6 599.52m-1.15 0a1.15 1.15 0 1 0 2.3 0a1.15 1.15 0 1 0 -2.3 0M256.6 599.3m-1.15 0a1.15 1.15 0 1 0 2.3 0a1.15 1.15 0 1 0 -2.3 0M264.6 598.77m-1.15 0a1.15 1.15 0 1 0 2.3 0a1.15 1.15 0 1 0 -2.3 0M268.6 598.65m-1.15 0a1.15 1.15 0 1 0 2.3 0a1.15 1.15 0 1 0 -2.3 0M252.6 598.26m-1.15 0a1.15 1.15 0 1 0 2.3 0a1.15 1.15 0 1 0 -2.3 0M272.6 596.74m-1.15 0a1.15 1.15 0 1 0 2.3 0a1.15 1.15 0 1 0 -2.3 0M248.6 595.82m-1.15 0a1.15 1.15 0 1 0 2.3 0a1.15 1.15 0 1 0 -2.3 0M260.6 603.5m-1.15 0a1.15 1.15 0 1 0 2.3 0a1.15 1.15 0 1 0 -2.3 0M259.27 603.41m-1.15 0a1.15 1.15 0 1 0 2.3 0a1.15 1.15 0 1 0 -2.3 0M261.93 603.37m-1.15 0a1.15 1.15 0 1 0 2.3 0a1.15 1.15 0 1 0 -2.3 0M257.93 603.12m-1.15 0a1.15 1.15 0 1 0 2.3 0a1.15 1.15 0 1 0 -2.3 0M263.27 603.1m-1.15 0a1.15 1.15 0 1 0 2.3 0a1.15 1.15 0 1 0 -2.3 0M264.6 602.81m-1.15 0a1.15 1.15 0 1 0 2.3 0a1.15 1.15 0 1 0 -2.3 0M256.6 602.7m-1.15 0a1.15 1.15 0 1 0 2.3 0a1.15 1.15 0 1 0 -2.3 0M265.93 602.51m-1.15 0a1.15 1.15 0 1 0 2.3 0a1.15 1.15 0 1 0 -2.3 0M255.27 602.35m-1.15 0a1.15 1.15 0 1 0 2.3 0a1.15 1.15 0 1 0 -2.3 0M267.27 602.06m-1.15 0a1.15 1.15 0 1 0 2.3 0a1.15 1.15 0 1 0 -2.3 0M253.93 601.97m-1.15 0a1.15 1.15 0 1 0 2.3 0a1.15 1.15 0 1 0 -2.3 0M268.6 601.8m-1.15 0a1.15 1.15 0 1 0 2.3 0a1.15 1.15 0 1 0 -2.3 0M252.6 601.59m-1.15 0a1.15 1.15 0 1 0 2.3 0a1.15 1.15 0 1 0 -2.3 0M269.93 601.39m-1.15 0a1.15 1.15 0 1 0 2.3 0a1.15 1.15 0 1 0 -2.3 0M251.27 600.28m-1.15 0a1.15 1.15 0 1 0 2.3 0a1.15 1.15 0 1 0 -2.3 0M249.93 600.18m-1.15 0a1.15 1.15 0 1 0 2.3 0a1.15 1.15 0 1 0 -2.3 0M271.27 600.11m-1.15 0a1.15 1.15 0 1 0 2.3 0a1.15 1.15 0 1 0 -2.3 0M272.6 600.1m-1.15 0a1.15 1.15 0 1 0 2.3 0a1.15 1.15 0 1 0 -2.3 0M248.6 600m-1.15 0a1.15 1.15 0 1 0 2.3 0a1.15 1.15 0 1 0 -2.3 0M260.6 604.9m-1.15 0a1.15 1.15 0 1 0 2.3 0a1.15 1.15 0 1 0 -2.3 0M258.2 604.9m-1.15 0a1.15 1.15 0 1 0 2.3 0a1.15 1.15 0 1 0 -2.3 0M263 604.9m-1.15 0a1.15 1.15 0 1 0 2.3 0a1.15 1.15 0 1 0 -2.3 0M255.8 604.9m-1.15 0a1.15 1.15 0 1 0 2.3 0a1.15 1.15 0 1 0 -2.3 0M265.4 604.9m-1.15 0a1.15 1.15 0 1 0 2.3 0a1.15 1.15 0 1 0 -2.3 0M253.4 604.9m-1.15 0a1.15 1.15 0 1 0 2.3 0a1.15 1.15 0 1 0 -2.3 0M267.8 604.9m-1.15 0a1.15 1.15 0 1 0 2.3 0a1.15 1.15 0 1 0 -2.3 0M251 604.83m-1.15 0a1.15 1.15 0 1 0 2.3 0a1.15 1.15 0 1 0 -2.3 0M270.2 604.23m-1.15 0a1.15 1.15 0 1 0 2.3 0a1.15 1.15 0 1 0 -2.3 0M272.6 604.07m-1.15 0a1.15 1.15 0 1 0 2.3 0a1.15 1.15 0 1 0 -2.3 0M248.6 603.86m-1.15 0a1.15 1.15 0 1 0 2.3 0a1.15 1.15 0 1 0 -2.3 0" fill="#cc0a26"/>
<path d="M299.1 582.07m-1.15 0a1.15 1.15 0 1 0 2.3 0a1.15 1.15 0 1 0 -2.3 0M294.9 580.85m-1.15 0a1.15 1.15 0 1 0 2.3 0a1.15 1.15 0 1 0 -2.3 0M303.3 579.32m-1.15 0a1.15 1.15 0 1 0 2.3 0a1.15 1.15 0 1 0 -2.3 0M301.2 587.57m-1.15 0a1.15 1.15 0 1 0 2.3 0a1.15 1.15 0 1 0 -2.3 0M297 584.51m-1.15 0a1.15 1.15 0 1 0 2.3 0a1.15 1.15 0 1 0 -2.3 0M297 592.15m-1.15 0a1.15 1.15 0 1 0 2.3 0a1.15 1.15 0 1 0 -2.3 0M301.2 591.24m-1.15 0a1.15 1.15 0 1 0 2.3 0a1.15 1.15 0 1 0 -2.3 0M292.8 590.01m-1.15 0a1.15 1.15 0 1 0 2.3 0a1.15 1.15 0 1 0 -2.3 0M305.4 589.1m-1.15 0a1.15 1.15 0 1 0 2.3 0a1.15 1.15 0 1 0 -2.3 0M299.1 596.74m-1.15 0a1.15 1.15 0 1 0 2.3 0a1.15 1.15 0 1 0 -2.3 0M303.3 596.12m-1.15 0a1.15 1.15 0 1 0 2.3 0a1.15 1.15 0 1 0 -2.3 0M294.9 595.21m-1.15 0a1.15 1.15 0 1 0 2.3 0a1.15 1.15 0 1 0 -2.3 0M290.7 594.29m-1.15 0a1.15 1.15 0 1 0 2.3 0a1.15 1.15 0 1 0 -2.3 0M307.5 593.07m-1.15 0a1.15 1.15 0 1 0 2.3 0a1.15 1.15 0 1 0 -2.3 0M299.1 601.01m-1.15 0a1.15 1.15 0 1 0 2.3 0a1.15 1.15 0 1 0 -2.3 0M295.1 600.4m-1.15 0a1.15 1.15 0 1 0 2.3 0a1.15 1.15 0 1 0 -2.3 0M303.1 599.79m-1.15 0a1.15 1.15 0 1 0 2.3 0a1.15 1.15 0 1 0 -2.3 0M307.1 599.18m-1.15 0a1.15 1.15 0 1 0 2.3 0a1.15 1.15 0 1 0 -2.3 0M291.1 598.57m-1.15 0a1.15 1.15 0 1 0 2.3 0a1.15 1.15 0 1 0 -2.3 0M287.1 597.96m-1.15 0a1.15 1.15 0 1 0 2.3 0a1.15 1.15 0 1 0 -2.3 0M311.1 597.35m-1.15 0a1.15 1.15 0 1 0 2.3 0a1.15 1.15 0 1 0 -2.3 0M299.1 604.9m-1.15 0a1.15 1.15 0 1 0 2.3 0a1.15 1.15 0 1 0 -2.3 0M296.7 604.9m-1.15 0a1.15 1.15 0 1 0 2.3 0a1.15 1.15 0 1 0 -2.3 0M301.5 604.9m-1.15 0a1.15 1.15 0 1 0 2.3 0a1.15 1.15 0 1 0 -2.3 0M303.9 604.68m-1.15 0a1.15 1.15 0 1 0 2.3 0a1.15 1.15 0 1 0 -2.3 0M294.3 604.37m-1.15 0a1.15 1.15 0 1 0 2.3 0a1.15 1.15 0 1 0 -2.3 0M291.9 604.07m-1.15 0a1.15 1.15 0 1 0 2.3 0a1.15 1.15 0 1 0 -2.3 0M306.3 603.46m-1.15 0a1.15 1.15 0 1 0 2.3 0a1.15 1.15 0 1 0 -2.3 0M308.7 603.15m-1.15 0a1.15 1.15 0 1 0 2.3 0a1.15 1.15 0 1 0 -2.3 0M289.5 602.85m-1.15 0a1.15 1.15 0 1 0 2.3 0a1.15 1.15 0 1 0 -2.3 0M311.1 602.23m-1.15 0a1.15 1.15 0 1 0 2.3 0a1.15 1.15 0 1 0 -2.3 0M287.1 601.62m-1.15 0a1.15 1.15 0 1 0 2.3 0a1.15 1.15 0 1 0 -2.3 0" fill="#08478a"/>
<line x1="248" y1="600.5" x2="273" y2="600.5" stroke="#262626" stroke-width="1.15"/>
<line x1="260.5" y1="598.5" x2="260.5" y2="602.5" stroke="#262626" stroke-width="1.15"/>
<line x1="254" y1="598.5" x2="267" y2="598.5" stroke="#262626" stroke-width="1.15"/>
<line x1="254" y1="602.5" x2="267" y2="602.5" stroke="#262626" stroke-width="1.15"/>
<line x1="287" y1="597.5" x2="312" y2="597.5" stroke="#262626" stroke-width="1.15"/>
<line x1="299.5" y1="589.5" x2="299.5" y2="604.5" stroke="#262626" stroke-width="1.15"/>
<line x1="293" y1="589.5" x2="306" y2="589.5" stroke="#262626" stroke-width="1.15"/>
<line x1="293" y1="604.5" x2="306" y2="604.5" stroke="#262626" stroke-width="1.15"/>
<path d="M260.6 556.2V552.9H299.1V556.2" fill="none" stroke="#2a2a2a" stroke-width="1.1"/>
<path d="M274.9 548.9m-1.1 0a1.1 1.1 0 1 0 2.2 0a1.1 1.1 0 1 0 -2.2 0M278.2 548.9m-1.1 0a1.1 1.1 0 1 0 2.2 0a1.1 1.1 0 1 0 -2.2 0M281.5 548.9m-1.1 0a1.1 1.1 0 1 0 2.2 0a1.1 1.1 0 1 0 -2.2 0M284.8 548.9m-1.1 0a1.1 1.1 0 1 0 2.2 0a1.1 1.1 0 1 0 -2.2 0" fill="#2a2a2a"/>
<text transform="translate(260.6,617.6) scale(0.912,1)" font-size="8.2" text-anchor="middle" fill="#1e1e1e" stroke="#1e1e1e" stroke-width="0.22">HD</text>
<text transform="translate(299.1,617.6) scale(0.804,1)" font-size="8.2" text-anchor="middle" fill="#1e1e1e" stroke="#1e1e1e" stroke-width="0.22">SS</text>
<line x1="421" y1="542.6" x2="421" y2="606.4" stroke="#1e1e1e" stroke-width="1"/>
<line x1="417.7" y1="605.9" x2="421" y2="605.9" stroke="#1e1e1e" stroke-width="1"/>
<text transform="translate(414.1,609.03) scale(0.860,1)" font-size="8.7" text-anchor="end" fill="#1e1e1e" stroke="#1e1e1e" stroke-width="0.22">0</text>
<line x1="417.7" y1="593.6" x2="421" y2="593.6" stroke="#1e1e1e" stroke-width="1"/>
<text transform="translate(414.1,596.73) scale(0.860,1)" font-size="8.7" text-anchor="end" fill="#1e1e1e" stroke="#1e1e1e" stroke-width="0.22">20</text>
<line x1="417.7" y1="581.3" x2="421" y2="581.3" stroke="#1e1e1e" stroke-width="1"/>
<text transform="translate(414.1,584.43) scale(0.860,1)" font-size="8.7" text-anchor="end" fill="#1e1e1e" stroke="#1e1e1e" stroke-width="0.22">40</text>
<line x1="417.7" y1="569" x2="421" y2="569" stroke="#1e1e1e" stroke-width="1"/>
<text transform="translate(414.1,572.13) scale(0.860,1)" font-size="8.7" text-anchor="end" fill="#1e1e1e" stroke="#1e1e1e" stroke-width="0.22">60</text>
<line x1="417.7" y1="556.7" x2="421" y2="556.7" stroke="#1e1e1e" stroke-width="1"/>
<text transform="translate(414.1,559.83) scale(0.860,1)" font-size="8.7" text-anchor="end" fill="#1e1e1e" stroke="#1e1e1e" stroke-width="0.22">80</text>
<line x1="417.7" y1="544.4" x2="421" y2="544.4" stroke="#1e1e1e" stroke-width="1"/>
<text transform="translate(414.1,547.53) scale(0.860,1)" font-size="8.7" text-anchor="end" fill="#1e1e1e" stroke="#1e1e1e" stroke-width="0.22">100</text>
<line x1="421" y1="605.9" x2="513.4" y2="605.9" stroke="#1e1e1e" stroke-width="1.3"/>
<line x1="447.3" y1="605.9" x2="447.3" y2="608.5" stroke="#1e1e1e" stroke-width="0.9"/>
<line x1="486.2" y1="605.9" x2="486.2" y2="608.5" stroke="#1e1e1e" stroke-width="0.9"/>
<path d="M447.3 599.74m-1.15 0a1.15 1.15 0 1 0 2.3 0a1.15 1.15 0 1 0 -2.3 0M445.3 599.68m-1.15 0a1.15 1.15 0 1 0 2.3 0a1.15 1.15 0 1 0 -2.3 0M449.3 599.66m-1.15 0a1.15 1.15 0 1 0 2.3 0a1.15 1.15 0 1 0 -2.3 0M443.3 599.4m-1.15 0a1.15 1.15 0 1 0 2.3 0a1.15 1.15 0 1 0 -2.3 0M451.3 599.2m-1.15 0a1.15 1.15 0 1 0 2.3 0a1.15 1.15 0 1 0 -2.3 0M453.3 598.74m-1.15 0a1.15 1.15 0 1 0 2.3 0a1.15 1.15 0 1 0 -2.3 0M441.3 598.63m-1.15 0a1.15 1.15 0 1 0 2.3 0a1.15 1.15 0 1 0 -2.3 0M455.3 598.42m-1.15 0a1.15 1.15 0 1 0 2.3 0a1.15 1.15 0 1 0 -2.3 0M439.3 598.12m-1.15 0a1.15 1.15 0 1 0 2.3 0a1.15 1.15 0 1 0 -2.3 0M457.3 598.05m-1.15 0a1.15 1.15 0 1 0 2.3 0a1.15 1.15 0 1 0 -2.3 0M437.3 597.29m-1.15 0a1.15 1.15 0 1 0 2.3 0a1.15 1.15 0 1 0 -2.3 0M459.3 596.67m-1.15 0a1.15 1.15 0 1 0 2.3 0a1.15 1.15 0 1 0 -2.3 0M435.3 596.06m-1.15 0a1.15 1.15 0 1 0 2.3 0a1.15 1.15 0 1 0 -2.3 0M447.3 603.76m-1.15 0a1.15 1.15 0 1 0 2.3 0a1.15 1.15 0 1 0 -2.3 0M446.21 603.63m-1.15 0a1.15 1.15 0 1 0 2.3 0a1.15 1.15 0 1 0 -2.3 0M448.39 603.61m-1.15 0a1.15 1.15 0 1 0 2.3 0a1.15 1.15 0 1 0 -2.3 0M449.48 603.29m-1.15 0a1.15 1.15 0 1 0 2.3 0a1.15 1.15 0 1 0 -2.3 0M445.12 603.06m-1.15 0a1.15 1.15 0 1 0 2.3 0a1.15 1.15 0 1 0 -2.3 0M444.03 602.76m-1.15 0a1.15 1.15 0 1 0 2.3 0a1.15 1.15 0 1 0 -2.3 0M450.57 602.74m-1.15 0a1.15 1.15 0 1 0 2.3 0a1.15 1.15 0 1 0 -2.3 0M442.94 602.65m-1.15 0a1.15 1.15 0 1 0 2.3 0a1.15 1.15 0 1 0 -2.3 0M451.66 602.42m-1.15 0a1.15 1.15 0 1 0 2.3 0a1.15 1.15 0 1 0 -2.3 0M452.75 601.96m-1.15 0a1.15 1.15 0 1 0 2.3 0a1.15 1.15 0 1 0 -2.3 0M441.85 601.69m-1.15 0a1.15 1.15 0 1 0 2.3 0a1.15 1.15 0 1 0 -2.3 0M440.75 601.08m-1.15 0a1.15 1.15 0 1 0 2.3 0a1.15 1.15 0 1 0 -2.3 0M453.85 600.74m-1.15 0a1.15 1.15 0 1 0 2.3 0a1.15 1.15 0 1 0 -2.3 0M454.94 600.71m-1.15 0a1.15 1.15 0 1 0 2.3 0a1.15 1.15 0 1 0 -2.3 0M439.66 600.69m-1.15 0a1.15 1.15 0 1 0 2.3 0a1.15 1.15 0 1 0 -2.3 0M438.57 600.67m-1.15 0a1.15 1.15 0 1 0 2.3 0a1.15 1.15 0 1 0 -2.3 0M456.03 600.59m-1.15 0a1.15 1.15 0 1 0 2.3 0a1.15 1.15 0 1 0 -2.3 0M437.48 600.57m-1.15 0a1.15 1.15 0 1 0 2.3 0a1.15 1.15 0 1 0 -2.3 0M457.12 600.53m-1.15 0a1.15 1.15 0 1 0 2.3 0a1.15 1.15 0 1 0 -2.3 0M458.21 600.5m-1.15 0a1.15 1.15 0 1 0 2.3 0a1.15 1.15 0 1 0 -2.3 0M436.39 600.33m-1.15 0a1.15 1.15 0 1 0 2.3 0a1.15 1.15 0 1 0 -2.3 0M459.3 600.27m-1.15 0a1.15 1.15 0 1 0 2.3 0a1.15 1.15 0 1 0 -2.3 0M435.3 599.97m-1.15 0a1.15 1.15 0 1 0 2.3 0a1.15 1.15 0 1 0 -2.3 0M447.3 604.58m-1.15 0a1.15 1.15 0 1 0 2.3 0a1.15 1.15 0 1 0 -2.3 0M443.1 604.22m-1.15 0a1.15 1.15 0 1 0 2.3 0a1.15 1.15 0 1 0 -2.3 0M451.5 604.04m-1.15 0a1.15 1.15 0 1 0 2.3 0a1.15 1.15 0 1 0 -2.3 0M438.9 603.93m-1.15 0a1.15 1.15 0 1 0 2.3 0a1.15 1.15 0 1 0 -2.3 0M455.7 603.89m-1.15 0a1.15 1.15 0 1 0 2.3 0a1.15 1.15 0 1 0 -2.3 0" fill="#cc0a26"/>
<path d="M486.2 559.16m-1.15 0a1.15 1.15 0 1 0 2.3 0a1.15 1.15 0 1 0 -2.3 0M486.2 574.53m-1.15 0a1.15 1.15 0 1 0 2.3 0a1.15 1.15 0 1 0 -2.3 0M484.1 600.37m-1.15 0a1.15 1.15 0 1 0 2.3 0a1.15 1.15 0 1 0 -2.3 0M488.3 599.75m-1.15 0a1.15 1.15 0 1 0 2.3 0a1.15 1.15 0 1 0 -2.3 0M479.9 598.52m-1.15 0a1.15 1.15 0 1 0 2.3 0a1.15 1.15 0 1 0 -2.3 0M492.5 596.67m-1.15 0a1.15 1.15 0 1 0 2.3 0a1.15 1.15 0 1 0 -2.3 0M486.2 604.46m-1.15 0a1.15 1.15 0 1 0 2.3 0a1.15 1.15 0 1 0 -2.3 0M484.2 604.42m-1.15 0a1.15 1.15 0 1 0 2.3 0a1.15 1.15 0 1 0 -2.3 0M488.2 604.42m-1.15 0a1.15 1.15 0 1 0 2.3 0a1.15 1.15 0 1 0 -2.3 0M490.2 604.22m-1.15 0a1.15 1.15 0 1 0 2.3 0a1.15 1.15 0 1 0 -2.3 0M482.2 603.91m-1.15 0a1.15 1.15 0 1 0 2.3 0a1.15 1.15 0 1 0 -2.3 0M492.2 603.89m-1.15 0a1.15 1.15 0 1 0 2.3 0a1.15 1.15 0 1 0 -2.3 0M480.2 603.72m-1.15 0a1.15 1.15 0 1 0 2.3 0a1.15 1.15 0 1 0 -2.3 0M478.2 603.72m-1.15 0a1.15 1.15 0 1 0 2.3 0a1.15 1.15 0 1 0 -2.3 0M494.2 603.7m-1.15 0a1.15 1.15 0 1 0 2.3 0a1.15 1.15 0 1 0 -2.3 0M496.2 602.82m-1.15 0a1.15 1.15 0 1 0 2.3 0a1.15 1.15 0 1 0 -2.3 0M476.2 602.21m-1.15 0a1.15 1.15 0 1 0 2.3 0a1.15 1.15 0 1 0 -2.3 0M474.2 601.6m-1.15 0a1.15 1.15 0 1 0 2.3 0a1.15 1.15 0 1 0 -2.3 0M498.2 600.98m-1.15 0a1.15 1.15 0 1 0 2.3 0a1.15 1.15 0 1 0 -2.3 0M486.2 604.9m-1.15 0a1.15 1.15 0 1 0 2.3 0a1.15 1.15 0 1 0 -2.3 0M482.2 604.9m-1.15 0a1.15 1.15 0 1 0 2.3 0a1.15 1.15 0 1 0 -2.3 0M490.2 604.9m-1.15 0a1.15 1.15 0 1 0 2.3 0a1.15 1.15 0 1 0 -2.3 0M494.2 604.9m-1.15 0a1.15 1.15 0 1 0 2.3 0a1.15 1.15 0 1 0 -2.3 0M478.2 604.9m-1.15 0a1.15 1.15 0 1 0 2.3 0a1.15 1.15 0 1 0 -2.3 0M498.2 604.86m-1.15 0a1.15 1.15 0 1 0 2.3 0a1.15 1.15 0 1 0 -2.3 0M474.2 604.85m-1.15 0a1.15 1.15 0 1 0 2.3 0a1.15 1.15 0 1 0 -2.3 0" fill="#08478a"/>
<line x1="435" y1="601.5" x2="460" y2="601.5" stroke="#262626" stroke-width="1.15"/>
<line x1="447.5" y1="599.5" x2="447.5" y2="603.5" stroke="#262626" stroke-width="1.15"/>
<line x1="441" y1="599.5" x2="454" y2="599.5" stroke="#262626" stroke-width="1.15"/>
<line x1="441" y1="603.5" x2="454" y2="603.5" stroke="#262626" stroke-width="1.15"/>
<line x1="474" y1="601.5" x2="499" y2="601.5" stroke="#262626" stroke-width="1.15"/>
<line x1="486.5" y1="591.5" x2="486.5" y2="605.9" stroke="#262626" stroke-width="1.15"/>
<line x1="480" y1="591.5" x2="493" y2="591.5" stroke="#262626" stroke-width="1.15"/>
<path d="M447.3 554.9V551.6H486.2V554.9" fill="none" stroke="#2a2a2a" stroke-width="1.1"/>
<text transform="translate(466.75,548.7) scale(0.930,1)" font-size="7.2" text-anchor="middle" fill="#1e1e1e" stroke="#1e1e1e" stroke-width="0.22">ns</text>
<text transform="translate(447.3,617.6) scale(0.912,1)" font-size="8.2" text-anchor="middle" fill="#1e1e1e" stroke="#1e1e1e" stroke-width="0.22">HD</text>
<text transform="translate(486.2,617.6) scale(0.804,1)" font-size="8.2" text-anchor="middle" fill="#1e1e1e" stroke="#1e1e1e" stroke-width="0.22">SS</text>
<line x1="59.7" y1="629.6" x2="59.7" y2="693.5" stroke="#1e1e1e" stroke-width="1"/>
<line x1="56.4" y1="693" x2="59.7" y2="693" stroke="#1e1e1e" stroke-width="1"/>
<text transform="translate(52.8,696.13) scale(0.860,1)" font-size="8.7" text-anchor="end" fill="#1e1e1e" stroke="#1e1e1e" stroke-width="0.22">0</text>
<line x1="56.4" y1="680.68" x2="59.7" y2="680.68" stroke="#1e1e1e" stroke-width="1"/>
<text transform="translate(52.8,683.81) scale(0.860,1)" font-size="8.7" text-anchor="end" fill="#1e1e1e" stroke="#1e1e1e" stroke-width="0.22">20</text>
<line x1="56.4" y1="668.36" x2="59.7" y2="668.36" stroke="#1e1e1e" stroke-width="1"/>
<text transform="translate(52.8,671.49) scale(0.860,1)" font-size="8.7" text-anchor="end" fill="#1e1e1e" stroke="#1e1e1e" stroke-width="0.22">40</text>
<line x1="56.4" y1="656.04" x2="59.7" y2="656.04" stroke="#1e1e1e" stroke-width="1"/>
<text transform="translate(52.8,659.17) scale(0.860,1)" font-size="8.7" text-anchor="end" fill="#1e1e1e" stroke="#1e1e1e" stroke-width="0.22">60</text>
<line x1="56.4" y1="643.72" x2="59.7" y2="643.72" stroke="#1e1e1e" stroke-width="1"/>
<text transform="translate(52.8,646.85) scale(0.860,1)" font-size="8.7" text-anchor="end" fill="#1e1e1e" stroke="#1e1e1e" stroke-width="0.22">80</text>
<line x1="56.4" y1="631.4" x2="59.7" y2="631.4" stroke="#1e1e1e" stroke-width="1"/>
<text transform="translate(52.8,634.53) scale(0.860,1)" font-size="8.7" text-anchor="end" fill="#1e1e1e" stroke="#1e1e1e" stroke-width="0.22">100</text>
<line x1="59.7" y1="693" x2="150.4" y2="693" stroke="#1e1e1e" stroke-width="1.3"/>
<line x1="85.2" y1="693" x2="85.2" y2="695.6" stroke="#1e1e1e" stroke-width="0.9"/>
<line x1="124.6" y1="693" x2="124.6" y2="695.6" stroke="#1e1e1e" stroke-width="0.9"/>
<path d="M85.2 647.72m-1.15 0a1.15 1.15 0 1 0 2.3 0a1.15 1.15 0 1 0 -2.3 0M85.2 653.58m-1.15 0a1.15 1.15 0 1 0 2.3 0a1.15 1.15 0 1 0 -2.3 0M85.2 676.1m-1.15 0a1.15 1.15 0 1 0 2.3 0a1.15 1.15 0 1 0 -2.3 0M88 676m-1.15 0a1.15 1.15 0 1 0 2.3 0a1.15 1.15 0 1 0 -2.3 0M82.4 675.85m-1.15 0a1.15 1.15 0 1 0 2.3 0a1.15 1.15 0 1 0 -2.3 0M90.8 675.76m-1.15 0a1.15 1.15 0 1 0 2.3 0a1.15 1.15 0 1 0 -2.3 0M79.6 674.93m-1.15 0a1.15 1.15 0 1 0 2.3 0a1.15 1.15 0 1 0 -2.3 0M76.8 674.55m-1.15 0a1.15 1.15 0 1 0 2.3 0a1.15 1.15 0 1 0 -2.3 0M93.6 673.9m-1.15 0a1.15 1.15 0 1 0 2.3 0a1.15 1.15 0 1 0 -2.3 0M74 673.29m-1.15 0a1.15 1.15 0 1 0 2.3 0a1.15 1.15 0 1 0 -2.3 0M96.4 672.67m-1.15 0a1.15 1.15 0 1 0 2.3 0a1.15 1.15 0 1 0 -2.3 0M84.28 680.08m-1.15 0a1.15 1.15 0 1 0 2.3 0a1.15 1.15 0 1 0 -2.3 0M86.12 679.94m-1.15 0a1.15 1.15 0 1 0 2.3 0a1.15 1.15 0 1 0 -2.3 0M87.97 679.51m-1.15 0a1.15 1.15 0 1 0 2.3 0a1.15 1.15 0 1 0 -2.3 0M82.43 678.6m-1.15 0a1.15 1.15 0 1 0 2.3 0a1.15 1.15 0 1 0 -2.3 0M80.58 678.55m-1.15 0a1.15 1.15 0 1 0 2.3 0a1.15 1.15 0 1 0 -2.3 0M89.82 678.38m-1.15 0a1.15 1.15 0 1 0 2.3 0a1.15 1.15 0 1 0 -2.3 0M91.66 678.16m-1.15 0a1.15 1.15 0 1 0 2.3 0a1.15 1.15 0 1 0 -2.3 0M78.74 677.83m-1.15 0a1.15 1.15 0 1 0 2.3 0a1.15 1.15 0 1 0 -2.3 0M76.89 677.83m-1.15 0a1.15 1.15 0 1 0 2.3 0a1.15 1.15 0 1 0 -2.3 0M93.51 677.76m-1.15 0a1.15 1.15 0 1 0 2.3 0a1.15 1.15 0 1 0 -2.3 0M75.05 677.54m-1.15 0a1.15 1.15 0 1 0 2.3 0a1.15 1.15 0 1 0 -2.3 0M95.35 677.5m-1.15 0a1.15 1.15 0 1 0 2.3 0a1.15 1.15 0 1 0 -2.3 0M97.2 676.79m-1.15 0a1.15 1.15 0 1 0 2.3 0a1.15 1.15 0 1 0 -2.3 0M73.2 676.54m-1.15 0a1.15 1.15 0 1 0 2.3 0a1.15 1.15 0 1 0 -2.3 0M86 684.16m-1.15 0a1.15 1.15 0 1 0 2.3 0a1.15 1.15 0 1 0 -2.3 0M84.4 684.14m-1.15 0a1.15 1.15 0 1 0 2.3 0a1.15 1.15 0 1 0 -2.3 0M82.8 683.95m-1.15 0a1.15 1.15 0 1 0 2.3 0a1.15 1.15 0 1 0 -2.3 0M87.6 683.52m-1.15 0a1.15 1.15 0 1 0 2.3 0a1.15 1.15 0 1 0 -2.3 0M89.2 683.4m-1.15 0a1.15 1.15 0 1 0 2.3 0a1.15 1.15 0 1 0 -2.3 0M81.2 683.24m-1.15 0a1.15 1.15 0 1 0 2.3 0a1.15 1.15 0 1 0 -2.3 0M79.6 683.13m-1.15 0a1.15 1.15 0 1 0 2.3 0a1.15 1.15 0 1 0 -2.3 0M90.8 682.24m-1.15 0a1.15 1.15 0 1 0 2.3 0a1.15 1.15 0 1 0 -2.3 0M78 682.07m-1.15 0a1.15 1.15 0 1 0 2.3 0a1.15 1.15 0 1 0 -2.3 0M92.4 682.06m-1.15 0a1.15 1.15 0 1 0 2.3 0a1.15 1.15 0 1 0 -2.3 0M94 681.75m-1.15 0a1.15 1.15 0 1 0 2.3 0a1.15 1.15 0 1 0 -2.3 0M76.4 681.69m-1.15 0a1.15 1.15 0 1 0 2.3 0a1.15 1.15 0 1 0 -2.3 0M74.8 681.55m-1.15 0a1.15 1.15 0 1 0 2.3 0a1.15 1.15 0 1 0 -2.3 0M95.6 681.13m-1.15 0a1.15 1.15 0 1 0 2.3 0a1.15 1.15 0 1 0 -2.3 0M73.2 681.05m-1.15 0a1.15 1.15 0 1 0 2.3 0a1.15 1.15 0 1 0 -2.3 0M97.2 680.82m-1.15 0a1.15 1.15 0 1 0 2.3 0a1.15 1.15 0 1 0 -2.3 0M85.2 686.31m-1.15 0a1.15 1.15 0 1 0 2.3 0a1.15 1.15 0 1 0 -2.3 0M88 686.03m-1.15 0a1.15 1.15 0 1 0 2.3 0a1.15 1.15 0 1 0 -2.3 0M82.4 686.02m-1.15 0a1.15 1.15 0 1 0 2.3 0a1.15 1.15 0 1 0 -2.3 0M79.6 685.76m-1.15 0a1.15 1.15 0 1 0 2.3 0a1.15 1.15 0 1 0 -2.3 0M90.8 685.64m-1.15 0a1.15 1.15 0 1 0 2.3 0a1.15 1.15 0 1 0 -2.3 0M76.8 685.37m-1.15 0a1.15 1.15 0 1 0 2.3 0a1.15 1.15 0 1 0 -2.3 0M93.6 685.16m-1.15 0a1.15 1.15 0 1 0 2.3 0a1.15 1.15 0 1 0 -2.3 0M74 685.02m-1.15 0a1.15 1.15 0 1 0 2.3 0a1.15 1.15 0 1 0 -2.3 0M96.4 684.66m-1.15 0a1.15 1.15 0 1 0 2.3 0a1.15 1.15 0 1 0 -2.3 0M85.2 689.75m-1.15 0a1.15 1.15 0 1 0 2.3 0a1.15 1.15 0 1 0 -2.3 0M82.4 689.72m-1.15 0a1.15 1.15 0 1 0 2.3 0a1.15 1.15 0 1 0 -2.3 0M88 688.96m-1.15 0a1.15 1.15 0 1 0 2.3 0a1.15 1.15 0 1 0 -2.3 0M79.6 688.82m-1.15 0a1.15 1.15 0 1 0 2.3 0a1.15 1.15 0 1 0 -2.3 0M90.8 688.4m-1.15 0a1.15 1.15 0 1 0 2.3 0a1.15 1.15 0 1 0 -2.3 0" fill="#cc0a26"/>
<path d="M124.6 641.5m-1.15 0a1.15 1.15 0 1 0 2.3 0a1.15 1.15 0 1 0 -2.3 0M124.6 645.81m-1.15 0a1.15 1.15 0 1 0 2.3 0a1.15 1.15 0 1 0 -2.3 0M124.6 665.4m-1.15 0a1.15 1.15 0 1 0 2.3 0a1.15 1.15 0 1 0 -2.3 0M124.6 674.52m-1.15 0a1.15 1.15 0 1 0 2.3 0a1.15 1.15 0 1 0 -2.3 0M120 673.29m-1.15 0a1.15 1.15 0 1 0 2.3 0a1.15 1.15 0 1 0 -2.3 0M129.2 672.67m-1.15 0a1.15 1.15 0 1 0 2.3 0a1.15 1.15 0 1 0 -2.3 0M115.4 672.67m-1.15 0a1.15 1.15 0 1 0 2.3 0a1.15 1.15 0 1 0 -2.3 0M133.8 671.44m-1.15 0a1.15 1.15 0 1 0 2.3 0a1.15 1.15 0 1 0 -2.3 0M124.6 679.45m-1.15 0a1.15 1.15 0 1 0 2.3 0a1.15 1.15 0 1 0 -2.3 0M129.2 678.22m-1.15 0a1.15 1.15 0 1 0 2.3 0a1.15 1.15 0 1 0 -2.3 0M120 677.6m-1.15 0a1.15 1.15 0 1 0 2.3 0a1.15 1.15 0 1 0 -2.3 0M115.4 676.37m-1.15 0a1.15 1.15 0 1 0 2.3 0a1.15 1.15 0 1 0 -2.3 0M133.8 675.75m-1.15 0a1.15 1.15 0 1 0 2.3 0a1.15 1.15 0 1 0 -2.3 0M122.3 683.76m-1.15 0a1.15 1.15 0 1 0 2.3 0a1.15 1.15 0 1 0 -2.3 0M126.9 683.14m-1.15 0a1.15 1.15 0 1 0 2.3 0a1.15 1.15 0 1 0 -2.3 0M131.5 682.53m-1.15 0a1.15 1.15 0 1 0 2.3 0a1.15 1.15 0 1 0 -2.3 0M117.7 681.3m-1.15 0a1.15 1.15 0 1 0 2.3 0a1.15 1.15 0 1 0 -2.3 0M113.1 680.68m-1.15 0a1.15 1.15 0 1 0 2.3 0a1.15 1.15 0 1 0 -2.3 0M136.1 680.06m-1.15 0a1.15 1.15 0 1 0 2.3 0a1.15 1.15 0 1 0 -2.3 0M124.6 688.07m-1.15 0a1.15 1.15 0 1 0 2.3 0a1.15 1.15 0 1 0 -2.3 0M129.2 687.46m-1.15 0a1.15 1.15 0 1 0 2.3 0a1.15 1.15 0 1 0 -2.3 0M120 686.22m-1.15 0a1.15 1.15 0 1 0 2.3 0a1.15 1.15 0 1 0 -2.3 0M133.8 685.61m-1.15 0a1.15 1.15 0 1 0 2.3 0a1.15 1.15 0 1 0 -2.3 0M115.4 684.38m-1.15 0a1.15 1.15 0 1 0 2.3 0a1.15 1.15 0 1 0 -2.3 0M124.6 692m-1.15 0a1.15 1.15 0 1 0 2.3 0a1.15 1.15 0 1 0 -2.3 0M129.2 691.77m-1.15 0a1.15 1.15 0 1 0 2.3 0a1.15 1.15 0 1 0 -2.3 0M120 691.15m-1.15 0a1.15 1.15 0 1 0 2.3 0a1.15 1.15 0 1 0 -2.3 0M115.4 690.54m-1.15 0a1.15 1.15 0 1 0 2.3 0a1.15 1.15 0 1 0 -2.3 0M133.8 689.3m-1.15 0a1.15 1.15 0 1 0 2.3 0a1.15 1.15 0 1 0 -2.3 0" fill="#08478a"/>
<line x1="73" y1="680.5" x2="98" y2="680.5" stroke="#262626" stroke-width="1.15"/>
<line x1="85.5" y1="672.5" x2="85.5" y2="688.5" stroke="#262626" stroke-width="1.15"/>
<line x1="79" y1="672.5" x2="92" y2="672.5" stroke="#262626" stroke-width="1.15"/>
<line x1="79" y1="688.5" x2="92" y2="688.5" stroke="#262626" stroke-width="1.15"/>
<line x1="112" y1="679.5" x2="137" y2="679.5" stroke="#262626" stroke-width="1.15"/>
<line x1="124.5" y1="666.5" x2="124.5" y2="691.5" stroke="#262626" stroke-width="1.15"/>
<line x1="118" y1="666.5" x2="131" y2="666.5" stroke="#262626" stroke-width="1.15"/>
<line x1="118" y1="691.5" x2="131" y2="691.5" stroke="#262626" stroke-width="1.15"/>
<path d="M85.2 634.6V631.3H124.6V634.6" fill="none" stroke="#2a2a2a" stroke-width="1.1"/>
<text transform="translate(104.9,628) scale(0.930,1)" font-size="7.2" text-anchor="middle" fill="#1e1e1e" stroke="#1e1e1e" stroke-width="0.22">ns</text>
<text transform="translate(85.2,705) scale(0.912,1)" font-size="8.2" text-anchor="middle" fill="#1e1e1e" stroke="#1e1e1e" stroke-width="0.22">HD</text>
<text transform="translate(124.6,705) scale(0.804,1)" font-size="8.2" text-anchor="middle" fill="#1e1e1e" stroke="#1e1e1e" stroke-width="0.22">SS</text>
<line x1="233.7" y1="629.9" x2="233.7" y2="693.6" stroke="#1e1e1e" stroke-width="1"/>
<line x1="230.4" y1="693.1" x2="233.7" y2="693.1" stroke="#1e1e1e" stroke-width="1"/>
<text transform="translate(226.8,696.23) scale(0.860,1)" font-size="8.7" text-anchor="end" fill="#1e1e1e" stroke="#1e1e1e" stroke-width="0.22">0</text>
<line x1="230.4" y1="680.82" x2="233.7" y2="680.82" stroke="#1e1e1e" stroke-width="1"/>
<text transform="translate(226.8,683.95) scale(0.860,1)" font-size="8.7" text-anchor="end" fill="#1e1e1e" stroke="#1e1e1e" stroke-width="0.22">20</text>
<line x1="230.4" y1="668.54" x2="233.7" y2="668.54" stroke="#1e1e1e" stroke-width="1"/>
<text transform="translate(226.8,671.67) scale(0.860,1)" font-size="8.7" text-anchor="end" fill="#1e1e1e" stroke="#1e1e1e" stroke-width="0.22">40</text>
<line x1="230.4" y1="656.26" x2="233.7" y2="656.26" stroke="#1e1e1e" stroke-width="1"/>
<text transform="translate(226.8,659.39) scale(0.860,1)" font-size="8.7" text-anchor="end" fill="#1e1e1e" stroke="#1e1e1e" stroke-width="0.22">60</text>
<line x1="230.4" y1="643.98" x2="233.7" y2="643.98" stroke="#1e1e1e" stroke-width="1"/>
<text transform="translate(226.8,647.11) scale(0.860,1)" font-size="8.7" text-anchor="end" fill="#1e1e1e" stroke="#1e1e1e" stroke-width="0.22">80</text>
<line x1="230.4" y1="631.7" x2="233.7" y2="631.7" stroke="#1e1e1e" stroke-width="1"/>
<text transform="translate(226.8,634.83) scale(0.860,1)" font-size="8.7" text-anchor="end" fill="#1e1e1e" stroke="#1e1e1e" stroke-width="0.22">100</text>
<line x1="233.7" y1="693.1" x2="325.6" y2="693.1" stroke="#1e1e1e" stroke-width="1.3"/>
<line x1="260.6" y1="693.1" x2="260.6" y2="695.7" stroke="#1e1e1e" stroke-width="0.9"/>
<line x1="299.6" y1="693.1" x2="299.6" y2="695.7" stroke="#1e1e1e" stroke-width="0.9"/>
<path d="M260.6 646.44m-1.15 0a1.15 1.15 0 1 0 2.3 0a1.15 1.15 0 1 0 -2.3 0M260.6 679.59m-1.15 0a1.15 1.15 0 1 0 2.3 0a1.15 1.15 0 1 0 -2.3 0M260.6 688.73m-1.15 0a1.15 1.15 0 1 0 2.3 0a1.15 1.15 0 1 0 -2.3 0M263.6 688.42m-1.15 0a1.15 1.15 0 1 0 2.3 0a1.15 1.15 0 1 0 -2.3 0M257.6 688.2m-1.15 0a1.15 1.15 0 1 0 2.3 0a1.15 1.15 0 1 0 -2.3 0M266.6 688.19m-1.15 0a1.15 1.15 0 1 0 2.3 0a1.15 1.15 0 1 0 -2.3 0M254.6 687.96m-1.15 0a1.15 1.15 0 1 0 2.3 0a1.15 1.15 0 1 0 -2.3 0M251.6 687.3m-1.15 0a1.15 1.15 0 1 0 2.3 0a1.15 1.15 0 1 0 -2.3 0M269.6 686.96m-1.15 0a1.15 1.15 0 1 0 2.3 0a1.15 1.15 0 1 0 -2.3 0M248.6 685.73m-1.15 0a1.15 1.15 0 1 0 2.3 0a1.15 1.15 0 1 0 -2.3 0M272.6 685.12m-1.15 0a1.15 1.15 0 1 0 2.3 0a1.15 1.15 0 1 0 -2.3 0M260.21 692.1m-1.15 0a1.15 1.15 0 1 0 2.3 0a1.15 1.15 0 1 0 -2.3 0M260.99 692.1m-1.15 0a1.15 1.15 0 1 0 2.3 0a1.15 1.15 0 1 0 -2.3 0M259.44 692.1m-1.15 0a1.15 1.15 0 1 0 2.3 0a1.15 1.15 0 1 0 -2.3 0M261.76 692.1m-1.15 0a1.15 1.15 0 1 0 2.3 0a1.15 1.15 0 1 0 -2.3 0M258.66 692.1m-1.15 0a1.15 1.15 0 1 0 2.3 0a1.15 1.15 0 1 0 -2.3 0M262.54 692.1m-1.15 0a1.15 1.15 0 1 0 2.3 0a1.15 1.15 0 1 0 -2.3 0M263.31 692.1m-1.15 0a1.15 1.15 0 1 0 2.3 0a1.15 1.15 0 1 0 -2.3 0M257.89 692.1m-1.15 0a1.15 1.15 0 1 0 2.3 0a1.15 1.15 0 1 0 -2.3 0M264.08 691.93m-1.15 0a1.15 1.15 0 1 0 2.3 0a1.15 1.15 0 1 0 -2.3 0M257.12 691.62m-1.15 0a1.15 1.15 0 1 0 2.3 0a1.15 1.15 0 1 0 -2.3 0M256.34 691.6m-1.15 0a1.15 1.15 0 1 0 2.3 0a1.15 1.15 0 1 0 -2.3 0M264.86 691.54m-1.15 0a1.15 1.15 0 1 0 2.3 0a1.15 1.15 0 1 0 -2.3 0M255.57 691.42m-1.15 0a1.15 1.15 0 1 0 2.3 0a1.15 1.15 0 1 0 -2.3 0M265.63 691.38m-1.15 0a1.15 1.15 0 1 0 2.3 0a1.15 1.15 0 1 0 -2.3 0M266.41 691.34m-1.15 0a1.15 1.15 0 1 0 2.3 0a1.15 1.15 0 1 0 -2.3 0M254.79 691.29m-1.15 0a1.15 1.15 0 1 0 2.3 0a1.15 1.15 0 1 0 -2.3 0M267.18 690.99m-1.15 0a1.15 1.15 0 1 0 2.3 0a1.15 1.15 0 1 0 -2.3 0M254.02 690.96m-1.15 0a1.15 1.15 0 1 0 2.3 0a1.15 1.15 0 1 0 -2.3 0M253.25 690.63m-1.15 0a1.15 1.15 0 1 0 2.3 0a1.15 1.15 0 1 0 -2.3 0M267.95 690.54m-1.15 0a1.15 1.15 0 1 0 2.3 0a1.15 1.15 0 1 0 -2.3 0M268.73 690.53m-1.15 0a1.15 1.15 0 1 0 2.3 0a1.15 1.15 0 1 0 -2.3 0M252.47 690.48m-1.15 0a1.15 1.15 0 1 0 2.3 0a1.15 1.15 0 1 0 -2.3 0M251.7 690.29m-1.15 0a1.15 1.15 0 1 0 2.3 0a1.15 1.15 0 1 0 -2.3 0M269.5 690.2m-1.15 0a1.15 1.15 0 1 0 2.3 0a1.15 1.15 0 1 0 -2.3 0M250.92 689.88m-1.15 0a1.15 1.15 0 1 0 2.3 0a1.15 1.15 0 1 0 -2.3 0M270.28 689.83m-1.15 0a1.15 1.15 0 1 0 2.3 0a1.15 1.15 0 1 0 -2.3 0M271.05 689.74m-1.15 0a1.15 1.15 0 1 0 2.3 0a1.15 1.15 0 1 0 -2.3 0M250.15 689.71m-1.15 0a1.15 1.15 0 1 0 2.3 0a1.15 1.15 0 1 0 -2.3 0M249.37 689.53m-1.15 0a1.15 1.15 0 1 0 2.3 0a1.15 1.15 0 1 0 -2.3 0M271.83 689.52m-1.15 0a1.15 1.15 0 1 0 2.3 0a1.15 1.15 0 1 0 -2.3 0M272.6 689.12m-1.15 0a1.15 1.15 0 1 0 2.3 0a1.15 1.15 0 1 0 -2.3 0M248.6 689.08m-1.15 0a1.15 1.15 0 1 0 2.3 0a1.15 1.15 0 1 0 -2.3 0" fill="#cc0a26"/>
<path d="M299.6 645.21m-1.15 0a1.15 1.15 0 1 0 2.3 0a1.15 1.15 0 1 0 -2.3 0M299.6 674.68m-1.15 0a1.15 1.15 0 1 0 2.3 0a1.15 1.15 0 1 0 -2.3 0M299.6 689.52m-1.15 0a1.15 1.15 0 1 0 2.3 0a1.15 1.15 0 1 0 -2.3 0M301.6 689.44m-1.15 0a1.15 1.15 0 1 0 2.3 0a1.15 1.15 0 1 0 -2.3 0M297.6 689.43m-1.15 0a1.15 1.15 0 1 0 2.3 0a1.15 1.15 0 1 0 -2.3 0M303.6 689.39m-1.15 0a1.15 1.15 0 1 0 2.3 0a1.15 1.15 0 1 0 -2.3 0M295.6 689.33m-1.15 0a1.15 1.15 0 1 0 2.3 0a1.15 1.15 0 1 0 -2.3 0M305.6 689.24m-1.15 0a1.15 1.15 0 1 0 2.3 0a1.15 1.15 0 1 0 -2.3 0M293.6 689.17m-1.15 0a1.15 1.15 0 1 0 2.3 0a1.15 1.15 0 1 0 -2.3 0M307.6 688.8m-1.15 0a1.15 1.15 0 1 0 2.3 0a1.15 1.15 0 1 0 -2.3 0M291.6 688.19m-1.15 0a1.15 1.15 0 1 0 2.3 0a1.15 1.15 0 1 0 -2.3 0M289.6 687.57m-1.15 0a1.15 1.15 0 1 0 2.3 0a1.15 1.15 0 1 0 -2.3 0M309.6 686.96m-1.15 0a1.15 1.15 0 1 0 2.3 0a1.15 1.15 0 1 0 -2.3 0M287.6 686.35m-1.15 0a1.15 1.15 0 1 0 2.3 0a1.15 1.15 0 1 0 -2.3 0M311.6 685.73m-1.15 0a1.15 1.15 0 1 0 2.3 0a1.15 1.15 0 1 0 -2.3 0M299.6 692.1m-1.15 0a1.15 1.15 0 1 0 2.3 0a1.15 1.15 0 1 0 -2.3 0M298.1 692.1m-1.15 0a1.15 1.15 0 1 0 2.3 0a1.15 1.15 0 1 0 -2.3 0M301.1 692.1m-1.15 0a1.15 1.15 0 1 0 2.3 0a1.15 1.15 0 1 0 -2.3 0M302.6 692.1m-1.15 0a1.15 1.15 0 1 0 2.3 0a1.15 1.15 0 1 0 -2.3 0M296.6 692.1m-1.15 0a1.15 1.15 0 1 0 2.3 0a1.15 1.15 0 1 0 -2.3 0M295.1 692.05m-1.15 0a1.15 1.15 0 1 0 2.3 0a1.15 1.15 0 1 0 -2.3 0M304.1 692.02m-1.15 0a1.15 1.15 0 1 0 2.3 0a1.15 1.15 0 1 0 -2.3 0M293.6 691.98m-1.15 0a1.15 1.15 0 1 0 2.3 0a1.15 1.15 0 1 0 -2.3 0M305.6 691.69m-1.15 0a1.15 1.15 0 1 0 2.3 0a1.15 1.15 0 1 0 -2.3 0M307.1 691.66m-1.15 0a1.15 1.15 0 1 0 2.3 0a1.15 1.15 0 1 0 -2.3 0M292.1 691.5m-1.15 0a1.15 1.15 0 1 0 2.3 0a1.15 1.15 0 1 0 -2.3 0M308.6 691.49m-1.15 0a1.15 1.15 0 1 0 2.3 0a1.15 1.15 0 1 0 -2.3 0M290.6 691.42m-1.15 0a1.15 1.15 0 1 0 2.3 0a1.15 1.15 0 1 0 -2.3 0M310.1 691.33m-1.15 0a1.15 1.15 0 1 0 2.3 0a1.15 1.15 0 1 0 -2.3 0M289.1 690.09m-1.15 0a1.15 1.15 0 1 0 2.3 0a1.15 1.15 0 1 0 -2.3 0M311.6 689.99m-1.15 0a1.15 1.15 0 1 0 2.3 0a1.15 1.15 0 1 0 -2.3 0M287.6 689.74m-1.15 0a1.15 1.15 0 1 0 2.3 0a1.15 1.15 0 1 0 -2.3 0" fill="#08478a"/>
<line x1="248" y1="689.5" x2="273" y2="689.5" stroke="#262626" stroke-width="1.15"/>
<line x1="260.5" y1="682.5" x2="260.5" y2="693.1" stroke="#262626" stroke-width="1.15"/>
<line x1="254" y1="682.5" x2="267" y2="682.5" stroke="#262626" stroke-width="1.15"/>
<line x1="287" y1="688.5" x2="312" y2="688.5" stroke="#262626" stroke-width="1.15"/>
<line x1="299.5" y1="679.5" x2="299.5" y2="693.1" stroke="#262626" stroke-width="1.15"/>
<line x1="293" y1="679.5" x2="306" y2="679.5" stroke="#262626" stroke-width="1.15"/>
<path d="M260.6 635V631.7H299.6V635" fill="none" stroke="#2a2a2a" stroke-width="1.1"/>
<text transform="translate(280.1,628.2) scale(0.930,1)" font-size="7.2" text-anchor="middle" fill="#1e1e1e" stroke="#1e1e1e" stroke-width="0.22">ns</text>
<text transform="translate(260.6,705) scale(0.912,1)" font-size="8.2" text-anchor="middle" fill="#1e1e1e" stroke="#1e1e1e" stroke-width="0.22">HD</text>
<text transform="translate(299.6,705) scale(0.804,1)" font-size="8.2" text-anchor="middle" fill="#1e1e1e" stroke="#1e1e1e" stroke-width="0.22">SS</text>
<line x1="421" y1="629.6" x2="421" y2="693.4" stroke="#1e1e1e" stroke-width="1"/>
<line x1="417.7" y1="692.9" x2="421" y2="692.9" stroke="#1e1e1e" stroke-width="1"/>
<text transform="translate(414.1,696.03) scale(0.860,1)" font-size="8.7" text-anchor="end" fill="#1e1e1e" stroke="#1e1e1e" stroke-width="0.22">0</text>
<line x1="417.7" y1="680.6" x2="421" y2="680.6" stroke="#1e1e1e" stroke-width="1"/>
<text transform="translate(414.1,683.73) scale(0.860,1)" font-size="8.7" text-anchor="end" fill="#1e1e1e" stroke="#1e1e1e" stroke-width="0.22">20</text>
<line x1="417.7" y1="668.3" x2="421" y2="668.3" stroke="#1e1e1e" stroke-width="1"/>
<text transform="translate(414.1,671.43) scale(0.860,1)" font-size="8.7" text-anchor="end" fill="#1e1e1e" stroke="#1e1e1e" stroke-width="0.22">40</text>
<line x1="417.7" y1="656" x2="421" y2="656" stroke="#1e1e1e" stroke-width="1"/>
<text transform="translate(414.1,659.13) scale(0.860,1)" font-size="8.7" text-anchor="end" fill="#1e1e1e" stroke="#1e1e1e" stroke-width="0.22">60</text>
<line x1="417.7" y1="643.7" x2="421" y2="643.7" stroke="#1e1e1e" stroke-width="1"/>
<text transform="translate(414.1,646.83) scale(0.860,1)" font-size="8.7" text-anchor="end" fill="#1e1e1e" stroke="#1e1e1e" stroke-width="0.22">80</text>
<line x1="417.7" y1="631.4" x2="421" y2="631.4" stroke="#1e1e1e" stroke-width="1"/>
<text transform="translate(414.1,634.53) scale(0.860,1)" font-size="8.7" text-anchor="end" fill="#1e1e1e" stroke="#1e1e1e" stroke-width="0.22">100</text>
<line x1="421" y1="692.9" x2="513.4" y2="692.9" stroke="#1e1e1e" stroke-width="1.3"/>
<line x1="447.3" y1="692.9" x2="447.3" y2="695.5" stroke="#1e1e1e" stroke-width="0.9"/>
<line x1="486.2" y1="692.9" x2="486.2" y2="695.5" stroke="#1e1e1e" stroke-width="0.9"/>
<path d="M447.3 643.81m-1.15 0a1.15 1.15 0 1 0 2.3 0a1.15 1.15 0 1 0 -2.3 0M450.3 643.24m-1.15 0a1.15 1.15 0 1 0 2.3 0a1.15 1.15 0 1 0 -2.3 0M444.3 642.95m-1.15 0a1.15 1.15 0 1 0 2.3 0a1.15 1.15 0 1 0 -2.3 0M441.3 642.92m-1.15 0a1.15 1.15 0 1 0 2.3 0a1.15 1.15 0 1 0 -2.3 0M453.3 642.51m-1.15 0a1.15 1.15 0 1 0 2.3 0a1.15 1.15 0 1 0 -2.3 0M456.3 642.47m-1.15 0a1.15 1.15 0 1 0 2.3 0a1.15 1.15 0 1 0 -2.3 0M438.3 641.86m-1.15 0a1.15 1.15 0 1 0 2.3 0a1.15 1.15 0 1 0 -2.3 0M435.3 641.24m-1.15 0a1.15 1.15 0 1 0 2.3 0a1.15 1.15 0 1 0 -2.3 0M459.3 640.62m-1.15 0a1.15 1.15 0 1 0 2.3 0a1.15 1.15 0 1 0 -2.3 0M447.3 648.37m-1.15 0a1.15 1.15 0 1 0 2.3 0a1.15 1.15 0 1 0 -2.3 0M449.3 648.34m-1.15 0a1.15 1.15 0 1 0 2.3 0a1.15 1.15 0 1 0 -2.3 0M445.3 648.11m-1.15 0a1.15 1.15 0 1 0 2.3 0a1.15 1.15 0 1 0 -2.3 0M443.3 647.69m-1.15 0a1.15 1.15 0 1 0 2.3 0a1.15 1.15 0 1 0 -2.3 0M451.3 647.45m-1.15 0a1.15 1.15 0 1 0 2.3 0a1.15 1.15 0 1 0 -2.3 0M453.3 646.8m-1.15 0a1.15 1.15 0 1 0 2.3 0a1.15 1.15 0 1 0 -2.3 0M441.3 646.1m-1.15 0a1.15 1.15 0 1 0 2.3 0a1.15 1.15 0 1 0 -2.3 0M455.3 645.99m-1.15 0a1.15 1.15 0 1 0 2.3 0a1.15 1.15 0 1 0 -2.3 0M439.3 645.97m-1.15 0a1.15 1.15 0 1 0 2.3 0a1.15 1.15 0 1 0 -2.3 0M437.3 645.53m-1.15 0a1.15 1.15 0 1 0 2.3 0a1.15 1.15 0 1 0 -2.3 0M457.3 644.96m-1.15 0a1.15 1.15 0 1 0 2.3 0a1.15 1.15 0 1 0 -2.3 0M435.3 644.6m-1.15 0a1.15 1.15 0 1 0 2.3 0a1.15 1.15 0 1 0 -2.3 0M459.3 644.57m-1.15 0a1.15 1.15 0 1 0 2.3 0a1.15 1.15 0 1 0 -2.3 0M447.3 651.09m-1.15 0a1.15 1.15 0 1 0 2.3 0a1.15 1.15 0 1 0 -2.3 0M444.3 651.06m-1.15 0a1.15 1.15 0 1 0 2.3 0a1.15 1.15 0 1 0 -2.3 0M450.3 650.9m-1.15 0a1.15 1.15 0 1 0 2.3 0a1.15 1.15 0 1 0 -2.3 0M441.3 649.77m-1.15 0a1.15 1.15 0 1 0 2.3 0a1.15 1.15 0 1 0 -2.3 0M453.3 649.76m-1.15 0a1.15 1.15 0 1 0 2.3 0a1.15 1.15 0 1 0 -2.3 0M456.3 649.56m-1.15 0a1.15 1.15 0 1 0 2.3 0a1.15 1.15 0 1 0 -2.3 0M438.3 649.31m-1.15 0a1.15 1.15 0 1 0 2.3 0a1.15 1.15 0 1 0 -2.3 0M435.3 648.56m-1.15 0a1.15 1.15 0 1 0 2.3 0a1.15 1.15 0 1 0 -2.3 0M459.3 648.48m-1.15 0a1.15 1.15 0 1 0 2.3 0a1.15 1.15 0 1 0 -2.3 0M447.3 655.03m-1.15 0a1.15 1.15 0 1 0 2.3 0a1.15 1.15 0 1 0 -2.3 0M444.3 654.69m-1.15 0a1.15 1.15 0 1 0 2.3 0a1.15 1.15 0 1 0 -2.3 0M450.3 653.98m-1.15 0a1.15 1.15 0 1 0 2.3 0a1.15 1.15 0 1 0 -2.3 0M453.3 653.55m-1.15 0a1.15 1.15 0 1 0 2.3 0a1.15 1.15 0 1 0 -2.3 0M441.3 653.39m-1.15 0a1.15 1.15 0 1 0 2.3 0a1.15 1.15 0 1 0 -2.3 0M438.3 653.28m-1.15 0a1.15 1.15 0 1 0 2.3 0a1.15 1.15 0 1 0 -2.3 0M456.3 653.17m-1.15 0a1.15 1.15 0 1 0 2.3 0a1.15 1.15 0 1 0 -2.3 0M435.3 652.82m-1.15 0a1.15 1.15 0 1 0 2.3 0a1.15 1.15 0 1 0 -2.3 0M459.3 652.71m-1.15 0a1.15 1.15 0 1 0 2.3 0a1.15 1.15 0 1 0 -2.3 0M449.4 660.43m-1.15 0a1.15 1.15 0 1 0 2.3 0a1.15 1.15 0 1 0 -2.3 0M445.2 660.4m-1.15 0a1.15 1.15 0 1 0 2.3 0a1.15 1.15 0 1 0 -2.3 0M453.6 660.32m-1.15 0a1.15 1.15 0 1 0 2.3 0a1.15 1.15 0 1 0 -2.3 0M441 660.15m-1.15 0a1.15 1.15 0 1 0 2.3 0a1.15 1.15 0 1 0 -2.3 0M457.8 660.08m-1.15 0a1.15 1.15 0 1 0 2.3 0a1.15 1.15 0 1 0 -2.3 0M436.8 657.18m-1.15 0a1.15 1.15 0 1 0 2.3 0a1.15 1.15 0 1 0 -2.3 0M447.3 666.45m-1.15 0a1.15 1.15 0 1 0 2.3 0a1.15 1.15 0 1 0 -2.3 0M449.4 682.44m-1.15 0a1.15 1.15 0 1 0 2.3 0a1.15 1.15 0 1 0 -2.3 0M445.2 678.75m-1.15 0a1.15 1.15 0 1 0 2.3 0a1.15 1.15 0 1 0 -2.3 0M447.3 683.06m-1.15 0a1.15 1.15 0 1 0 2.3 0a1.15 1.15 0 1 0 -2.3 0" fill="#cc0a26"/>
<path d="M486.2 638.78m-1.15 0a1.15 1.15 0 1 0 2.3 0a1.15 1.15 0 1 0 -2.3 0M490.4 637.55m-1.15 0a1.15 1.15 0 1 0 2.3 0a1.15 1.15 0 1 0 -2.3 0M482 636.32m-1.15 0a1.15 1.15 0 1 0 2.3 0a1.15 1.15 0 1 0 -2.3 0M477.8 635.7m-1.15 0a1.15 1.15 0 1 0 2.3 0a1.15 1.15 0 1 0 -2.3 0M494.6 634.48m-1.15 0a1.15 1.15 0 1 0 2.3 0a1.15 1.15 0 1 0 -2.3 0M486.2 644.93m-1.15 0a1.15 1.15 0 1 0 2.3 0a1.15 1.15 0 1 0 -2.3 0M490.4 643.7m-1.15 0a1.15 1.15 0 1 0 2.3 0a1.15 1.15 0 1 0 -2.3 0M482 642.47m-1.15 0a1.15 1.15 0 1 0 2.3 0a1.15 1.15 0 1 0 -2.3 0M477.8 641.24m-1.15 0a1.15 1.15 0 1 0 2.3 0a1.15 1.15 0 1 0 -2.3 0M494.6 640.62m-1.15 0a1.15 1.15 0 1 0 2.3 0a1.15 1.15 0 1 0 -2.3 0M486.2 649.85m-1.15 0a1.15 1.15 0 1 0 2.3 0a1.15 1.15 0 1 0 -2.3 0M482 648m-1.15 0a1.15 1.15 0 1 0 2.3 0a1.15 1.15 0 1 0 -2.3 0M490.4 647.39m-1.15 0a1.15 1.15 0 1 0 2.3 0a1.15 1.15 0 1 0 -2.3 0M477.8 646.77m-1.15 0a1.15 1.15 0 1 0 2.3 0a1.15 1.15 0 1 0 -2.3 0M494.6 646.16m-1.15 0a1.15 1.15 0 1 0 2.3 0a1.15 1.15 0 1 0 -2.3 0M486.2 654.77m-1.15 0a1.15 1.15 0 1 0 2.3 0a1.15 1.15 0 1 0 -2.3 0M490.4 652.92m-1.15 0a1.15 1.15 0 1 0 2.3 0a1.15 1.15 0 1 0 -2.3 0M482 651.08m-1.15 0a1.15 1.15 0 1 0 2.3 0a1.15 1.15 0 1 0 -2.3 0M486.2 659.07m-1.15 0a1.15 1.15 0 1 0 2.3 0a1.15 1.15 0 1 0 -2.3 0M490.4 657.85m-1.15 0a1.15 1.15 0 1 0 2.3 0a1.15 1.15 0 1 0 -2.3 0M482 656m-1.15 0a1.15 1.15 0 1 0 2.3 0a1.15 1.15 0 1 0 -2.3 0M488.3 665.23m-1.15 0a1.15 1.15 0 1 0 2.3 0a1.15 1.15 0 1 0 -2.3 0M484.1 662.15m-1.15 0a1.15 1.15 0 1 0 2.3 0a1.15 1.15 0 1 0 -2.3 0M486.2 683.06m-1.15 0a1.15 1.15 0 1 0 2.3 0a1.15 1.15 0 1 0 -2.3 0M482 680.6m-1.15 0a1.15 1.15 0 1 0 2.3 0a1.15 1.15 0 1 0 -2.3 0M490.4 678.75m-1.15 0a1.15 1.15 0 1 0 2.3 0a1.15 1.15 0 1 0 -2.3 0M486.2 689.21m-1.15 0a1.15 1.15 0 1 0 2.3 0a1.15 1.15 0 1 0 -2.3 0" fill="#08478a"/>
<line x1="435" y1="651.5" x2="460" y2="651.5" stroke="#262626" stroke-width="1.15"/>
<line x1="447.5" y1="641.5" x2="447.5" y2="661.5" stroke="#262626" stroke-width="1.15"/>
<line x1="441" y1="641.5" x2="454" y2="641.5" stroke="#262626" stroke-width="1.15"/>
<line x1="441" y1="661.5" x2="454" y2="661.5" stroke="#262626" stroke-width="1.15"/>
<line x1="474" y1="652.5" x2="499" y2="652.5" stroke="#262626" stroke-width="1.15"/>
<line x1="486.5" y1="637.5" x2="486.5" y2="667.5" stroke="#262626" stroke-width="1.15"/>
<line x1="480" y1="637.5" x2="493" y2="637.5" stroke="#262626" stroke-width="1.15"/>
<line x1="480" y1="667.5" x2="493" y2="667.5" stroke="#262626" stroke-width="1.15"/>
<path d="M447.3 632.1V628.8H486.2V632.1" fill="none" stroke="#2a2a2a" stroke-width="1.1"/>
<text transform="translate(466.75,625.8) scale(0.930,1)" font-size="7.2" text-anchor="middle" fill="#1e1e1e" stroke="#1e1e1e" stroke-width="0.22">ns</text>
<text transform="translate(447.3,705) scale(0.912,1)" font-size="8.2" text-anchor="middle" fill="#1e1e1e" stroke="#1e1e1e" stroke-width="0.22">HD</text>
<text transform="translate(486.2,705) scale(0.804,1)" font-size="8.2" text-anchor="middle" fill="#1e1e1e" stroke="#1e1e1e" stroke-width="0.22">SS</text>
<text transform="translate(34.7,492.4) rotate(-90) scale(0.756,1)" font-size="9.8" text-anchor="middle" fill="#1e1e1e" stroke="#1e1e1e" stroke-width="0.17">% of CD39<tspan font-size="5.88" baseline-shift="3.53">+</tspan> cells</text>
<text transform="translate(34.7,573.7) rotate(-90) scale(0.746,1)" font-size="9.8" text-anchor="middle" fill="#1e1e1e" stroke="#1e1e1e" stroke-width="0.17">% of CD39<tspan font-size="5.88" baseline-shift="3.53">+</tspan> cells</text>
<text transform="translate(34.7,662.2) rotate(-90) scale(0.757,1)" font-size="9.8" text-anchor="middle" fill="#1e1e1e" stroke="#1e1e1e" stroke-width="0.17">% of CD39<tspan font-size="5.88" baseline-shift="3.53">+</tspan> cells</text>
<text transform="translate(209.6,493.3) rotate(-90) scale(0.763,1)" font-size="9.8" text-anchor="middle" fill="#1e1e1e" stroke="#1e1e1e" stroke-width="0.17">% of CD73<tspan font-size="5.88" baseline-shift="3.53">+</tspan> cells</text>
<text transform="translate(213.8,574.3) rotate(-90) scale(0.775,1)" font-size="9.8" text-anchor="middle" fill="#1e1e1e" stroke="#1e1e1e" stroke-width="0.17">% of CD73<tspan font-size="5.88" baseline-shift="3.53">+</tspan> cells</text>
<text transform="translate(209.5,662.1) rotate(-90) scale(0.809,1)" font-size="9.8" text-anchor="middle" fill="#1e1e1e" stroke="#1e1e1e" stroke-width="0.17">% of CD73<tspan font-size="5.88" baseline-shift="3.53">+</tspan> cells</text>
<text transform="translate(385.5,493.75) rotate(-90) scale(0.788,1)" font-size="9.8" text-anchor="middle" fill="#1e1e1e" stroke="#1e1e1e" stroke-width="0.17">% of CD39<tspan font-size="5.88" baseline-shift="3.53">+</tspan>CD73<tspan font-size="5.88" baseline-shift="3.53">+</tspan></text>
<text transform="translate(397.6,493.25) rotate(-90) scale(0.735,1)" font-size="9.8" text-anchor="middle" fill="#1e1e1e" stroke="#1e1e1e" stroke-width="0.17">cells</text>
<text transform="translate(385.5,575.25) rotate(-90) scale(0.788,1)" font-size="9.8" text-anchor="middle" fill="#1e1e1e" stroke="#1e1e1e" stroke-width="0.17">% of CD39<tspan font-size="5.88" baseline-shift="3.53">+</tspan>CD73<tspan font-size="5.88" baseline-shift="3.53">+</tspan></text>
<text transform="translate(397.6,574.75) rotate(-90) scale(0.735,1)" font-size="9.8" text-anchor="middle" fill="#1e1e1e" stroke="#1e1e1e" stroke-width="0.17">cells</text>
<text transform="translate(385.5,662.25) rotate(-90) scale(0.788,1)" font-size="9.8" text-anchor="middle" fill="#1e1e1e" stroke="#1e1e1e" stroke-width="0.17">% of CD39<tspan font-size="5.88" baseline-shift="3.53">+</tspan>CD73<tspan font-size="5.88" baseline-shift="3.53">+</tspan></text>
<text transform="translate(397.6,661.75) rotate(-90) scale(0.735,1)" font-size="9.8" text-anchor="middle" fill="#1e1e1e" stroke="#1e1e1e" stroke-width="0.17">cells</text>
<text transform="translate(20.6,492.8) rotate(-90) scale(0.821,1)" font-size="9" text-anchor="middle" font-weight="bold" fill="#000" stroke="#000" stroke-width="0.2">CD8<tspan font-size="5.4" baseline-shift="3.24">+</tspan> T cells</text>
<text transform="translate(20.6,574.2) rotate(-90) scale(0.780,1)" font-size="9" text-anchor="middle" font-weight="bold" fill="#000" stroke="#000" stroke-width="0.2">NK cells</text>
<text transform="translate(20.6,662.6) rotate(-90) scale(0.744,1)" font-size="9" text-anchor="middle" font-weight="bold" fill="#000" stroke="#000" stroke-width="0.2">B cells</text></svg></body></html>
